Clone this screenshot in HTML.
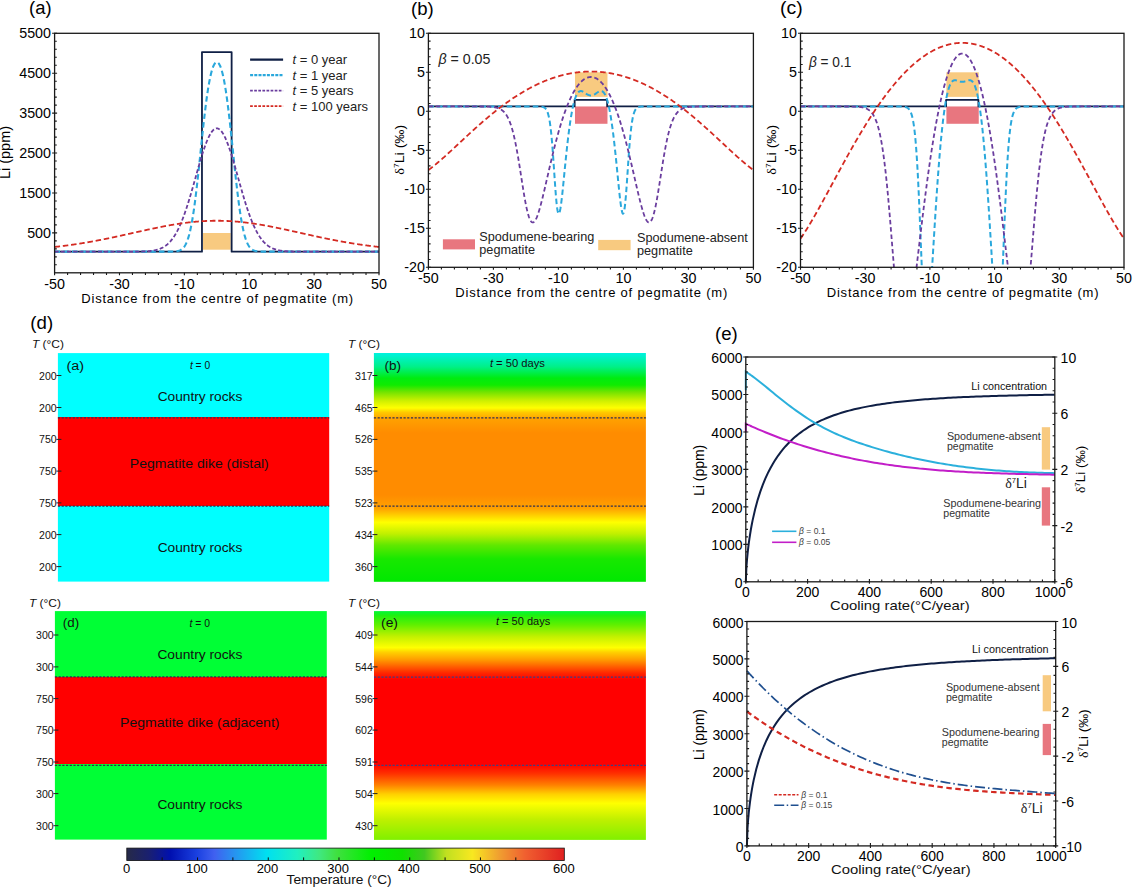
<!DOCTYPE html>
<html><head><meta charset="utf-8"><style>
html,body{margin:0;padding:0;background:#fff;}
svg{display:block;}
</style></head><body>
<svg width="1134" height="887" viewBox="0 0 1134 887" font-family="'Liberation Sans', Arial, sans-serif">
<rect width="1134" height="887" fill="#fff"/>
<defs><clipPath id="ca"><rect x="54.6" y="33.3" width="324.4" height="239.5"/></clipPath>
<clipPath id="cb"><rect x="428.4" y="33.3" width="325.0" height="234.0"/></clipPath>
<clipPath id="cc"><rect x="800.5" y="33.3" width="323.5" height="234.0"/></clipPath>
</defs>
<text x="29.1" y="14" font-size="18" textLength="22.5" lengthAdjust="spacingAndGlyphs">(a)</text>
<rect x="203" y="233" width="27.7" height="16.7" fill="#f8ca80"/>
<path d="M54.6,251.64 L201.97,251.64 L201.97,52.06 L231.63,52.06 L231.63,251.64 L379,251.64" stroke="#0f1f45" stroke-width="1.8" fill="none" stroke-linejoin="round" />
<path d="M54.6,251.64 L55.01,251.64 L55.41,251.64 L55.82,251.64 L56.22,251.64 L56.63,251.64 L57.03,251.64 L57.44,251.64 L57.84,251.64 L58.25,251.64 L58.66,251.64 L59.06,251.64 L59.47,251.64 L59.87,251.64 L60.28,251.64 L60.68,251.64 L61.09,251.64 L61.49,251.64 L61.9,251.64 L62.3,251.64 L62.71,251.64 L63.12,251.64 L63.52,251.64 L63.93,251.64 L64.33,251.64 L64.74,251.64 L65.14,251.64 L65.55,251.64 L65.95,251.64 L66.36,251.64 L66.77,251.64 L67.17,251.64 L67.58,251.64 L67.98,251.64 L68.39,251.64 L68.79,251.64 L69.2,251.64 L69.6,251.64 L70.01,251.64 L70.41,251.64 L70.82,251.64 L71.23,251.64 L71.63,251.64 L72.04,251.64 L72.44,251.64 L72.85,251.64 L73.25,251.64 L73.66,251.64 L74.06,251.64 L74.47,251.64 L74.88,251.64 L75.28,251.64 L75.69,251.64 L76.09,251.64 L76.5,251.64 L76.9,251.64 L77.31,251.64 L77.71,251.64 L78.12,251.64 L78.52,251.64 L78.93,251.64 L79.34,251.64 L79.74,251.64 L80.15,251.64 L80.55,251.64 L80.96,251.64 L81.36,251.64 L81.77,251.64 L82.17,251.64 L82.58,251.64 L82.98,251.64 L83.39,251.64 L83.8,251.64 L84.2,251.64 L84.61,251.64 L85.01,251.64 L85.42,251.64 L85.82,251.64 L86.23,251.64 L86.63,251.64 L87.04,251.64 L87.45,251.64 L87.85,251.64 L88.26,251.64 L88.66,251.64 L89.07,251.64 L89.47,251.64 L89.88,251.64 L90.28,251.64 L90.69,251.64 L91.09,251.64 L91.5,251.64 L91.91,251.64 L92.31,251.64 L92.72,251.64 L93.12,251.64 L93.53,251.64 L93.93,251.64 L94.34,251.64 L94.74,251.64 L95.15,251.64 L95.56,251.64 L95.96,251.64 L96.37,251.64 L96.77,251.64 L97.18,251.64 L97.58,251.64 L97.99,251.64 L98.39,251.64 L98.8,251.64 L99.21,251.64 L99.61,251.64 L100.02,251.64 L100.42,251.64 L100.83,251.64 L101.23,251.64 L101.64,251.64 L102.04,251.64 L102.45,251.64 L102.85,251.64 L103.26,251.64 L103.67,251.64 L104.07,251.64 L104.48,251.64 L104.88,251.64 L105.29,251.64 L105.69,251.64 L106.1,251.64 L106.5,251.64 L106.91,251.64 L107.31,251.64 L107.72,251.64 L108.13,251.64 L108.53,251.64 L108.94,251.64 L109.34,251.64 L109.75,251.64 L110.15,251.64 L110.56,251.64 L110.96,251.64 L111.37,251.64 L111.78,251.64 L112.18,251.64 L112.59,251.64 L112.99,251.64 L113.4,251.64 L113.8,251.64 L114.21,251.64 L114.61,251.64 L115.02,251.64 L115.42,251.64 L115.83,251.64 L116.24,251.64 L116.64,251.64 L117.05,251.64 L117.45,251.64 L117.86,251.64 L118.26,251.64 L118.67,251.64 L119.07,251.64 L119.48,251.64 L119.89,251.64 L120.29,251.64 L120.7,251.64 L121.1,251.64 L121.51,251.64 L121.91,251.64 L122.32,251.64 L122.72,251.64 L123.13,251.64 L123.53,251.64 L123.94,251.64 L124.35,251.64 L124.75,251.64 L125.16,251.64 L125.56,251.64 L125.97,251.64 L126.37,251.64 L126.78,251.64 L127.18,251.64 L127.59,251.64 L128,251.64 L128.4,251.64 L128.81,251.64 L129.21,251.64 L129.62,251.64 L130.02,251.64 L130.43,251.64 L130.83,251.64 L131.24,251.64 L131.64,251.64 L132.05,251.64 L132.46,251.64 L132.86,251.64 L133.27,251.64 L133.67,251.64 L134.08,251.64 L134.48,251.64 L134.89,251.64 L135.29,251.64 L135.7,251.64 L136.11,251.64 L136.51,251.64 L136.92,251.64 L137.32,251.64 L137.73,251.64 L138.13,251.64 L138.54,251.64 L138.94,251.64 L139.35,251.64 L139.75,251.64 L140.16,251.64 L140.57,251.64 L140.97,251.64 L141.38,251.64 L141.78,251.64 L142.19,251.64 L142.59,251.64 L143,251.64 L143.4,251.64 L143.81,251.64 L144.22,251.64 L144.62,251.64 L145.03,251.64 L145.43,251.64 L145.84,251.64 L146.24,251.64 L146.65,251.64 L147.05,251.64 L147.46,251.64 L147.86,251.64 L148.27,251.64 L148.68,251.64 L149.08,251.64 L149.49,251.64 L149.89,251.64 L150.3,251.64 L150.7,251.64 L151.11,251.64 L151.51,251.64 L151.92,251.64 L152.33,251.64 L152.73,251.64 L153.14,251.64 L153.54,251.64 L153.95,251.64 L154.35,251.64 L154.76,251.64 L155.16,251.64 L155.57,251.64 L155.97,251.64 L156.38,251.64 L156.79,251.64 L157.19,251.64 L157.6,251.64 L158,251.64 L158.41,251.64 L158.81,251.64 L159.22,251.64 L159.62,251.64 L160.03,251.64 L160.44,251.64 L160.84,251.64 L161.25,251.64 L161.65,251.64 L162.06,251.64 L162.46,251.64 L162.87,251.64 L163.27,251.64 L163.68,251.64 L164.09,251.64 L164.49,251.64 L164.9,251.64 L165.3,251.64 L165.71,251.64 L166.11,251.64 L166.52,251.64 L166.92,251.64 L167.33,251.64 L167.73,251.64 L168.14,251.63 L168.55,251.63 L168.95,251.63 L169.36,251.63 L169.76,251.62 L170.17,251.62 L170.57,251.61 L170.98,251.61 L171.38,251.6 L171.79,251.59 L172.19,251.58 L172.6,251.57 L173.01,251.55 L173.41,251.54 L173.82,251.52 L174.22,251.49 L174.63,251.47 L175.03,251.44 L175.44,251.4 L175.84,251.36 L176.25,251.31 L176.66,251.25 L177.06,251.18 L177.47,251.11 L177.87,251.02 L178.28,250.92 L178.68,250.81 L179.09,250.68 L179.49,250.54 L179.9,250.37 L180.31,250.19 L180.71,249.98 L181.12,249.74 L181.52,249.48 L181.93,249.18 L182.33,248.85 L182.74,248.48 L183.14,248.08 L183.55,247.63 L183.95,247.13 L184.36,246.58 L184.77,245.97 L185.17,245.31 L185.58,244.58 L185.98,243.79 L186.39,242.92 L186.79,241.98 L187.2,240.96 L187.6,239.86 L188.01,238.66 L188.41,237.38 L188.82,236 L189.23,234.53 L189.63,232.95 L190.04,231.27 L190.44,229.48 L190.85,227.57 L191.25,225.56 L191.66,223.44 L192.06,221.2 L192.47,218.84 L192.88,216.37 L193.28,213.78 L193.69,211.08 L194.09,208.27 L194.5,205.35 L194.9,202.33 L195.31,199.2 L195.71,195.97 L196.12,192.65 L196.52,189.24 L196.93,185.75 L197.34,182.19 L197.74,178.55 L198.15,174.85 L198.55,171.11 L198.96,167.31 L199.36,163.48 L199.77,159.62 L200.17,155.75 L200.58,151.86 L200.99,147.98 L201.39,144.1 L201.8,140.25 L202.2,136.42 L202.61,132.63 L203.01,128.88 L203.42,125.19 L203.82,121.56 L204.23,118.01 L204.63,114.52 L205.04,111.13 L205.45,107.82 L205.85,104.61 L206.26,101.5 L206.66,98.5 L207.07,95.61 L207.47,92.83 L207.88,90.17 L208.28,87.63 L208.69,85.2 L209.1,82.91 L209.5,80.73 L209.91,78.68 L210.31,76.75 L210.72,74.95 L211.12,73.27 L211.53,71.72 L211.93,70.29 L212.34,68.97 L212.74,67.78 L213.15,66.71 L213.56,65.75 L213.96,64.91 L214.37,64.19 L214.77,63.58 L215.18,63.08 L215.58,62.69 L215.99,62.42 L216.39,62.25 L216.8,62.2 L217.21,62.25 L217.61,62.42 L218.02,62.69 L218.42,63.08 L218.83,63.58 L219.23,64.19 L219.64,64.91 L220.04,65.75 L220.45,66.71 L220.85,67.78 L221.26,68.97 L221.67,70.29 L222.07,71.72 L222.48,73.27 L222.88,74.95 L223.29,76.75 L223.69,78.68 L224.1,80.73 L224.5,82.91 L224.91,85.2 L225.32,87.63 L225.72,90.17 L226.13,92.83 L226.53,95.61 L226.94,98.5 L227.34,101.5 L227.75,104.61 L228.15,107.82 L228.56,111.13 L228.96,114.52 L229.37,118.01 L229.78,121.56 L230.18,125.19 L230.59,128.88 L230.99,132.63 L231.4,136.42 L231.8,140.25 L232.21,144.1 L232.61,147.98 L233.02,151.86 L233.43,155.75 L233.83,159.62 L234.24,163.48 L234.64,167.31 L235.05,171.11 L235.45,174.85 L235.86,178.55 L236.26,182.19 L236.67,185.75 L237.07,189.24 L237.48,192.65 L237.89,195.97 L238.29,199.2 L238.7,202.33 L239.1,205.35 L239.51,208.27 L239.91,211.08 L240.32,213.78 L240.72,216.37 L241.13,218.84 L241.54,221.2 L241.94,223.44 L242.35,225.56 L242.75,227.57 L243.16,229.48 L243.56,231.27 L243.97,232.95 L244.37,234.53 L244.78,236 L245.19,237.38 L245.59,238.66 L246,239.86 L246.4,240.96 L246.81,241.98 L247.21,242.92 L247.62,243.79 L248.02,244.58 L248.43,245.31 L248.83,245.97 L249.24,246.58 L249.65,247.13 L250.05,247.63 L250.46,248.08 L250.86,248.48 L251.27,248.85 L251.67,249.18 L252.08,249.48 L252.48,249.74 L252.89,249.98 L253.29,250.19 L253.7,250.37 L254.11,250.54 L254.51,250.68 L254.92,250.81 L255.32,250.92 L255.73,251.02 L256.13,251.11 L256.54,251.18 L256.94,251.25 L257.35,251.31 L257.76,251.36 L258.16,251.4 L258.57,251.44 L258.97,251.47 L259.38,251.49 L259.78,251.52 L260.19,251.54 L260.59,251.55 L261,251.57 L261.4,251.58 L261.81,251.59 L262.22,251.6 L262.62,251.61 L263.03,251.61 L263.43,251.62 L263.84,251.62 L264.24,251.63 L264.65,251.63 L265.05,251.63 L265.46,251.63 L265.87,251.64 L266.27,251.64 L266.68,251.64 L267.08,251.64 L267.49,251.64 L267.89,251.64 L268.3,251.64 L268.7,251.64 L269.11,251.64 L269.51,251.64 L269.92,251.64 L270.33,251.64 L270.73,251.64 L271.14,251.64 L271.54,251.64 L271.95,251.64 L272.35,251.64 L272.76,251.64 L273.16,251.64 L273.57,251.64 L273.98,251.64 L274.38,251.64 L274.79,251.64 L275.19,251.64 L275.6,251.64 L276,251.64 L276.41,251.64 L276.81,251.64 L277.22,251.64 L277.62,251.64 L278.03,251.64 L278.44,251.64 L278.84,251.64 L279.25,251.64 L279.65,251.64 L280.06,251.64 L280.46,251.64 L280.87,251.64 L281.27,251.64 L281.68,251.64 L282.09,251.64 L282.49,251.64 L282.9,251.64 L283.3,251.64 L283.71,251.64 L284.11,251.64 L284.52,251.64 L284.92,251.64 L285.33,251.64 L285.74,251.64 L286.14,251.64 L286.55,251.64 L286.95,251.64 L287.36,251.64 L287.76,251.64 L288.17,251.64 L288.57,251.64 L288.98,251.64 L289.38,251.64 L289.79,251.64 L290.2,251.64 L290.6,251.64 L291.01,251.64 L291.41,251.64 L291.82,251.64 L292.22,251.64 L292.63,251.64 L293.03,251.64 L293.44,251.64 L293.85,251.64 L294.25,251.64 L294.66,251.64 L295.06,251.64 L295.47,251.64 L295.87,251.64 L296.28,251.64 L296.68,251.64 L297.09,251.64 L297.49,251.64 L297.9,251.64 L298.31,251.64 L298.71,251.64 L299.12,251.64 L299.52,251.64 L299.93,251.64 L300.33,251.64 L300.74,251.64 L301.14,251.64 L301.55,251.64 L301.95,251.64 L302.36,251.64 L302.77,251.64 L303.17,251.64 L303.58,251.64 L303.98,251.64 L304.39,251.64 L304.79,251.64 L305.2,251.64 L305.6,251.64 L306.01,251.64 L306.42,251.64 L306.82,251.64 L307.23,251.64 L307.63,251.64 L308.04,251.64 L308.44,251.64 L308.85,251.64 L309.25,251.64 L309.66,251.64 L310.06,251.64 L310.47,251.64 L310.88,251.64 L311.28,251.64 L311.69,251.64 L312.09,251.64 L312.5,251.64 L312.9,251.64 L313.31,251.64 L313.71,251.64 L314.12,251.64 L314.53,251.64 L314.93,251.64 L315.34,251.64 L315.74,251.64 L316.15,251.64 L316.55,251.64 L316.96,251.64 L317.36,251.64 L317.77,251.64 L318.18,251.64 L318.58,251.64 L318.99,251.64 L319.39,251.64 L319.8,251.64 L320.2,251.64 L320.61,251.64 L321.01,251.64 L321.42,251.64 L321.82,251.64 L322.23,251.64 L322.64,251.64 L323.04,251.64 L323.45,251.64 L323.85,251.64 L324.26,251.64 L324.66,251.64 L325.07,251.64 L325.47,251.64 L325.88,251.64 L326.29,251.64 L326.69,251.64 L327.1,251.64 L327.5,251.64 L327.91,251.64 L328.31,251.64 L328.72,251.64 L329.12,251.64 L329.53,251.64 L329.93,251.64 L330.34,251.64 L330.75,251.64 L331.15,251.64 L331.56,251.64 L331.96,251.64 L332.37,251.64 L332.77,251.64 L333.18,251.64 L333.58,251.64 L333.99,251.64 L334.4,251.64 L334.8,251.64 L335.21,251.64 L335.61,251.64 L336.02,251.64 L336.42,251.64 L336.83,251.64 L337.23,251.64 L337.64,251.64 L338.04,251.64 L338.45,251.64 L338.86,251.64 L339.26,251.64 L339.67,251.64 L340.07,251.64 L340.48,251.64 L340.88,251.64 L341.29,251.64 L341.69,251.64 L342.1,251.64 L342.5,251.64 L342.91,251.64 L343.32,251.64 L343.72,251.64 L344.13,251.64 L344.53,251.64 L344.94,251.64 L345.34,251.64 L345.75,251.64 L346.15,251.64 L346.56,251.64 L346.97,251.64 L347.37,251.64 L347.78,251.64 L348.18,251.64 L348.59,251.64 L348.99,251.64 L349.4,251.64 L349.8,251.64 L350.21,251.64 L350.62,251.64 L351.02,251.64 L351.43,251.64 L351.83,251.64 L352.24,251.64 L352.64,251.64 L353.05,251.64 L353.45,251.64 L353.86,251.64 L354.26,251.64 L354.67,251.64 L355.08,251.64 L355.48,251.64 L355.89,251.64 L356.29,251.64 L356.7,251.64 L357.1,251.64 L357.51,251.64 L357.91,251.64 L358.32,251.64 L358.73,251.64 L359.13,251.64 L359.54,251.64 L359.94,251.64 L360.35,251.64 L360.75,251.64 L361.16,251.64 L361.56,251.64 L361.97,251.64 L362.37,251.64 L362.78,251.64 L363.19,251.64 L363.59,251.64 L364,251.64 L364.4,251.64 L364.81,251.64 L365.21,251.64 L365.62,251.64 L366.02,251.64 L366.43,251.64 L366.84,251.64 L367.24,251.64 L367.65,251.64 L368.05,251.64 L368.46,251.64 L368.86,251.64 L369.27,251.64 L369.67,251.64 L370.08,251.64 L370.48,251.64 L370.89,251.64 L371.3,251.64 L371.7,251.64 L372.11,251.64 L372.51,251.64 L372.92,251.64 L373.32,251.64 L373.73,251.64 L374.13,251.64 L374.54,251.64 L374.94,251.64 L375.35,251.64 L375.76,251.64 L376.16,251.64 L376.57,251.64 L376.97,251.64 L377.38,251.64 L377.78,251.64 L378.19,251.64 L378.59,251.64 L379,251.64" stroke="#2aa8dc" stroke-width="2.1" fill="none" stroke-dasharray="5.5 3.2" clip-path="url(#ca)" stroke-linejoin="round" />
<path d="M54.6,251.64 L55.01,251.64 L55.41,251.64 L55.82,251.64 L56.22,251.64 L56.63,251.64 L57.03,251.64 L57.44,251.64 L57.84,251.64 L58.25,251.64 L58.66,251.64 L59.06,251.64 L59.47,251.64 L59.87,251.64 L60.28,251.64 L60.68,251.64 L61.09,251.64 L61.49,251.64 L61.9,251.64 L62.3,251.64 L62.71,251.64 L63.12,251.64 L63.52,251.64 L63.93,251.64 L64.33,251.64 L64.74,251.64 L65.14,251.64 L65.55,251.64 L65.95,251.64 L66.36,251.64 L66.77,251.64 L67.17,251.64 L67.58,251.64 L67.98,251.64 L68.39,251.64 L68.79,251.64 L69.2,251.64 L69.6,251.64 L70.01,251.64 L70.41,251.64 L70.82,251.64 L71.23,251.64 L71.63,251.64 L72.04,251.64 L72.44,251.64 L72.85,251.64 L73.25,251.64 L73.66,251.64 L74.06,251.64 L74.47,251.64 L74.88,251.64 L75.28,251.64 L75.69,251.64 L76.09,251.64 L76.5,251.64 L76.9,251.64 L77.31,251.64 L77.71,251.64 L78.12,251.64 L78.52,251.64 L78.93,251.64 L79.34,251.64 L79.74,251.64 L80.15,251.64 L80.55,251.64 L80.96,251.64 L81.36,251.64 L81.77,251.64 L82.17,251.64 L82.58,251.64 L82.98,251.64 L83.39,251.64 L83.8,251.64 L84.2,251.64 L84.61,251.64 L85.01,251.64 L85.42,251.64 L85.82,251.64 L86.23,251.64 L86.63,251.64 L87.04,251.64 L87.45,251.64 L87.85,251.64 L88.26,251.64 L88.66,251.64 L89.07,251.64 L89.47,251.64 L89.88,251.64 L90.28,251.64 L90.69,251.64 L91.09,251.64 L91.5,251.64 L91.91,251.64 L92.31,251.64 L92.72,251.64 L93.12,251.64 L93.53,251.64 L93.93,251.64 L94.34,251.64 L94.74,251.64 L95.15,251.64 L95.56,251.64 L95.96,251.64 L96.37,251.64 L96.77,251.64 L97.18,251.64 L97.58,251.64 L97.99,251.64 L98.39,251.64 L98.8,251.64 L99.21,251.64 L99.61,251.64 L100.02,251.64 L100.42,251.64 L100.83,251.64 L101.23,251.64 L101.64,251.64 L102.04,251.64 L102.45,251.64 L102.85,251.64 L103.26,251.64 L103.67,251.64 L104.07,251.64 L104.48,251.64 L104.88,251.64 L105.29,251.64 L105.69,251.64 L106.1,251.64 L106.5,251.64 L106.91,251.64 L107.31,251.64 L107.72,251.64 L108.13,251.64 L108.53,251.64 L108.94,251.64 L109.34,251.64 L109.75,251.64 L110.15,251.64 L110.56,251.64 L110.96,251.64 L111.37,251.64 L111.78,251.64 L112.18,251.64 L112.59,251.64 L112.99,251.64 L113.4,251.64 L113.8,251.64 L114.21,251.64 L114.61,251.64 L115.02,251.64 L115.42,251.64 L115.83,251.64 L116.24,251.64 L116.64,251.64 L117.05,251.64 L117.45,251.64 L117.86,251.64 L118.26,251.64 L118.67,251.64 L119.07,251.64 L119.48,251.64 L119.89,251.64 L120.29,251.64 L120.7,251.64 L121.1,251.64 L121.51,251.64 L121.91,251.64 L122.32,251.64 L122.72,251.64 L123.13,251.64 L123.53,251.64 L123.94,251.64 L124.35,251.64 L124.75,251.64 L125.16,251.64 L125.56,251.64 L125.97,251.64 L126.37,251.64 L126.78,251.64 L127.18,251.64 L127.59,251.64 L128,251.63 L128.4,251.63 L128.81,251.63 L129.21,251.63 L129.62,251.63 L130.02,251.63 L130.43,251.63 L130.83,251.63 L131.24,251.63 L131.64,251.62 L132.05,251.62 L132.46,251.62 L132.86,251.62 L133.27,251.62 L133.67,251.61 L134.08,251.61 L134.48,251.61 L134.89,251.6 L135.29,251.6 L135.7,251.6 L136.11,251.59 L136.51,251.59 L136.92,251.58 L137.32,251.58 L137.73,251.57 L138.13,251.57 L138.54,251.56 L138.94,251.55 L139.35,251.55 L139.75,251.54 L140.16,251.53 L140.57,251.52 L140.97,251.51 L141.38,251.5 L141.78,251.49 L142.19,251.48 L142.59,251.47 L143,251.45 L143.4,251.44 L143.81,251.42 L144.22,251.4 L144.62,251.39 L145.03,251.37 L145.43,251.35 L145.84,251.33 L146.24,251.3 L146.65,251.28 L147.05,251.25 L147.46,251.22 L147.86,251.19 L148.27,251.16 L148.68,251.13 L149.08,251.09 L149.49,251.05 L149.89,251.01 L150.3,250.97 L150.7,250.92 L151.11,250.88 L151.51,250.82 L151.92,250.77 L152.33,250.71 L152.73,250.65 L153.14,250.59 L153.54,250.52 L153.95,250.45 L154.35,250.37 L154.76,250.29 L155.16,250.21 L155.57,250.12 L155.97,250.02 L156.38,249.92 L156.79,249.82 L157.19,249.71 L157.6,249.59 L158,249.47 L158.41,249.34 L158.81,249.21 L159.22,249.07 L159.62,248.92 L160.03,248.76 L160.44,248.6 L160.84,248.43 L161.25,248.25 L161.65,248.06 L162.06,247.86 L162.46,247.66 L162.87,247.44 L163.27,247.22 L163.68,246.98 L164.09,246.74 L164.49,246.48 L164.9,246.22 L165.3,245.94 L165.71,245.65 L166.11,245.35 L166.52,245.03 L166.92,244.71 L167.33,244.37 L167.73,244.01 L168.14,243.65 L168.55,243.27 L168.95,242.87 L169.36,242.46 L169.76,242.03 L170.17,241.59 L170.57,241.14 L170.98,240.66 L171.38,240.17 L171.79,239.67 L172.19,239.14 L172.6,238.6 L173.01,238.04 L173.41,237.47 L173.82,236.87 L174.22,236.26 L174.63,235.62 L175.03,234.97 L175.44,234.3 L175.84,233.61 L176.25,232.9 L176.66,232.17 L177.06,231.42 L177.47,230.65 L177.87,229.85 L178.28,229.04 L178.68,228.21 L179.09,227.35 L179.49,226.48 L179.9,225.58 L180.31,224.67 L180.71,223.73 L181.12,222.77 L181.52,221.79 L181.93,220.79 L182.33,219.77 L182.74,218.73 L183.14,217.67 L183.55,216.59 L183.95,215.49 L184.36,214.36 L184.77,213.22 L185.17,212.06 L185.58,210.88 L185.98,209.69 L186.39,208.47 L186.79,207.24 L187.2,205.99 L187.6,204.72 L188.01,203.44 L188.41,202.14 L188.82,200.83 L189.23,199.5 L189.63,198.16 L190.04,196.8 L190.44,195.44 L190.85,194.06 L191.25,192.67 L191.66,191.27 L192.06,189.86 L192.47,188.45 L192.88,187.02 L193.28,185.59 L193.69,184.16 L194.09,182.71 L194.5,181.27 L194.9,179.82 L195.31,178.37 L195.71,176.92 L196.12,175.48 L196.52,174.03 L196.93,172.58 L197.34,171.14 L197.74,169.71 L198.15,168.28 L198.55,166.86 L198.96,165.44 L199.36,164.04 L199.77,162.65 L200.17,161.27 L200.58,159.9 L200.99,158.54 L201.39,157.21 L201.8,155.89 L202.2,154.58 L202.61,153.3 L203.01,152.03 L203.42,150.79 L203.82,149.57 L204.23,148.38 L204.63,147.21 L205.04,146.06 L205.45,144.95 L205.85,143.86 L206.26,142.8 L206.66,141.77 L207.07,140.77 L207.47,139.81 L207.88,138.88 L208.28,137.98 L208.69,137.12 L209.1,136.29 L209.5,135.5 L209.91,134.75 L210.31,134.04 L210.72,133.37 L211.12,132.74 L211.53,132.14 L211.93,131.59 L212.34,131.08 L212.74,130.62 L213.15,130.19 L213.56,129.81 L213.96,129.48 L214.37,129.19 L214.77,128.94 L215.18,128.74 L215.58,128.58 L215.99,128.46 L216.39,128.4 L216.8,128.37 L217.21,128.4 L217.61,128.46 L218.02,128.58 L218.42,128.74 L218.83,128.94 L219.23,129.19 L219.64,129.48 L220.04,129.81 L220.45,130.19 L220.85,130.62 L221.26,131.08 L221.67,131.59 L222.07,132.14 L222.48,132.74 L222.88,133.37 L223.29,134.04 L223.69,134.75 L224.1,135.5 L224.5,136.29 L224.91,137.12 L225.32,137.98 L225.72,138.88 L226.13,139.81 L226.53,140.77 L226.94,141.77 L227.34,142.8 L227.75,143.86 L228.15,144.95 L228.56,146.06 L228.96,147.21 L229.37,148.38 L229.78,149.57 L230.18,150.79 L230.59,152.03 L230.99,153.3 L231.4,154.58 L231.8,155.89 L232.21,157.21 L232.61,158.54 L233.02,159.9 L233.43,161.27 L233.83,162.65 L234.24,164.04 L234.64,165.44 L235.05,166.86 L235.45,168.28 L235.86,169.71 L236.26,171.14 L236.67,172.58 L237.07,174.03 L237.48,175.48 L237.89,176.92 L238.29,178.37 L238.7,179.82 L239.1,181.27 L239.51,182.71 L239.91,184.16 L240.32,185.59 L240.72,187.02 L241.13,188.45 L241.54,189.86 L241.94,191.27 L242.35,192.67 L242.75,194.06 L243.16,195.44 L243.56,196.8 L243.97,198.16 L244.37,199.5 L244.78,200.83 L245.19,202.14 L245.59,203.44 L246,204.72 L246.4,205.99 L246.81,207.24 L247.21,208.47 L247.62,209.69 L248.02,210.88 L248.43,212.06 L248.83,213.22 L249.24,214.36 L249.65,215.49 L250.05,216.59 L250.46,217.67 L250.86,218.73 L251.27,219.77 L251.67,220.79 L252.08,221.79 L252.48,222.77 L252.89,223.73 L253.29,224.67 L253.7,225.58 L254.11,226.48 L254.51,227.35 L254.92,228.21 L255.32,229.04 L255.73,229.85 L256.13,230.65 L256.54,231.42 L256.94,232.17 L257.35,232.9 L257.76,233.61 L258.16,234.3 L258.57,234.97 L258.97,235.62 L259.38,236.26 L259.78,236.87 L260.19,237.47 L260.59,238.04 L261,238.6 L261.4,239.14 L261.81,239.67 L262.22,240.17 L262.62,240.66 L263.03,241.14 L263.43,241.59 L263.84,242.03 L264.24,242.46 L264.65,242.87 L265.05,243.27 L265.46,243.65 L265.87,244.01 L266.27,244.37 L266.68,244.71 L267.08,245.03 L267.49,245.35 L267.89,245.65 L268.3,245.94 L268.7,246.22 L269.11,246.48 L269.51,246.74 L269.92,246.98 L270.33,247.22 L270.73,247.44 L271.14,247.66 L271.54,247.86 L271.95,248.06 L272.35,248.25 L272.76,248.43 L273.16,248.6 L273.57,248.76 L273.98,248.92 L274.38,249.07 L274.79,249.21 L275.19,249.34 L275.6,249.47 L276,249.59 L276.41,249.71 L276.81,249.82 L277.22,249.92 L277.62,250.02 L278.03,250.12 L278.44,250.21 L278.84,250.29 L279.25,250.37 L279.65,250.45 L280.06,250.52 L280.46,250.59 L280.87,250.65 L281.27,250.71 L281.68,250.77 L282.09,250.82 L282.49,250.88 L282.9,250.92 L283.3,250.97 L283.71,251.01 L284.11,251.05 L284.52,251.09 L284.92,251.13 L285.33,251.16 L285.74,251.19 L286.14,251.22 L286.55,251.25 L286.95,251.28 L287.36,251.3 L287.76,251.33 L288.17,251.35 L288.57,251.37 L288.98,251.39 L289.38,251.4 L289.79,251.42 L290.2,251.44 L290.6,251.45 L291.01,251.47 L291.41,251.48 L291.82,251.49 L292.22,251.5 L292.63,251.51 L293.03,251.52 L293.44,251.53 L293.85,251.54 L294.25,251.55 L294.66,251.55 L295.06,251.56 L295.47,251.57 L295.87,251.57 L296.28,251.58 L296.68,251.58 L297.09,251.59 L297.49,251.59 L297.9,251.6 L298.31,251.6 L298.71,251.6 L299.12,251.61 L299.52,251.61 L299.93,251.61 L300.33,251.62 L300.74,251.62 L301.14,251.62 L301.55,251.62 L301.95,251.62 L302.36,251.63 L302.77,251.63 L303.17,251.63 L303.58,251.63 L303.98,251.63 L304.39,251.63 L304.79,251.63 L305.2,251.63 L305.6,251.63 L306.01,251.64 L306.42,251.64 L306.82,251.64 L307.23,251.64 L307.63,251.64 L308.04,251.64 L308.44,251.64 L308.85,251.64 L309.25,251.64 L309.66,251.64 L310.06,251.64 L310.47,251.64 L310.88,251.64 L311.28,251.64 L311.69,251.64 L312.09,251.64 L312.5,251.64 L312.9,251.64 L313.31,251.64 L313.71,251.64 L314.12,251.64 L314.53,251.64 L314.93,251.64 L315.34,251.64 L315.74,251.64 L316.15,251.64 L316.55,251.64 L316.96,251.64 L317.36,251.64 L317.77,251.64 L318.18,251.64 L318.58,251.64 L318.99,251.64 L319.39,251.64 L319.8,251.64 L320.2,251.64 L320.61,251.64 L321.01,251.64 L321.42,251.64 L321.82,251.64 L322.23,251.64 L322.64,251.64 L323.04,251.64 L323.45,251.64 L323.85,251.64 L324.26,251.64 L324.66,251.64 L325.07,251.64 L325.47,251.64 L325.88,251.64 L326.29,251.64 L326.69,251.64 L327.1,251.64 L327.5,251.64 L327.91,251.64 L328.31,251.64 L328.72,251.64 L329.12,251.64 L329.53,251.64 L329.93,251.64 L330.34,251.64 L330.75,251.64 L331.15,251.64 L331.56,251.64 L331.96,251.64 L332.37,251.64 L332.77,251.64 L333.18,251.64 L333.58,251.64 L333.99,251.64 L334.4,251.64 L334.8,251.64 L335.21,251.64 L335.61,251.64 L336.02,251.64 L336.42,251.64 L336.83,251.64 L337.23,251.64 L337.64,251.64 L338.04,251.64 L338.45,251.64 L338.86,251.64 L339.26,251.64 L339.67,251.64 L340.07,251.64 L340.48,251.64 L340.88,251.64 L341.29,251.64 L341.69,251.64 L342.1,251.64 L342.5,251.64 L342.91,251.64 L343.32,251.64 L343.72,251.64 L344.13,251.64 L344.53,251.64 L344.94,251.64 L345.34,251.64 L345.75,251.64 L346.15,251.64 L346.56,251.64 L346.97,251.64 L347.37,251.64 L347.78,251.64 L348.18,251.64 L348.59,251.64 L348.99,251.64 L349.4,251.64 L349.8,251.64 L350.21,251.64 L350.62,251.64 L351.02,251.64 L351.43,251.64 L351.83,251.64 L352.24,251.64 L352.64,251.64 L353.05,251.64 L353.45,251.64 L353.86,251.64 L354.26,251.64 L354.67,251.64 L355.08,251.64 L355.48,251.64 L355.89,251.64 L356.29,251.64 L356.7,251.64 L357.1,251.64 L357.51,251.64 L357.91,251.64 L358.32,251.64 L358.73,251.64 L359.13,251.64 L359.54,251.64 L359.94,251.64 L360.35,251.64 L360.75,251.64 L361.16,251.64 L361.56,251.64 L361.97,251.64 L362.37,251.64 L362.78,251.64 L363.19,251.64 L363.59,251.64 L364,251.64 L364.4,251.64 L364.81,251.64 L365.21,251.64 L365.62,251.64 L366.02,251.64 L366.43,251.64 L366.84,251.64 L367.24,251.64 L367.65,251.64 L368.05,251.64 L368.46,251.64 L368.86,251.64 L369.27,251.64 L369.67,251.64 L370.08,251.64 L370.48,251.64 L370.89,251.64 L371.3,251.64 L371.7,251.64 L372.11,251.64 L372.51,251.64 L372.92,251.64 L373.32,251.64 L373.73,251.64 L374.13,251.64 L374.54,251.64 L374.94,251.64 L375.35,251.64 L375.76,251.64 L376.16,251.64 L376.57,251.64 L376.97,251.64 L377.38,251.64 L377.78,251.64 L378.19,251.64 L378.59,251.64 L379,251.64" stroke="#6a3d9e" stroke-width="1.8" fill="none" stroke-dasharray="4 2.2" clip-path="url(#ca)" stroke-linejoin="round" />
<path d="M54.6,246.95 L55.01,246.9 L55.41,246.86 L55.82,246.81 L56.22,246.77 L56.63,246.72 L57.03,246.67 L57.44,246.63 L57.84,246.58 L58.25,246.53 L58.66,246.49 L59.06,246.44 L59.47,246.39 L59.87,246.34 L60.28,246.3 L60.68,246.25 L61.09,246.2 L61.49,246.15 L61.9,246.1 L62.3,246.05 L62.71,246 L63.12,245.95 L63.52,245.9 L63.93,245.84 L64.33,245.79 L64.74,245.74 L65.14,245.69 L65.55,245.64 L65.95,245.58 L66.36,245.53 L66.77,245.48 L67.17,245.42 L67.58,245.37 L67.98,245.31 L68.39,245.26 L68.79,245.2 L69.2,245.15 L69.6,245.09 L70.01,245.04 L70.41,244.98 L70.82,244.92 L71.23,244.87 L71.63,244.81 L72.04,244.75 L72.44,244.69 L72.85,244.63 L73.25,244.58 L73.66,244.52 L74.06,244.46 L74.47,244.4 L74.88,244.34 L75.28,244.28 L75.69,244.22 L76.09,244.15 L76.5,244.09 L76.9,244.03 L77.31,243.97 L77.71,243.91 L78.12,243.84 L78.52,243.78 L78.93,243.72 L79.34,243.66 L79.74,243.59 L80.15,243.53 L80.55,243.46 L80.96,243.4 L81.36,243.33 L81.77,243.27 L82.17,243.2 L82.58,243.13 L82.98,243.07 L83.39,243 L83.8,242.93 L84.2,242.87 L84.61,242.8 L85.01,242.73 L85.42,242.66 L85.82,242.59 L86.23,242.53 L86.63,242.46 L87.04,242.39 L87.45,242.32 L87.85,242.25 L88.26,242.18 L88.66,242.1 L89.07,242.03 L89.47,241.96 L89.88,241.89 L90.28,241.82 L90.69,241.75 L91.09,241.67 L91.5,241.6 L91.91,241.53 L92.31,241.45 L92.72,241.38 L93.12,241.31 L93.53,241.23 L93.93,241.16 L94.34,241.08 L94.74,241.01 L95.15,240.93 L95.56,240.86 L95.96,240.78 L96.37,240.7 L96.77,240.63 L97.18,240.55 L97.58,240.47 L97.99,240.39 L98.39,240.32 L98.8,240.24 L99.21,240.16 L99.61,240.08 L100.02,240 L100.42,239.92 L100.83,239.84 L101.23,239.76 L101.64,239.69 L102.04,239.6 L102.45,239.52 L102.85,239.44 L103.26,239.36 L103.67,239.28 L104.07,239.2 L104.48,239.12 L104.88,239.04 L105.29,238.96 L105.69,238.87 L106.1,238.79 L106.5,238.71 L106.91,238.62 L107.31,238.54 L107.72,238.46 L108.13,238.37 L108.53,238.29 L108.94,238.21 L109.34,238.12 L109.75,238.04 L110.15,237.95 L110.56,237.87 L110.96,237.78 L111.37,237.7 L111.78,237.61 L112.18,237.53 L112.59,237.44 L112.99,237.36 L113.4,237.27 L113.8,237.18 L114.21,237.1 L114.61,237.01 L115.02,236.92 L115.42,236.84 L115.83,236.75 L116.24,236.66 L116.64,236.57 L117.05,236.49 L117.45,236.4 L117.86,236.31 L118.26,236.22 L118.67,236.13 L119.07,236.04 L119.48,235.96 L119.89,235.87 L120.29,235.78 L120.7,235.69 L121.1,235.6 L121.51,235.51 L121.91,235.42 L122.32,235.33 L122.72,235.24 L123.13,235.15 L123.53,235.06 L123.94,234.97 L124.35,234.88 L124.75,234.79 L125.16,234.7 L125.56,234.61 L125.97,234.52 L126.37,234.43 L126.78,234.34 L127.18,234.25 L127.59,234.16 L128,234.07 L128.4,233.98 L128.81,233.89 L129.21,233.8 L129.62,233.71 L130.02,233.62 L130.43,233.53 L130.83,233.43 L131.24,233.34 L131.64,233.25 L132.05,233.16 L132.46,233.07 L132.86,232.98 L133.27,232.89 L133.67,232.8 L134.08,232.71 L134.48,232.62 L134.89,232.53 L135.29,232.43 L135.7,232.34 L136.11,232.25 L136.51,232.16 L136.92,232.07 L137.32,231.98 L137.73,231.89 L138.13,231.8 L138.54,231.71 L138.94,231.62 L139.35,231.53 L139.75,231.44 L140.16,231.35 L140.57,231.26 L140.97,231.17 L141.38,231.08 L141.78,230.99 L142.19,230.9 L142.59,230.81 L143,230.72 L143.4,230.63 L143.81,230.54 L144.22,230.45 L144.62,230.36 L145.03,230.27 L145.43,230.18 L145.84,230.09 L146.24,230 L146.65,229.91 L147.05,229.83 L147.46,229.74 L147.86,229.65 L148.27,229.56 L148.68,229.47 L149.08,229.39 L149.49,229.3 L149.89,229.21 L150.3,229.12 L150.7,229.04 L151.11,228.95 L151.51,228.86 L151.92,228.78 L152.33,228.69 L152.73,228.61 L153.14,228.52 L153.54,228.43 L153.95,228.35 L154.35,228.26 L154.76,228.18 L155.16,228.1 L155.57,228.01 L155.97,227.93 L156.38,227.84 L156.79,227.76 L157.19,227.68 L157.6,227.59 L158,227.51 L158.41,227.43 L158.81,227.35 L159.22,227.27 L159.62,227.19 L160.03,227.1 L160.44,227.02 L160.84,226.94 L161.25,226.86 L161.65,226.78 L162.06,226.7 L162.46,226.62 L162.87,226.55 L163.27,226.47 L163.68,226.39 L164.09,226.31 L164.49,226.23 L164.9,226.16 L165.3,226.08 L165.71,226 L166.11,225.93 L166.52,225.85 L166.92,225.78 L167.33,225.7 L167.73,225.63 L168.14,225.55 L168.55,225.48 L168.95,225.41 L169.36,225.34 L169.76,225.26 L170.17,225.19 L170.57,225.12 L170.98,225.05 L171.38,224.98 L171.79,224.91 L172.19,224.84 L172.6,224.77 L173.01,224.7 L173.41,224.63 L173.82,224.56 L174.22,224.5 L174.63,224.43 L175.03,224.36 L175.44,224.3 L175.84,224.23 L176.25,224.17 L176.66,224.1 L177.06,224.04 L177.47,223.98 L177.87,223.91 L178.28,223.85 L178.68,223.79 L179.09,223.73 L179.49,223.67 L179.9,223.61 L180.31,223.55 L180.71,223.49 L181.12,223.43 L181.52,223.37 L181.93,223.31 L182.33,223.26 L182.74,223.2 L183.14,223.14 L183.55,223.09 L183.95,223.03 L184.36,222.98 L184.77,222.92 L185.17,222.87 L185.58,222.82 L185.98,222.77 L186.39,222.72 L186.79,222.66 L187.2,222.61 L187.6,222.57 L188.01,222.52 L188.41,222.47 L188.82,222.42 L189.23,222.37 L189.63,222.33 L190.04,222.28 L190.44,222.23 L190.85,222.19 L191.25,222.15 L191.66,222.1 L192.06,222.06 L192.47,222.02 L192.88,221.98 L193.28,221.94 L193.69,221.9 L194.09,221.86 L194.5,221.82 L194.9,221.78 L195.31,221.74 L195.71,221.7 L196.12,221.67 L196.52,221.63 L196.93,221.6 L197.34,221.56 L197.74,221.53 L198.15,221.5 L198.55,221.46 L198.96,221.43 L199.36,221.4 L199.77,221.37 L200.17,221.34 L200.58,221.31 L200.99,221.28 L201.39,221.26 L201.8,221.23 L202.2,221.2 L202.61,221.18 L203.01,221.15 L203.42,221.13 L203.82,221.11 L204.23,221.08 L204.63,221.06 L205.04,221.04 L205.45,221.02 L205.85,221 L206.26,220.98 L206.66,220.96 L207.07,220.94 L207.47,220.93 L207.88,220.91 L208.28,220.9 L208.69,220.88 L209.1,220.87 L209.5,220.85 L209.91,220.84 L210.31,220.83 L210.72,220.82 L211.12,220.81 L211.53,220.8 L211.93,220.79 L212.34,220.78 L212.74,220.77 L213.15,220.76 L213.56,220.76 L213.96,220.75 L214.37,220.75 L214.77,220.74 L215.18,220.74 L215.58,220.74 L215.99,220.74 L216.39,220.74 L216.8,220.74 L217.21,220.74 L217.61,220.74 L218.02,220.74 L218.42,220.74 L218.83,220.74 L219.23,220.75 L219.64,220.75 L220.04,220.76 L220.45,220.76 L220.85,220.77 L221.26,220.78 L221.67,220.79 L222.07,220.8 L222.48,220.81 L222.88,220.82 L223.29,220.83 L223.69,220.84 L224.1,220.85 L224.5,220.87 L224.91,220.88 L225.32,220.9 L225.72,220.91 L226.13,220.93 L226.53,220.94 L226.94,220.96 L227.34,220.98 L227.75,221 L228.15,221.02 L228.56,221.04 L228.96,221.06 L229.37,221.08 L229.78,221.11 L230.18,221.13 L230.59,221.15 L230.99,221.18 L231.4,221.2 L231.8,221.23 L232.21,221.26 L232.61,221.28 L233.02,221.31 L233.43,221.34 L233.83,221.37 L234.24,221.4 L234.64,221.43 L235.05,221.46 L235.45,221.5 L235.86,221.53 L236.26,221.56 L236.67,221.6 L237.07,221.63 L237.48,221.67 L237.89,221.7 L238.29,221.74 L238.7,221.78 L239.1,221.82 L239.51,221.86 L239.91,221.9 L240.32,221.94 L240.72,221.98 L241.13,222.02 L241.54,222.06 L241.94,222.1 L242.35,222.15 L242.75,222.19 L243.16,222.23 L243.56,222.28 L243.97,222.33 L244.37,222.37 L244.78,222.42 L245.19,222.47 L245.59,222.52 L246,222.57 L246.4,222.61 L246.81,222.66 L247.21,222.72 L247.62,222.77 L248.02,222.82 L248.43,222.87 L248.83,222.92 L249.24,222.98 L249.65,223.03 L250.05,223.09 L250.46,223.14 L250.86,223.2 L251.27,223.26 L251.67,223.31 L252.08,223.37 L252.48,223.43 L252.89,223.49 L253.29,223.55 L253.7,223.61 L254.11,223.67 L254.51,223.73 L254.92,223.79 L255.32,223.85 L255.73,223.91 L256.13,223.98 L256.54,224.04 L256.94,224.1 L257.35,224.17 L257.76,224.23 L258.16,224.3 L258.57,224.36 L258.97,224.43 L259.38,224.5 L259.78,224.56 L260.19,224.63 L260.59,224.7 L261,224.77 L261.4,224.84 L261.81,224.91 L262.22,224.98 L262.62,225.05 L263.03,225.12 L263.43,225.19 L263.84,225.26 L264.24,225.34 L264.65,225.41 L265.05,225.48 L265.46,225.55 L265.87,225.63 L266.27,225.7 L266.68,225.78 L267.08,225.85 L267.49,225.93 L267.89,226 L268.3,226.08 L268.7,226.16 L269.11,226.23 L269.51,226.31 L269.92,226.39 L270.33,226.47 L270.73,226.55 L271.14,226.62 L271.54,226.7 L271.95,226.78 L272.35,226.86 L272.76,226.94 L273.16,227.02 L273.57,227.1 L273.98,227.19 L274.38,227.27 L274.79,227.35 L275.19,227.43 L275.6,227.51 L276,227.59 L276.41,227.68 L276.81,227.76 L277.22,227.84 L277.62,227.93 L278.03,228.01 L278.44,228.1 L278.84,228.18 L279.25,228.26 L279.65,228.35 L280.06,228.43 L280.46,228.52 L280.87,228.61 L281.27,228.69 L281.68,228.78 L282.09,228.86 L282.49,228.95 L282.9,229.04 L283.3,229.12 L283.71,229.21 L284.11,229.3 L284.52,229.39 L284.92,229.47 L285.33,229.56 L285.74,229.65 L286.14,229.74 L286.55,229.83 L286.95,229.91 L287.36,230 L287.76,230.09 L288.17,230.18 L288.57,230.27 L288.98,230.36 L289.38,230.45 L289.79,230.54 L290.2,230.63 L290.6,230.72 L291.01,230.81 L291.41,230.9 L291.82,230.99 L292.22,231.08 L292.63,231.17 L293.03,231.26 L293.44,231.35 L293.85,231.44 L294.25,231.53 L294.66,231.62 L295.06,231.71 L295.47,231.8 L295.87,231.89 L296.28,231.98 L296.68,232.07 L297.09,232.16 L297.49,232.25 L297.9,232.34 L298.31,232.43 L298.71,232.53 L299.12,232.62 L299.52,232.71 L299.93,232.8 L300.33,232.89 L300.74,232.98 L301.14,233.07 L301.55,233.16 L301.95,233.25 L302.36,233.34 L302.77,233.43 L303.17,233.53 L303.58,233.62 L303.98,233.71 L304.39,233.8 L304.79,233.89 L305.2,233.98 L305.6,234.07 L306.01,234.16 L306.42,234.25 L306.82,234.34 L307.23,234.43 L307.63,234.52 L308.04,234.61 L308.44,234.7 L308.85,234.79 L309.25,234.88 L309.66,234.97 L310.06,235.06 L310.47,235.15 L310.88,235.24 L311.28,235.33 L311.69,235.42 L312.09,235.51 L312.5,235.6 L312.9,235.69 L313.31,235.78 L313.71,235.87 L314.12,235.96 L314.53,236.04 L314.93,236.13 L315.34,236.22 L315.74,236.31 L316.15,236.4 L316.55,236.49 L316.96,236.57 L317.36,236.66 L317.77,236.75 L318.18,236.84 L318.58,236.92 L318.99,237.01 L319.39,237.1 L319.8,237.18 L320.2,237.27 L320.61,237.36 L321.01,237.44 L321.42,237.53 L321.82,237.61 L322.23,237.7 L322.64,237.78 L323.04,237.87 L323.45,237.95 L323.85,238.04 L324.26,238.12 L324.66,238.21 L325.07,238.29 L325.47,238.37 L325.88,238.46 L326.29,238.54 L326.69,238.62 L327.1,238.71 L327.5,238.79 L327.91,238.87 L328.31,238.96 L328.72,239.04 L329.12,239.12 L329.53,239.2 L329.93,239.28 L330.34,239.36 L330.75,239.44 L331.15,239.52 L331.56,239.6 L331.96,239.69 L332.37,239.76 L332.77,239.84 L333.18,239.92 L333.58,240 L333.99,240.08 L334.4,240.16 L334.8,240.24 L335.21,240.32 L335.61,240.39 L336.02,240.47 L336.42,240.55 L336.83,240.63 L337.23,240.7 L337.64,240.78 L338.04,240.86 L338.45,240.93 L338.86,241.01 L339.26,241.08 L339.67,241.16 L340.07,241.23 L340.48,241.31 L340.88,241.38 L341.29,241.45 L341.69,241.53 L342.1,241.6 L342.5,241.67 L342.91,241.75 L343.32,241.82 L343.72,241.89 L344.13,241.96 L344.53,242.03 L344.94,242.1 L345.34,242.18 L345.75,242.25 L346.15,242.32 L346.56,242.39 L346.97,242.46 L347.37,242.53 L347.78,242.59 L348.18,242.66 L348.59,242.73 L348.99,242.8 L349.4,242.87 L349.8,242.93 L350.21,243 L350.62,243.07 L351.02,243.13 L351.43,243.2 L351.83,243.27 L352.24,243.33 L352.64,243.4 L353.05,243.46 L353.45,243.53 L353.86,243.59 L354.26,243.66 L354.67,243.72 L355.08,243.78 L355.48,243.84 L355.89,243.91 L356.29,243.97 L356.7,244.03 L357.1,244.09 L357.51,244.15 L357.91,244.22 L358.32,244.28 L358.73,244.34 L359.13,244.4 L359.54,244.46 L359.94,244.52 L360.35,244.58 L360.75,244.63 L361.16,244.69 L361.56,244.75 L361.97,244.81 L362.37,244.87 L362.78,244.92 L363.19,244.98 L363.59,245.04 L364,245.09 L364.4,245.15 L364.81,245.2 L365.21,245.26 L365.62,245.31 L366.02,245.37 L366.43,245.42 L366.84,245.48 L367.24,245.53 L367.65,245.58 L368.05,245.64 L368.46,245.69 L368.86,245.74 L369.27,245.79 L369.67,245.84 L370.08,245.9 L370.48,245.95 L370.89,246 L371.3,246.05 L371.7,246.1 L372.11,246.15 L372.51,246.2 L372.92,246.25 L373.32,246.3 L373.73,246.34 L374.13,246.39 L374.54,246.44 L374.94,246.49 L375.35,246.53 L375.76,246.58 L376.16,246.63 L376.57,246.67 L376.97,246.72 L377.38,246.77 L377.78,246.81 L378.19,246.86 L378.59,246.9 L379,246.95" stroke="#d42a22" stroke-width="1.8" fill="none" stroke-dasharray="5.5 2.8" clip-path="url(#ca)" stroke-linejoin="round" />
<rect x="54.6" y="33.3" width="324.4" height="239.5" fill="none" stroke="#1a1a1a" stroke-width="1.3"/>
<path d="M52.1,232.88H57.1M52.1,192.97H57.1M52.1,153.05H57.1M52.1,113.13H57.1M52.1,73.22H57.1M52.1,33.3H57.1M54.6,264.82H56.8M54.6,256.83H56.8M54.6,248.85H56.8M54.6,240.87H56.8M54.6,224.9H56.8M54.6,216.92H56.8M54.6,208.93H56.8M54.6,200.95H56.8M54.6,184.98H56.8M54.6,177H56.8M54.6,169.02H56.8M54.6,161.03H56.8M54.6,145.07H56.8M54.6,137.08H56.8M54.6,129.1H56.8M54.6,121.12H56.8M54.6,105.15H56.8M54.6,97.17H56.8M54.6,89.18H56.8M54.6,81.2H56.8M54.6,65.23H56.8M54.6,57.25H56.8M54.6,49.27H56.8M54.6,41.28H56.8" stroke="#1a1a1a" stroke-width="1.1" fill="none"/>
<path d="M54.6,275.3V272.8M119.48,275.3V272.8M184.36,275.3V272.8M249.24,275.3V272.8M314.12,275.3V272.8M379,275.3V272.8M67.58,275V272.8M80.55,275V272.8M93.53,275V272.8M106.5,275V272.8M132.46,275V272.8M145.43,275V272.8M158.41,275V272.8M171.38,275V272.8M197.34,275V272.8M210.31,275V272.8M223.29,275V272.8M236.26,275V272.8M262.22,275V272.8M275.19,275V272.8M288.17,275V272.8M301.14,275V272.8M327.1,275V272.8M340.07,275V272.8M353.05,275V272.8M366.02,275V272.8" stroke="#1a1a1a" stroke-width="1.1" fill="none"/>
<text x="51" y="237.88" font-size="14.3" text-anchor="end" fill="#000" >500</text>
<text x="51" y="197.97" font-size="14.3" text-anchor="end" fill="#000" >1500</text>
<text x="51" y="158.05" font-size="14.3" text-anchor="end" fill="#000" >2500</text>
<text x="51" y="118.13" font-size="14.3" text-anchor="end" fill="#000" >3500</text>
<text x="51" y="78.22" font-size="14.3" text-anchor="end" fill="#000" >4500</text>
<text x="51" y="38.3" font-size="14.3" text-anchor="end" fill="#000" >5500</text>
<text x="54.6" y="289" font-size="14.3" text-anchor="middle" fill="#000" >-50</text>
<text x="119.48" y="289" font-size="14.3" text-anchor="middle" fill="#000" >-30</text>
<text x="184.36" y="289" font-size="14.3" text-anchor="middle" fill="#000" >-10</text>
<text x="249.24" y="289" font-size="14.3" text-anchor="middle" fill="#000" >10</text>
<text x="314.12" y="289" font-size="14.3" text-anchor="middle" fill="#000" >30</text>
<text x="379" y="289" font-size="14.3" text-anchor="middle" fill="#000" >50</text>
<text x="217.6" y="302.5" font-size="13" text-anchor="middle" fill="#000" letter-spacing="0.8">Distance from the centre of pegmatite (m)</text>
<text x="0" y="0" font-size="14.3" text-anchor="middle" textLength="53" lengthAdjust="spacingAndGlyphs" transform="translate(10.1,152.5) rotate(-90)">Li (ppm)</text>
<path d="M250.1,59.7H283.1" stroke="#0f1f45" stroke-width="2.2"/>
<text x="292.5" y="64" font-size="13" fill="#222"><tspan font-style="italic">t</tspan> = 0 year</text>
<path d="M250.1,75.2H283.1" stroke="#2aa8dc" stroke-width="2.2" stroke-dasharray="3 1.2"/>
<text x="292.5" y="79.5" font-size="13" fill="#222"><tspan font-style="italic">t</tspan> = 1 year</text>
<path d="M250.1,90.7H283.1" stroke="#6a3d9e" stroke-width="1.7" stroke-dasharray="2.7 1.4"/>
<text x="292.5" y="95" font-size="13" fill="#222"><tspan font-style="italic">t</tspan> = 5 years</text>
<path d="M250.1,106.2H283.1" stroke="#d42a22" stroke-width="1.7" stroke-dasharray="2.7 1.4"/>
<text x="292.5" y="110.5" font-size="13" fill="#222"><tspan font-style="italic">t</tspan> = 100 years</text>
<rect x="574.98" y="72.3" width="32.5" height="24.57" fill="#f8ca80"/>
<rect x="574.98" y="106.46" width="32.5" height="17.32" fill="#e8767f"/>
<path d="M428.4,106.46 L574.65,106.46 L574.65,99.91 L607.15,99.91 L607.15,106.46 L753.4,106.46" stroke="#0f1f45" stroke-width="1.8" fill="none" stroke-linejoin="round" />
<path d="M428.4,106.46 L428.81,106.46 L429.21,106.46 L429.62,106.46 L430.02,106.46 L430.43,106.46 L430.84,106.46 L431.24,106.46 L431.65,106.46 L432.06,106.46 L432.46,106.46 L432.87,106.46 L433.27,106.46 L433.68,106.46 L434.09,106.46 L434.49,106.46 L434.9,106.46 L435.31,106.46 L435.71,106.46 L436.12,106.46 L436.52,106.46 L436.93,106.46 L437.34,106.46 L437.74,106.46 L438.15,106.46 L438.56,106.46 L438.96,106.46 L439.37,106.46 L439.77,106.46 L440.18,106.46 L440.59,106.46 L440.99,106.46 L441.4,106.46 L441.81,106.46 L442.21,106.46 L442.62,106.46 L443.02,106.46 L443.43,106.46 L443.84,106.46 L444.24,106.46 L444.65,106.46 L445.06,106.46 L445.46,106.46 L445.87,106.46 L446.27,106.46 L446.68,106.46 L447.09,106.46 L447.49,106.46 L447.9,106.46 L448.31,106.46 L448.71,106.46 L449.12,106.46 L449.52,106.46 L449.93,106.46 L450.34,106.46 L450.74,106.46 L451.15,106.46 L451.56,106.46 L451.96,106.46 L452.37,106.46 L452.77,106.46 L453.18,106.46 L453.59,106.46 L453.99,106.46 L454.4,106.46 L454.81,106.46 L455.21,106.46 L455.62,106.46 L456.02,106.46 L456.43,106.46 L456.84,106.46 L457.24,106.46 L457.65,106.46 L458.06,106.46 L458.46,106.46 L458.87,106.46 L459.27,106.46 L459.68,106.46 L460.09,106.46 L460.49,106.46 L460.9,106.46 L461.31,106.46 L461.71,106.46 L462.12,106.46 L462.52,106.46 L462.93,106.46 L463.34,106.46 L463.74,106.46 L464.15,106.46 L464.56,106.46 L464.96,106.46 L465.37,106.46 L465.77,106.46 L466.18,106.46 L466.59,106.46 L466.99,106.46 L467.4,106.46 L467.81,106.46 L468.21,106.46 L468.62,106.46 L469.02,106.46 L469.43,106.46 L469.84,106.46 L470.24,106.46 L470.65,106.46 L471.06,106.46 L471.46,106.46 L471.87,106.46 L472.27,106.46 L472.68,106.46 L473.09,106.46 L473.49,106.46 L473.9,106.46 L474.31,106.46 L474.71,106.46 L475.12,106.46 L475.52,106.46 L475.93,106.46 L476.34,106.46 L476.74,106.46 L477.15,106.46 L477.56,106.46 L477.96,106.46 L478.37,106.46 L478.77,106.46 L479.18,106.46 L479.59,106.46 L479.99,106.46 L480.4,106.46 L480.81,106.46 L481.21,106.46 L481.62,106.46 L482.02,106.46 L482.43,106.46 L482.84,106.46 L483.24,106.46 L483.65,106.46 L484.06,106.46 L484.46,106.46 L484.87,106.46 L485.27,106.46 L485.68,106.46 L486.09,106.46 L486.49,106.46 L486.9,106.46 L487.31,106.46 L487.71,106.46 L488.12,106.46 L488.52,106.46 L488.93,106.46 L489.34,106.46 L489.74,106.46 L490.15,106.46 L490.56,106.46 L490.96,106.46 L491.37,106.46 L491.77,106.46 L492.18,106.46 L492.59,106.46 L492.99,106.46 L493.4,106.46 L493.81,106.46 L494.21,106.46 L494.62,106.46 L495.02,106.46 L495.43,106.46 L495.84,106.46 L496.24,106.46 L496.65,106.46 L497.06,106.46 L497.46,106.46 L497.87,106.46 L498.27,106.46 L498.68,106.46 L499.09,106.46 L499.49,106.46 L499.9,106.46 L500.31,106.46 L500.71,106.46 L501.12,106.46 L501.52,106.46 L501.93,106.46 L502.34,106.46 L502.74,106.46 L503.15,106.46 L503.56,106.46 L503.96,106.46 L504.37,106.46 L504.77,106.46 L505.18,106.46 L505.59,106.46 L505.99,106.46 L506.4,106.46 L506.81,106.46 L507.21,106.46 L507.62,106.46 L508.02,106.46 L508.43,106.46 L508.84,106.46 L509.24,106.46 L509.65,106.46 L510.06,106.46 L510.46,106.46 L510.87,106.46 L511.27,106.46 L511.68,106.46 L512.09,106.46 L512.49,106.46 L512.9,106.46 L513.31,106.46 L513.71,106.46 L514.12,106.46 L514.52,106.46 L514.93,106.46 L515.34,106.46 L515.74,106.46 L516.15,106.46 L516.56,106.46 L516.96,106.46 L517.37,106.46 L517.77,106.46 L518.18,106.46 L518.59,106.46 L518.99,106.46 L519.4,106.46 L519.81,106.46 L520.21,106.46 L520.62,106.46 L521.02,106.46 L521.43,106.46 L521.84,106.46 L522.24,106.46 L522.65,106.46 L523.06,106.46 L523.46,106.46 L523.87,106.46 L524.27,106.46 L524.68,106.46 L525.09,106.46 L525.49,106.46 L525.9,106.46 L526.31,106.46 L526.71,106.46 L527.12,106.46 L527.52,106.46 L527.93,106.46 L528.34,106.46 L528.74,106.46 L529.15,106.46 L529.56,106.46 L529.96,106.46 L530.37,106.46 L530.77,106.46 L531.18,106.46 L531.59,106.46 L531.99,106.46 L532.4,106.46 L532.81,106.46 L533.21,106.46 L533.62,106.47 L534.02,106.47 L534.43,106.47 L534.84,106.47 L535.24,106.47 L535.65,106.47 L536.06,106.47 L536.46,106.47 L536.87,106.48 L537.27,106.48 L537.68,106.48 L538.09,106.49 L538.49,106.5 L538.9,106.51 L539.31,106.52 L539.71,106.54 L540.12,106.56 L540.52,106.59 L540.93,106.62 L541.34,106.67 L541.74,106.72 L542.15,106.79 L542.56,106.88 L542.96,106.99 L543.37,107.13 L543.77,107.29 L544.18,107.5 L544.59,107.76 L544.99,108.07 L545.4,108.45 L545.81,108.91 L546.21,109.47 L546.62,110.14 L547.02,110.95 L547.43,111.91 L547.84,113.05 L548.24,114.4 L548.65,115.98 L549.06,117.83 L549.46,119.98 L549.87,122.45 L550.27,125.28 L550.68,128.5 L551.09,132.12 L551.49,136.15 L551.9,140.6 L552.31,145.45 L552.71,150.68 L553.12,156.23 L553.52,162.04 L553.93,168.02 L554.34,174.07 L554.74,180.07 L555.15,185.89 L555.56,191.41 L555.96,196.51 L556.37,201.07 L556.77,205.01 L557.18,208.25 L557.59,210.76 L557.99,212.5 L558.4,213.49 L558.81,213.75 L559.21,213.32 L559.62,212.25 L560.02,210.61 L560.43,208.46 L560.84,205.87 L561.24,202.89 L561.65,199.61 L562.06,196.06 L562.46,192.32 L562.87,188.42 L563.27,184.41 L563.68,180.33 L564.09,176.2 L564.49,172.07 L564.9,167.96 L565.31,163.88 L565.71,159.85 L566.12,155.9 L566.52,152.02 L566.93,148.25 L567.34,144.57 L567.74,141.01 L568.15,137.56 L568.56,134.23 L568.96,131.03 L569.37,127.96 L569.77,125.02 L570.18,122.21 L570.59,119.53 L570.99,116.98 L571.4,114.57 L571.81,112.3 L572.21,110.15 L572.62,108.14 L573.02,106.25 L573.43,104.49 L573.84,102.86 L574.24,101.34 L574.65,99.95 L575.06,98.68 L575.46,97.52 L575.87,96.47 L576.27,95.52 L576.68,94.69 L577.09,93.95 L577.49,93.3 L577.9,92.75 L578.31,92.28 L578.71,91.9 L579.12,91.59 L579.52,91.36 L579.93,91.2 L580.34,91.1 L580.74,91.06 L581.15,91.07 L581.56,91.13 L581.96,91.23 L582.37,91.37 L582.77,91.55 L583.18,91.75 L583.59,91.98 L583.99,92.23 L584.4,92.48 L584.81,92.75 L585.21,93.03 L585.62,93.3 L586.02,93.57 L586.43,93.84 L586.84,94.09 L587.24,94.33 L587.65,94.56 L588.06,94.76 L588.46,94.94 L588.87,95.1 L589.27,95.23 L589.68,95.33 L590.09,95.41 L590.49,95.45 L590.9,95.47 L591.31,95.45 L591.71,95.41 L592.12,95.33 L592.52,95.23 L592.93,95.1 L593.34,94.94 L593.74,94.76 L594.15,94.56 L594.56,94.33 L594.96,94.09 L595.37,93.84 L595.77,93.57 L596.18,93.3 L596.59,93.03 L596.99,92.75 L597.4,92.48 L597.81,92.23 L598.21,91.98 L598.62,91.75 L599.02,91.55 L599.43,91.37 L599.84,91.23 L600.24,91.13 L600.65,91.07 L601.06,91.06 L601.46,91.1 L601.87,91.2 L602.27,91.36 L602.68,91.59 L603.09,91.9 L603.49,92.28 L603.9,92.75 L604.31,93.3 L604.71,93.95 L605.12,94.69 L605.52,95.52 L605.93,96.47 L606.34,97.52 L606.74,98.68 L607.15,99.95 L607.56,101.34 L607.96,102.86 L608.37,104.49 L608.77,106.25 L609.18,108.14 L609.59,110.15 L609.99,112.3 L610.4,114.57 L610.81,116.98 L611.21,119.53 L611.62,122.21 L612.02,125.02 L612.43,127.96 L612.84,131.03 L613.24,134.23 L613.65,137.56 L614.06,141.01 L614.46,144.57 L614.87,148.25 L615.27,152.02 L615.68,155.9 L616.09,159.85 L616.49,163.88 L616.9,167.96 L617.31,172.07 L617.71,176.2 L618.12,180.33 L618.52,184.41 L618.93,188.42 L619.34,192.32 L619.74,196.06 L620.15,199.61 L620.56,202.89 L620.96,205.87 L621.37,208.46 L621.77,210.61 L622.18,212.25 L622.59,213.32 L622.99,213.75 L623.4,213.49 L623.81,212.5 L624.21,210.76 L624.62,208.25 L625.02,205.01 L625.43,201.07 L625.84,196.51 L626.24,191.41 L626.65,185.89 L627.06,180.07 L627.46,174.07 L627.87,168.02 L628.27,162.04 L628.68,156.23 L629.09,150.68 L629.49,145.45 L629.9,140.6 L630.31,136.15 L630.71,132.12 L631.12,128.5 L631.52,125.28 L631.93,122.45 L632.34,119.98 L632.74,117.83 L633.15,115.98 L633.56,114.4 L633.96,113.05 L634.37,111.91 L634.77,110.95 L635.18,110.14 L635.59,109.47 L635.99,108.91 L636.4,108.45 L636.81,108.07 L637.21,107.76 L637.62,107.5 L638.02,107.29 L638.43,107.13 L638.84,106.99 L639.24,106.88 L639.65,106.79 L640.06,106.72 L640.46,106.67 L640.87,106.62 L641.27,106.59 L641.68,106.56 L642.09,106.54 L642.49,106.52 L642.9,106.51 L643.31,106.5 L643.71,106.49 L644.12,106.48 L644.52,106.48 L644.93,106.48 L645.34,106.47 L645.74,106.47 L646.15,106.47 L646.56,106.47 L646.96,106.47 L647.37,106.47 L647.77,106.47 L648.18,106.47 L648.59,106.46 L648.99,106.46 L649.4,106.46 L649.81,106.46 L650.21,106.46 L650.62,106.46 L651.02,106.46 L651.43,106.46 L651.84,106.46 L652.24,106.46 L652.65,106.46 L653.06,106.46 L653.46,106.46 L653.87,106.46 L654.27,106.46 L654.68,106.46 L655.09,106.46 L655.49,106.46 L655.9,106.46 L656.31,106.46 L656.71,106.46 L657.12,106.46 L657.52,106.46 L657.93,106.46 L658.34,106.46 L658.74,106.46 L659.15,106.46 L659.56,106.46 L659.96,106.46 L660.37,106.46 L660.77,106.46 L661.18,106.46 L661.59,106.46 L661.99,106.46 L662.4,106.46 L662.81,106.46 L663.21,106.46 L663.62,106.46 L664.02,106.46 L664.43,106.46 L664.84,106.46 L665.24,106.46 L665.65,106.46 L666.06,106.46 L666.46,106.46 L666.87,106.46 L667.27,106.46 L667.68,106.46 L668.09,106.46 L668.49,106.46 L668.9,106.46 L669.31,106.46 L669.71,106.46 L670.12,106.46 L670.52,106.46 L670.93,106.46 L671.34,106.46 L671.74,106.46 L672.15,106.46 L672.56,106.46 L672.96,106.46 L673.37,106.46 L673.77,106.46 L674.18,106.46 L674.59,106.46 L674.99,106.46 L675.4,106.46 L675.81,106.46 L676.21,106.46 L676.62,106.46 L677.02,106.46 L677.43,106.46 L677.84,106.46 L678.24,106.46 L678.65,106.46 L679.06,106.46 L679.46,106.46 L679.87,106.46 L680.27,106.46 L680.68,106.46 L681.09,106.46 L681.49,106.46 L681.9,106.46 L682.31,106.46 L682.71,106.46 L683.12,106.46 L683.52,106.46 L683.93,106.46 L684.34,106.46 L684.74,106.46 L685.15,106.46 L685.56,106.46 L685.96,106.46 L686.37,106.46 L686.77,106.46 L687.18,106.46 L687.59,106.46 L687.99,106.46 L688.4,106.46 L688.81,106.46 L689.21,106.46 L689.62,106.46 L690.02,106.46 L690.43,106.46 L690.84,106.46 L691.24,106.46 L691.65,106.46 L692.06,106.46 L692.46,106.46 L692.87,106.46 L693.27,106.46 L693.68,106.46 L694.09,106.46 L694.49,106.46 L694.9,106.46 L695.31,106.46 L695.71,106.46 L696.12,106.46 L696.52,106.46 L696.93,106.46 L697.34,106.46 L697.74,106.46 L698.15,106.46 L698.56,106.46 L698.96,106.46 L699.37,106.46 L699.77,106.46 L700.18,106.46 L700.59,106.46 L700.99,106.46 L701.4,106.46 L701.81,106.46 L702.21,106.46 L702.62,106.46 L703.02,106.46 L703.43,106.46 L703.84,106.46 L704.24,106.46 L704.65,106.46 L705.06,106.46 L705.46,106.46 L705.87,106.46 L706.27,106.46 L706.68,106.46 L707.09,106.46 L707.49,106.46 L707.9,106.46 L708.31,106.46 L708.71,106.46 L709.12,106.46 L709.52,106.46 L709.93,106.46 L710.34,106.46 L710.74,106.46 L711.15,106.46 L711.56,106.46 L711.96,106.46 L712.37,106.46 L712.77,106.46 L713.18,106.46 L713.59,106.46 L713.99,106.46 L714.4,106.46 L714.81,106.46 L715.21,106.46 L715.62,106.46 L716.02,106.46 L716.43,106.46 L716.84,106.46 L717.24,106.46 L717.65,106.46 L718.06,106.46 L718.46,106.46 L718.87,106.46 L719.27,106.46 L719.68,106.46 L720.09,106.46 L720.49,106.46 L720.9,106.46 L721.31,106.46 L721.71,106.46 L722.12,106.46 L722.52,106.46 L722.93,106.46 L723.34,106.46 L723.74,106.46 L724.15,106.46 L724.56,106.46 L724.96,106.46 L725.37,106.46 L725.77,106.46 L726.18,106.46 L726.59,106.46 L726.99,106.46 L727.4,106.46 L727.81,106.46 L728.21,106.46 L728.62,106.46 L729.02,106.46 L729.43,106.46 L729.84,106.46 L730.24,106.46 L730.65,106.46 L731.06,106.46 L731.46,106.46 L731.87,106.46 L732.27,106.46 L732.68,106.46 L733.09,106.46 L733.49,106.46 L733.9,106.46 L734.31,106.46 L734.71,106.46 L735.12,106.46 L735.52,106.46 L735.93,106.46 L736.34,106.46 L736.74,106.46 L737.15,106.46 L737.56,106.46 L737.96,106.46 L738.37,106.46 L738.77,106.46 L739.18,106.46 L739.59,106.46 L739.99,106.46 L740.4,106.46 L740.81,106.46 L741.21,106.46 L741.62,106.46 L742.02,106.46 L742.43,106.46 L742.84,106.46 L743.24,106.46 L743.65,106.46 L744.06,106.46 L744.46,106.46 L744.87,106.46 L745.27,106.46 L745.68,106.46 L746.09,106.46 L746.49,106.46 L746.9,106.46 L747.31,106.46 L747.71,106.46 L748.12,106.46 L748.52,106.46 L748.93,106.46 L749.34,106.46 L749.74,106.46 L750.15,106.46 L750.56,106.46 L750.96,106.46 L751.37,106.46 L751.77,106.46 L752.18,106.46 L752.59,106.46 L752.99,106.46 L753.4,106.46" stroke="#2aa8dc" stroke-width="2.0" fill="none" stroke-dasharray="5.5 3.2" clip-path="url(#cb)" stroke-linejoin="round" />
<path d="M428.4,106.46 L428.81,106.46 L429.21,106.46 L429.62,106.46 L430.02,106.46 L430.43,106.46 L430.84,106.46 L431.24,106.46 L431.65,106.46 L432.06,106.46 L432.46,106.46 L432.87,106.46 L433.27,106.46 L433.68,106.46 L434.09,106.46 L434.49,106.46 L434.9,106.46 L435.31,106.46 L435.71,106.46 L436.12,106.46 L436.52,106.46 L436.93,106.46 L437.34,106.46 L437.74,106.46 L438.15,106.46 L438.56,106.46 L438.96,106.46 L439.37,106.46 L439.77,106.46 L440.18,106.46 L440.59,106.46 L440.99,106.46 L441.4,106.46 L441.81,106.46 L442.21,106.46 L442.62,106.46 L443.02,106.46 L443.43,106.46 L443.84,106.46 L444.24,106.46 L444.65,106.46 L445.06,106.46 L445.46,106.46 L445.87,106.46 L446.27,106.46 L446.68,106.46 L447.09,106.46 L447.49,106.46 L447.9,106.46 L448.31,106.46 L448.71,106.46 L449.12,106.46 L449.52,106.46 L449.93,106.46 L450.34,106.46 L450.74,106.46 L451.15,106.46 L451.56,106.46 L451.96,106.46 L452.37,106.46 L452.77,106.46 L453.18,106.46 L453.59,106.46 L453.99,106.46 L454.4,106.46 L454.81,106.46 L455.21,106.46 L455.62,106.46 L456.02,106.46 L456.43,106.46 L456.84,106.46 L457.24,106.46 L457.65,106.46 L458.06,106.46 L458.46,106.46 L458.87,106.46 L459.27,106.46 L459.68,106.46 L460.09,106.46 L460.49,106.46 L460.9,106.46 L461.31,106.46 L461.71,106.46 L462.12,106.46 L462.52,106.46 L462.93,106.46 L463.34,106.46 L463.74,106.46 L464.15,106.46 L464.56,106.46 L464.96,106.46 L465.37,106.46 L465.77,106.46 L466.18,106.46 L466.59,106.46 L466.99,106.46 L467.4,106.46 L467.81,106.46 L468.21,106.46 L468.62,106.46 L469.02,106.46 L469.43,106.47 L469.84,106.47 L470.24,106.47 L470.65,106.47 L471.06,106.47 L471.46,106.47 L471.87,106.47 L472.27,106.47 L472.68,106.47 L473.09,106.47 L473.49,106.47 L473.9,106.47 L474.31,106.47 L474.71,106.47 L475.12,106.47 L475.52,106.47 L475.93,106.47 L476.34,106.47 L476.74,106.47 L477.15,106.47 L477.56,106.48 L477.96,106.48 L478.37,106.48 L478.77,106.48 L479.18,106.48 L479.59,106.48 L479.99,106.49 L480.4,106.49 L480.81,106.49 L481.21,106.49 L481.62,106.5 L482.02,106.5 L482.43,106.51 L482.84,106.51 L483.24,106.52 L483.65,106.52 L484.06,106.53 L484.46,106.54 L484.87,106.54 L485.27,106.55 L485.68,106.56 L486.09,106.57 L486.49,106.58 L486.9,106.59 L487.31,106.61 L487.71,106.62 L488.12,106.64 L488.52,106.66 L488.93,106.68 L489.34,106.7 L489.74,106.72 L490.15,106.75 L490.56,106.78 L490.96,106.81 L491.37,106.84 L491.77,106.88 L492.18,106.92 L492.59,106.97 L492.99,107.02 L493.4,107.07 L493.81,107.13 L494.21,107.19 L494.62,107.26 L495.02,107.33 L495.43,107.42 L495.84,107.5 L496.24,107.6 L496.65,107.7 L497.06,107.82 L497.46,107.94 L497.87,108.07 L498.27,108.21 L498.68,108.37 L499.09,108.54 L499.49,108.72 L499.9,108.92 L500.31,109.13 L500.71,109.35 L501.12,109.6 L501.52,109.87 L501.93,110.15 L502.34,110.46 L502.74,110.79 L503.15,111.14 L503.56,111.52 L503.96,111.93 L504.37,112.37 L504.77,112.83 L505.18,113.33 L505.59,113.87 L505.99,114.44 L506.4,115.05 L506.81,115.7 L507.21,116.4 L507.62,117.14 L508.02,117.92 L508.43,118.76 L508.84,119.64 L509.24,120.58 L509.65,121.58 L510.06,122.63 L510.46,123.74 L510.87,124.92 L511.27,126.15 L511.68,127.46 L512.09,128.83 L512.49,130.27 L512.9,131.77 L513.31,133.35 L513.71,135 L514.12,136.73 L514.52,138.52 L514.93,140.39 L515.34,142.33 L515.74,144.34 L516.15,146.42 L516.56,148.56 L516.96,150.77 L517.37,153.04 L517.77,155.38 L518.18,157.76 L518.59,160.2 L518.99,162.68 L519.4,165.19 L519.81,167.75 L520.21,170.32 L520.62,172.92 L521.02,175.53 L521.43,178.14 L521.84,180.75 L522.24,183.35 L522.65,185.92 L523.06,188.46 L523.46,190.97 L523.87,193.43 L524.27,195.82 L524.68,198.16 L525.09,200.42 L525.49,202.6 L525.9,204.69 L526.31,206.69 L526.71,208.58 L527.12,210.37 L527.52,212.05 L527.93,213.6 L528.34,215.04 L528.74,216.35 L529.15,217.54 L529.56,218.6 L529.96,219.53 L530.37,220.33 L530.77,221 L531.18,221.54 L531.59,221.95 L531.99,222.24 L532.4,222.41 L532.81,222.45 L533.21,222.38 L533.62,222.2 L534.02,221.9 L534.43,221.5 L534.84,220.99 L535.24,220.39 L535.65,219.69 L536.06,218.91 L536.46,218.04 L536.87,217.09 L537.27,216.06 L537.68,214.96 L538.09,213.8 L538.49,212.57 L538.9,211.29 L539.31,209.95 L539.71,208.56 L540.12,207.12 L540.52,205.64 L540.93,204.12 L541.34,202.56 L541.74,200.98 L542.15,199.36 L542.56,197.72 L542.96,196.05 L543.37,194.36 L543.77,192.66 L544.18,190.93 L544.59,189.2 L544.99,187.45 L545.4,185.7 L545.81,183.94 L546.21,182.17 L546.62,180.4 L547.02,178.63 L547.43,176.85 L547.84,175.08 L548.24,173.31 L548.65,171.55 L549.06,169.79 L549.46,168.03 L549.87,166.28 L550.27,164.55 L550.68,162.82 L551.09,161.1 L551.49,159.39 L551.9,157.69 L552.31,156.01 L552.71,154.33 L553.12,152.67 L553.52,151.03 L553.93,149.4 L554.34,147.78 L554.74,146.18 L555.15,144.6 L555.56,143.03 L555.96,141.48 L556.37,139.95 L556.77,138.43 L557.18,136.93 L557.59,135.45 L557.99,133.99 L558.4,132.54 L558.81,131.11 L559.21,129.7 L559.62,128.31 L560.02,126.94 L560.43,125.59 L560.84,124.25 L561.24,122.94 L561.65,121.64 L562.06,120.37 L562.46,119.11 L562.87,117.87 L563.27,116.65 L563.68,115.45 L564.09,114.27 L564.49,113.11 L564.9,111.97 L565.31,110.85 L565.71,109.75 L566.12,108.67 L566.52,107.6 L566.93,106.56 L567.34,105.53 L567.74,104.53 L568.15,103.54 L568.56,102.57 L568.96,101.62 L569.37,100.69 L569.77,99.78 L570.18,98.89 L570.59,98.02 L570.99,97.16 L571.4,96.33 L571.81,95.51 L572.21,94.71 L572.62,93.94 L573.02,93.17 L573.43,92.43 L573.84,91.71 L574.24,91 L574.65,90.31 L575.06,89.64 L575.46,88.99 L575.87,88.36 L576.27,87.74 L576.68,87.15 L577.09,86.57 L577.49,86 L577.9,85.46 L578.31,84.93 L578.71,84.42 L579.12,83.93 L579.52,83.46 L579.93,83 L580.34,82.56 L580.74,82.14 L581.15,81.73 L581.56,81.34 L581.96,80.97 L582.37,80.61 L582.77,80.27 L583.18,79.95 L583.59,79.65 L583.99,79.36 L584.4,79.09 L584.81,78.84 L585.21,78.6 L585.62,78.38 L586.02,78.17 L586.43,77.98 L586.84,77.81 L587.24,77.66 L587.65,77.52 L588.06,77.4 L588.46,77.29 L588.87,77.2 L589.27,77.13 L589.68,77.07 L590.09,77.03 L590.49,77 L590.9,77 L591.31,77 L591.71,77.03 L592.12,77.07 L592.52,77.13 L592.93,77.2 L593.34,77.29 L593.74,77.4 L594.15,77.52 L594.56,77.66 L594.96,77.81 L595.37,77.98 L595.77,78.17 L596.18,78.38 L596.59,78.6 L596.99,78.84 L597.4,79.09 L597.81,79.36 L598.21,79.65 L598.62,79.95 L599.02,80.27 L599.43,80.61 L599.84,80.97 L600.24,81.34 L600.65,81.73 L601.06,82.14 L601.46,82.56 L601.87,83 L602.27,83.46 L602.68,83.93 L603.09,84.42 L603.49,84.93 L603.9,85.46 L604.31,86 L604.71,86.57 L605.12,87.15 L605.52,87.74 L605.93,88.36 L606.34,88.99 L606.74,89.64 L607.15,90.31 L607.56,91 L607.96,91.71 L608.37,92.43 L608.77,93.17 L609.18,93.94 L609.59,94.71 L609.99,95.51 L610.4,96.33 L610.81,97.16 L611.21,98.02 L611.62,98.89 L612.02,99.78 L612.43,100.69 L612.84,101.62 L613.24,102.57 L613.65,103.54 L614.06,104.53 L614.46,105.53 L614.87,106.56 L615.27,107.6 L615.68,108.67 L616.09,109.75 L616.49,110.85 L616.9,111.97 L617.31,113.11 L617.71,114.27 L618.12,115.45 L618.52,116.65 L618.93,117.87 L619.34,119.11 L619.74,120.37 L620.15,121.64 L620.56,122.94 L620.96,124.25 L621.37,125.59 L621.77,126.94 L622.18,128.31 L622.59,129.7 L622.99,131.11 L623.4,132.54 L623.81,133.99 L624.21,135.45 L624.62,136.93 L625.02,138.43 L625.43,139.95 L625.84,141.48 L626.24,143.03 L626.65,144.6 L627.06,146.18 L627.46,147.78 L627.87,149.4 L628.27,151.03 L628.68,152.67 L629.09,154.33 L629.49,156.01 L629.9,157.69 L630.31,159.39 L630.71,161.1 L631.12,162.82 L631.52,164.55 L631.93,166.28 L632.34,168.03 L632.74,169.79 L633.15,171.55 L633.56,173.31 L633.96,175.08 L634.37,176.85 L634.77,178.63 L635.18,180.4 L635.59,182.17 L635.99,183.94 L636.4,185.7 L636.81,187.45 L637.21,189.2 L637.62,190.93 L638.02,192.66 L638.43,194.36 L638.84,196.05 L639.24,197.72 L639.65,199.36 L640.06,200.98 L640.46,202.56 L640.87,204.12 L641.27,205.64 L641.68,207.12 L642.09,208.56 L642.49,209.95 L642.9,211.29 L643.31,212.57 L643.71,213.8 L644.12,214.96 L644.52,216.06 L644.93,217.09 L645.34,218.04 L645.74,218.91 L646.15,219.69 L646.56,220.39 L646.96,220.99 L647.37,221.5 L647.77,221.9 L648.18,222.2 L648.59,222.38 L648.99,222.45 L649.4,222.41 L649.81,222.24 L650.21,221.95 L650.62,221.54 L651.02,221 L651.43,220.33 L651.84,219.53 L652.24,218.6 L652.65,217.54 L653.06,216.35 L653.46,215.04 L653.87,213.6 L654.27,212.05 L654.68,210.37 L655.09,208.58 L655.49,206.69 L655.9,204.69 L656.31,202.6 L656.71,200.42 L657.12,198.16 L657.52,195.82 L657.93,193.43 L658.34,190.97 L658.74,188.46 L659.15,185.92 L659.56,183.35 L659.96,180.75 L660.37,178.14 L660.77,175.53 L661.18,172.92 L661.59,170.32 L661.99,167.75 L662.4,165.19 L662.81,162.68 L663.21,160.2 L663.62,157.76 L664.02,155.38 L664.43,153.04 L664.84,150.77 L665.24,148.56 L665.65,146.42 L666.06,144.34 L666.46,142.33 L666.87,140.39 L667.27,138.52 L667.68,136.73 L668.09,135 L668.49,133.35 L668.9,131.77 L669.31,130.27 L669.71,128.83 L670.12,127.46 L670.52,126.15 L670.93,124.92 L671.34,123.74 L671.74,122.63 L672.15,121.58 L672.56,120.58 L672.96,119.64 L673.37,118.76 L673.77,117.92 L674.18,117.14 L674.59,116.4 L674.99,115.7 L675.4,115.05 L675.81,114.44 L676.21,113.87 L676.62,113.33 L677.02,112.83 L677.43,112.37 L677.84,111.93 L678.24,111.52 L678.65,111.14 L679.06,110.79 L679.46,110.46 L679.87,110.15 L680.27,109.87 L680.68,109.6 L681.09,109.35 L681.49,109.13 L681.9,108.92 L682.31,108.72 L682.71,108.54 L683.12,108.37 L683.52,108.21 L683.93,108.07 L684.34,107.94 L684.74,107.82 L685.15,107.7 L685.56,107.6 L685.96,107.5 L686.37,107.42 L686.77,107.33 L687.18,107.26 L687.59,107.19 L687.99,107.13 L688.4,107.07 L688.81,107.02 L689.21,106.97 L689.62,106.92 L690.02,106.88 L690.43,106.84 L690.84,106.81 L691.24,106.78 L691.65,106.75 L692.06,106.72 L692.46,106.7 L692.87,106.68 L693.27,106.66 L693.68,106.64 L694.09,106.62 L694.49,106.61 L694.9,106.59 L695.31,106.58 L695.71,106.57 L696.12,106.56 L696.52,106.55 L696.93,106.54 L697.34,106.54 L697.74,106.53 L698.15,106.52 L698.56,106.52 L698.96,106.51 L699.37,106.51 L699.77,106.5 L700.18,106.5 L700.59,106.49 L700.99,106.49 L701.4,106.49 L701.81,106.49 L702.21,106.48 L702.62,106.48 L703.02,106.48 L703.43,106.48 L703.84,106.48 L704.24,106.48 L704.65,106.47 L705.06,106.47 L705.46,106.47 L705.87,106.47 L706.27,106.47 L706.68,106.47 L707.09,106.47 L707.49,106.47 L707.9,106.47 L708.31,106.47 L708.71,106.47 L709.12,106.47 L709.52,106.47 L709.93,106.47 L710.34,106.47 L710.74,106.47 L711.15,106.47 L711.56,106.47 L711.96,106.47 L712.37,106.47 L712.77,106.46 L713.18,106.46 L713.59,106.46 L713.99,106.46 L714.4,106.46 L714.81,106.46 L715.21,106.46 L715.62,106.46 L716.02,106.46 L716.43,106.46 L716.84,106.46 L717.24,106.46 L717.65,106.46 L718.06,106.46 L718.46,106.46 L718.87,106.46 L719.27,106.46 L719.68,106.46 L720.09,106.46 L720.49,106.46 L720.9,106.46 L721.31,106.46 L721.71,106.46 L722.12,106.46 L722.52,106.46 L722.93,106.46 L723.34,106.46 L723.74,106.46 L724.15,106.46 L724.56,106.46 L724.96,106.46 L725.37,106.46 L725.77,106.46 L726.18,106.46 L726.59,106.46 L726.99,106.46 L727.4,106.46 L727.81,106.46 L728.21,106.46 L728.62,106.46 L729.02,106.46 L729.43,106.46 L729.84,106.46 L730.24,106.46 L730.65,106.46 L731.06,106.46 L731.46,106.46 L731.87,106.46 L732.27,106.46 L732.68,106.46 L733.09,106.46 L733.49,106.46 L733.9,106.46 L734.31,106.46 L734.71,106.46 L735.12,106.46 L735.52,106.46 L735.93,106.46 L736.34,106.46 L736.74,106.46 L737.15,106.46 L737.56,106.46 L737.96,106.46 L738.37,106.46 L738.77,106.46 L739.18,106.46 L739.59,106.46 L739.99,106.46 L740.4,106.46 L740.81,106.46 L741.21,106.46 L741.62,106.46 L742.02,106.46 L742.43,106.46 L742.84,106.46 L743.24,106.46 L743.65,106.46 L744.06,106.46 L744.46,106.46 L744.87,106.46 L745.27,106.46 L745.68,106.46 L746.09,106.46 L746.49,106.46 L746.9,106.46 L747.31,106.46 L747.71,106.46 L748.12,106.46 L748.52,106.46 L748.93,106.46 L749.34,106.46 L749.74,106.46 L750.15,106.46 L750.56,106.46 L750.96,106.46 L751.37,106.46 L751.77,106.46 L752.18,106.46 L752.59,106.46 L752.99,106.46 L753.4,106.46" stroke="#6a3d9e" stroke-width="1.8" fill="none" stroke-dasharray="4.5 2.8" clip-path="url(#cb)" stroke-linejoin="round" />
<path d="M428.4,170.11 L428.81,169.81 L429.21,169.5 L429.62,169.19 L430.02,168.88 L430.43,168.57 L430.84,168.25 L431.24,167.94 L431.65,167.62 L432.06,167.3 L432.46,166.98 L432.87,166.65 L433.27,166.33 L433.68,166 L434.09,165.67 L434.49,165.34 L434.9,165 L435.31,164.67 L435.71,164.33 L436.12,163.99 L436.52,163.65 L436.93,163.31 L437.34,162.97 L437.74,162.63 L438.15,162.28 L438.56,161.93 L438.96,161.59 L439.37,161.24 L439.77,160.89 L440.18,160.53 L440.59,160.18 L440.99,159.83 L441.4,159.47 L441.81,159.12 L442.21,158.76 L442.62,158.4 L443.02,158.04 L443.43,157.68 L443.84,157.32 L444.24,156.95 L444.65,156.59 L445.06,156.23 L445.46,155.86 L445.87,155.5 L446.27,155.13 L446.68,154.76 L447.09,154.39 L447.49,154.02 L447.9,153.65 L448.31,153.28 L448.71,152.91 L449.12,152.54 L449.52,152.17 L449.93,151.8 L450.34,151.42 L450.74,151.05 L451.15,150.67 L451.56,150.3 L451.96,149.92 L452.37,149.55 L452.77,149.17 L453.18,148.8 L453.59,148.42 L453.99,148.04 L454.4,147.67 L454.81,147.29 L455.21,146.91 L455.62,146.53 L456.02,146.16 L456.43,145.78 L456.84,145.4 L457.24,145.02 L457.65,144.64 L458.06,144.26 L458.46,143.88 L458.87,143.51 L459.27,143.13 L459.68,142.75 L460.09,142.37 L460.49,141.99 L460.9,141.61 L461.31,141.23 L461.71,140.85 L462.12,140.48 L462.52,140.1 L462.93,139.72 L463.34,139.34 L463.74,138.96 L464.15,138.59 L464.56,138.21 L464.96,137.83 L465.37,137.45 L465.77,137.08 L466.18,136.7 L466.59,136.33 L466.99,135.95 L467.4,135.57 L467.81,135.2 L468.21,134.82 L468.62,134.45 L469.02,134.08 L469.43,133.7 L469.84,133.33 L470.24,132.96 L470.65,132.58 L471.06,132.21 L471.46,131.84 L471.87,131.47 L472.27,131.1 L472.68,130.73 L473.09,130.36 L473.49,129.99 L473.9,129.62 L474.31,129.26 L474.71,128.89 L475.12,128.52 L475.52,128.16 L475.93,127.79 L476.34,127.43 L476.74,127.06 L477.15,126.7 L477.56,126.34 L477.96,125.98 L478.37,125.62 L478.77,125.26 L479.18,124.9 L479.59,124.54 L479.99,124.18 L480.4,123.82 L480.81,123.46 L481.21,123.11 L481.62,122.75 L482.02,122.4 L482.43,122.04 L482.84,121.69 L483.24,121.34 L483.65,120.99 L484.06,120.64 L484.46,120.29 L484.87,119.94 L485.27,119.59 L485.68,119.24 L486.09,118.9 L486.49,118.55 L486.9,118.21 L487.31,117.87 L487.71,117.52 L488.12,117.18 L488.52,116.84 L488.93,116.5 L489.34,116.16 L489.74,115.83 L490.15,115.49 L490.56,115.15 L490.96,114.82 L491.37,114.48 L491.77,114.15 L492.18,113.82 L492.59,113.49 L492.99,113.16 L493.4,112.83 L493.81,112.5 L494.21,112.17 L494.62,111.85 L495.02,111.52 L495.43,111.2 L495.84,110.88 L496.24,110.56 L496.65,110.24 L497.06,109.92 L497.46,109.6 L497.87,109.28 L498.27,108.96 L498.68,108.65 L499.09,108.34 L499.49,108.02 L499.9,107.71 L500.31,107.4 L500.71,107.09 L501.12,106.78 L501.52,106.48 L501.93,106.17 L502.34,105.86 L502.74,105.56 L503.15,105.26 L503.56,104.96 L503.96,104.66 L504.37,104.36 L504.77,104.06 L505.18,103.76 L505.59,103.47 L505.99,103.17 L506.4,102.88 L506.81,102.59 L507.21,102.3 L507.62,102.01 L508.02,101.72 L508.43,101.43 L508.84,101.15 L509.24,100.86 L509.65,100.58 L510.06,100.3 L510.46,100.01 L510.87,99.73 L511.27,99.46 L511.68,99.18 L512.09,98.9 L512.49,98.63 L512.9,98.35 L513.31,98.08 L513.71,97.81 L514.12,97.54 L514.52,97.27 L514.93,97.01 L515.34,96.74 L515.74,96.48 L516.15,96.21 L516.56,95.95 L516.96,95.69 L517.37,95.43 L517.77,95.17 L518.18,94.92 L518.59,94.66 L518.99,94.41 L519.4,94.15 L519.81,93.9 L520.21,93.65 L520.62,93.4 L521.02,93.15 L521.43,92.91 L521.84,92.66 L522.24,92.42 L522.65,92.18 L523.06,91.94 L523.46,91.7 L523.87,91.46 L524.27,91.22 L524.68,90.99 L525.09,90.75 L525.49,90.52 L525.9,90.29 L526.31,90.06 L526.71,89.83 L527.12,89.6 L527.52,89.37 L527.93,89.15 L528.34,88.92 L528.74,88.7 L529.15,88.48 L529.56,88.26 L529.96,88.04 L530.37,87.83 L530.77,87.61 L531.18,87.4 L531.59,87.19 L531.99,86.98 L532.4,86.77 L532.81,86.56 L533.21,86.35 L533.62,86.14 L534.02,85.94 L534.43,85.74 L534.84,85.54 L535.24,85.34 L535.65,85.14 L536.06,84.94 L536.46,84.74 L536.87,84.55 L537.27,84.36 L537.68,84.16 L538.09,83.97 L538.49,83.79 L538.9,83.6 L539.31,83.41 L539.71,83.23 L540.12,83.04 L540.52,82.86 L540.93,82.68 L541.34,82.5 L541.74,82.33 L542.15,82.15 L542.56,81.97 L542.96,81.8 L543.37,81.63 L543.77,81.46 L544.18,81.29 L544.59,81.12 L544.99,80.96 L545.4,80.79 L545.81,80.63 L546.21,80.47 L546.62,80.31 L547.02,80.15 L547.43,79.99 L547.84,79.83 L548.24,79.68 L548.65,79.53 L549.06,79.37 L549.46,79.22 L549.87,79.07 L550.27,78.93 L550.68,78.78 L551.09,78.64 L551.49,78.49 L551.9,78.35 L552.31,78.21 L552.71,78.07 L553.12,77.93 L553.52,77.8 L553.93,77.66 L554.34,77.53 L554.74,77.4 L555.15,77.27 L555.56,77.14 L555.96,77.01 L556.37,76.89 L556.77,76.76 L557.18,76.64 L557.59,76.52 L557.99,76.4 L558.4,76.28 L558.81,76.16 L559.21,76.05 L559.62,75.93 L560.02,75.82 L560.43,75.71 L560.84,75.6 L561.24,75.49 L561.65,75.38 L562.06,75.28 L562.46,75.17 L562.87,75.07 L563.27,74.97 L563.68,74.87 L564.09,74.77 L564.49,74.68 L564.9,74.58 L565.31,74.49 L565.71,74.39 L566.12,74.3 L566.52,74.21 L566.93,74.13 L567.34,74.04 L567.74,73.95 L568.15,73.87 L568.56,73.79 L568.96,73.71 L569.37,73.63 L569.77,73.55 L570.18,73.48 L570.59,73.4 L570.99,73.33 L571.4,73.26 L571.81,73.19 L572.21,73.12 L572.62,73.05 L573.02,72.98 L573.43,72.92 L573.84,72.86 L574.24,72.8 L574.65,72.74 L575.06,72.68 L575.46,72.62 L575.87,72.57 L576.27,72.51 L576.68,72.46 L577.09,72.41 L577.49,72.36 L577.9,72.31 L578.31,72.26 L578.71,72.22 L579.12,72.17 L579.52,72.13 L579.93,72.09 L580.34,72.05 L580.74,72.01 L581.15,71.98 L581.56,71.94 L581.96,71.91 L582.37,71.88 L582.77,71.85 L583.18,71.82 L583.59,71.79 L583.99,71.77 L584.4,71.74 L584.81,71.72 L585.21,71.7 L585.62,71.68 L586.02,71.66 L586.43,71.64 L586.84,71.63 L587.24,71.61 L587.65,71.6 L588.06,71.59 L588.46,71.58 L588.87,71.57 L589.27,71.56 L589.68,71.56 L590.09,71.56 L590.49,71.55 L590.9,71.55 L591.31,71.55 L591.71,71.56 L592.12,71.56 L592.52,71.56 L592.93,71.57 L593.34,71.58 L593.74,71.59 L594.15,71.6 L594.56,71.61 L594.96,71.63 L595.37,71.64 L595.77,71.66 L596.18,71.68 L596.59,71.7 L596.99,71.72 L597.4,71.74 L597.81,71.77 L598.21,71.79 L598.62,71.82 L599.02,71.85 L599.43,71.88 L599.84,71.91 L600.24,71.94 L600.65,71.98 L601.06,72.01 L601.46,72.05 L601.87,72.09 L602.27,72.13 L602.68,72.17 L603.09,72.22 L603.49,72.26 L603.9,72.31 L604.31,72.36 L604.71,72.41 L605.12,72.46 L605.52,72.51 L605.93,72.57 L606.34,72.62 L606.74,72.68 L607.15,72.74 L607.56,72.8 L607.96,72.86 L608.37,72.92 L608.77,72.98 L609.18,73.05 L609.59,73.12 L609.99,73.19 L610.4,73.26 L610.81,73.33 L611.21,73.4 L611.62,73.48 L612.02,73.55 L612.43,73.63 L612.84,73.71 L613.24,73.79 L613.65,73.87 L614.06,73.95 L614.46,74.04 L614.87,74.13 L615.27,74.21 L615.68,74.3 L616.09,74.39 L616.49,74.49 L616.9,74.58 L617.31,74.68 L617.71,74.77 L618.12,74.87 L618.52,74.97 L618.93,75.07 L619.34,75.17 L619.74,75.28 L620.15,75.38 L620.56,75.49 L620.96,75.6 L621.37,75.71 L621.77,75.82 L622.18,75.93 L622.59,76.05 L622.99,76.16 L623.4,76.28 L623.81,76.4 L624.21,76.52 L624.62,76.64 L625.02,76.76 L625.43,76.89 L625.84,77.01 L626.24,77.14 L626.65,77.27 L627.06,77.4 L627.46,77.53 L627.87,77.66 L628.27,77.8 L628.68,77.93 L629.09,78.07 L629.49,78.21 L629.9,78.35 L630.31,78.49 L630.71,78.64 L631.12,78.78 L631.52,78.93 L631.93,79.07 L632.34,79.22 L632.74,79.37 L633.15,79.53 L633.56,79.68 L633.96,79.83 L634.37,79.99 L634.77,80.15 L635.18,80.31 L635.59,80.47 L635.99,80.63 L636.4,80.79 L636.81,80.96 L637.21,81.12 L637.62,81.29 L638.02,81.46 L638.43,81.63 L638.84,81.8 L639.24,81.97 L639.65,82.15 L640.06,82.33 L640.46,82.5 L640.87,82.68 L641.27,82.86 L641.68,83.04 L642.09,83.23 L642.49,83.41 L642.9,83.6 L643.31,83.79 L643.71,83.97 L644.12,84.16 L644.52,84.36 L644.93,84.55 L645.34,84.74 L645.74,84.94 L646.15,85.14 L646.56,85.34 L646.96,85.54 L647.37,85.74 L647.77,85.94 L648.18,86.14 L648.59,86.35 L648.99,86.56 L649.4,86.77 L649.81,86.98 L650.21,87.19 L650.62,87.4 L651.02,87.61 L651.43,87.83 L651.84,88.04 L652.24,88.26 L652.65,88.48 L653.06,88.7 L653.46,88.92 L653.87,89.15 L654.27,89.37 L654.68,89.6 L655.09,89.83 L655.49,90.06 L655.9,90.29 L656.31,90.52 L656.71,90.75 L657.12,90.99 L657.52,91.22 L657.93,91.46 L658.34,91.7 L658.74,91.94 L659.15,92.18 L659.56,92.42 L659.96,92.66 L660.37,92.91 L660.77,93.15 L661.18,93.4 L661.59,93.65 L661.99,93.9 L662.4,94.15 L662.81,94.41 L663.21,94.66 L663.62,94.92 L664.02,95.17 L664.43,95.43 L664.84,95.69 L665.24,95.95 L665.65,96.21 L666.06,96.48 L666.46,96.74 L666.87,97.01 L667.27,97.27 L667.68,97.54 L668.09,97.81 L668.49,98.08 L668.9,98.35 L669.31,98.63 L669.71,98.9 L670.12,99.18 L670.52,99.46 L670.93,99.73 L671.34,100.01 L671.74,100.3 L672.15,100.58 L672.56,100.86 L672.96,101.15 L673.37,101.43 L673.77,101.72 L674.18,102.01 L674.59,102.3 L674.99,102.59 L675.4,102.88 L675.81,103.17 L676.21,103.47 L676.62,103.76 L677.02,104.06 L677.43,104.36 L677.84,104.66 L678.24,104.96 L678.65,105.26 L679.06,105.56 L679.46,105.86 L679.87,106.17 L680.27,106.48 L680.68,106.78 L681.09,107.09 L681.49,107.4 L681.9,107.71 L682.31,108.02 L682.71,108.34 L683.12,108.65 L683.52,108.96 L683.93,109.28 L684.34,109.6 L684.74,109.92 L685.15,110.24 L685.56,110.56 L685.96,110.88 L686.37,111.2 L686.77,111.52 L687.18,111.85 L687.59,112.17 L687.99,112.5 L688.4,112.83 L688.81,113.16 L689.21,113.49 L689.62,113.82 L690.02,114.15 L690.43,114.48 L690.84,114.82 L691.24,115.15 L691.65,115.49 L692.06,115.83 L692.46,116.16 L692.87,116.5 L693.27,116.84 L693.68,117.18 L694.09,117.52 L694.49,117.87 L694.9,118.21 L695.31,118.55 L695.71,118.9 L696.12,119.24 L696.52,119.59 L696.93,119.94 L697.34,120.29 L697.74,120.64 L698.15,120.99 L698.56,121.34 L698.96,121.69 L699.37,122.04 L699.77,122.4 L700.18,122.75 L700.59,123.11 L700.99,123.46 L701.4,123.82 L701.81,124.18 L702.21,124.54 L702.62,124.9 L703.02,125.26 L703.43,125.62 L703.84,125.98 L704.24,126.34 L704.65,126.7 L705.06,127.06 L705.46,127.43 L705.87,127.79 L706.27,128.16 L706.68,128.52 L707.09,128.89 L707.49,129.26 L707.9,129.62 L708.31,129.99 L708.71,130.36 L709.12,130.73 L709.52,131.1 L709.93,131.47 L710.34,131.84 L710.74,132.21 L711.15,132.58 L711.56,132.96 L711.96,133.33 L712.37,133.7 L712.77,134.08 L713.18,134.45 L713.59,134.82 L713.99,135.2 L714.4,135.57 L714.81,135.95 L715.21,136.33 L715.62,136.7 L716.02,137.08 L716.43,137.45 L716.84,137.83 L717.24,138.21 L717.65,138.59 L718.06,138.96 L718.46,139.34 L718.87,139.72 L719.27,140.1 L719.68,140.48 L720.09,140.85 L720.49,141.23 L720.9,141.61 L721.31,141.99 L721.71,142.37 L722.12,142.75 L722.52,143.13 L722.93,143.51 L723.34,143.88 L723.74,144.26 L724.15,144.64 L724.56,145.02 L724.96,145.4 L725.37,145.78 L725.77,146.16 L726.18,146.53 L726.59,146.91 L726.99,147.29 L727.4,147.67 L727.81,148.04 L728.21,148.42 L728.62,148.8 L729.02,149.17 L729.43,149.55 L729.84,149.92 L730.24,150.3 L730.65,150.67 L731.06,151.05 L731.46,151.42 L731.87,151.8 L732.27,152.17 L732.68,152.54 L733.09,152.91 L733.49,153.28 L733.9,153.65 L734.31,154.02 L734.71,154.39 L735.12,154.76 L735.52,155.13 L735.93,155.5 L736.34,155.86 L736.74,156.23 L737.15,156.59 L737.56,156.95 L737.96,157.32 L738.37,157.68 L738.77,158.04 L739.18,158.4 L739.59,158.76 L739.99,159.12 L740.4,159.47 L740.81,159.83 L741.21,160.18 L741.62,160.53 L742.02,160.89 L742.43,161.24 L742.84,161.59 L743.24,161.93 L743.65,162.28 L744.06,162.63 L744.46,162.97 L744.87,163.31 L745.27,163.65 L745.68,163.99 L746.09,164.33 L746.49,164.67 L746.9,165 L747.31,165.34 L747.71,165.67 L748.12,166 L748.52,166.33 L748.93,166.65 L749.34,166.98 L749.74,167.3 L750.15,167.62 L750.56,167.94 L750.96,168.25 L751.37,168.57 L751.77,168.88 L752.18,169.19 L752.59,169.5 L752.99,169.81 L753.4,170.11" stroke="#d42a22" stroke-width="1.8" fill="none" stroke-dasharray="5.5 3" clip-path="url(#cb)" stroke-linejoin="round" />
<rect x="428.4" y="33.3" width="325" height="234" fill="none" stroke="#1a1a1a" stroke-width="1.3"/>
<path d="M425.9,33.3H430.9M425.9,72.3H430.9M425.9,111.3H430.9M425.9,150.3H430.9M425.9,189.3H430.9M425.9,228.3H430.9M425.9,267.3H430.9M428.4,259.5H430.6M428.4,251.7H430.6M428.4,243.9H430.6M428.4,236.1H430.6M428.4,220.5H430.6M428.4,212.7H430.6M428.4,204.9H430.6M428.4,197.1H430.6M428.4,181.5H430.6M428.4,173.7H430.6M428.4,165.9H430.6M428.4,158.1H430.6M428.4,142.5H430.6M428.4,134.7H430.6M428.4,126.9H430.6M428.4,119.1H430.6M428.4,103.5H430.6M428.4,95.7H430.6M428.4,87.9H430.6M428.4,80.1H430.6M428.4,64.5H430.6M428.4,56.7H430.6M428.4,48.9H430.6M428.4,41.1H430.6" stroke="#1a1a1a" stroke-width="1.1" fill="none"/>
<path d="M428.4,269.8V267.3M493.4,269.8V267.3M558.4,269.8V267.3M623.4,269.8V267.3M688.4,269.8V267.3M753.4,269.8V267.3M441.4,269.5V267.3M454.4,269.5V267.3M467.4,269.5V267.3M480.4,269.5V267.3M506.4,269.5V267.3M519.4,269.5V267.3M532.4,269.5V267.3M545.4,269.5V267.3M571.4,269.5V267.3M584.4,269.5V267.3M597.4,269.5V267.3M610.4,269.5V267.3M636.4,269.5V267.3M649.4,269.5V267.3M662.4,269.5V267.3M675.4,269.5V267.3M701.4,269.5V267.3M714.4,269.5V267.3M727.4,269.5V267.3M740.4,269.5V267.3" stroke="#1a1a1a" stroke-width="1.1" fill="none"/>
<text x="424.9" y="38.3" font-size="14.3" text-anchor="end" fill="#000" >10</text>
<text x="424.9" y="77.3" font-size="14.3" text-anchor="end" fill="#000" >5</text>
<text x="424.9" y="116.3" font-size="14.3" text-anchor="end" fill="#000" >0</text>
<text x="424.9" y="155.3" font-size="14.3" text-anchor="end" fill="#000" >-5</text>
<text x="424.9" y="194.3" font-size="14.3" text-anchor="end" fill="#000" >-10</text>
<text x="424.9" y="233.3" font-size="14.3" text-anchor="end" fill="#000" >-15</text>
<text x="424.9" y="272.3" font-size="14.3" text-anchor="end" fill="#000" >-20</text>
<text x="428.4" y="283.4" font-size="14.3" text-anchor="middle" fill="#000" >-50</text>
<text x="493.4" y="283.4" font-size="14.3" text-anchor="middle" fill="#000" >-30</text>
<text x="558.4" y="283.4" font-size="14.3" text-anchor="middle" fill="#000" >-10</text>
<text x="623.4" y="283.4" font-size="14.3" text-anchor="middle" fill="#000" >10</text>
<text x="688.4" y="283.4" font-size="14.3" text-anchor="middle" fill="#000" >30</text>
<text x="753.4" y="283.4" font-size="14.3" text-anchor="middle" fill="#000" >50</text>
<text x="591.7" y="296.6" font-size="13" text-anchor="middle" fill="#000" letter-spacing="0.8">Distance from the centre of pegmatite (m)</text>
<text x="0" y="0" font-size="13.5" text-anchor="middle" textLength="50" lengthAdjust="spacingAndGlyphs" transform="translate(404,149.75) rotate(-90)"><tspan font-family="&apos;Liberation Serif&apos;, serif">δ</tspan><tspan font-size="8" dy="-5">7</tspan><tspan dy="5">Li (‰)</tspan></text>
<text x="411.1" y="14.6" font-size="18" textLength="22.7" lengthAdjust="spacingAndGlyphs">(b)</text>
<text x="438.4" y="63.8" font-size="14" fill="#222" textLength="52" lengthAdjust="spacingAndGlyphs"><tspan font-style="italic">β</tspan> = 0.05</text>
<rect x="946.4" y="72.3" width="32.35" height="24.57" fill="#f8ca80"/>
<rect x="946.4" y="106.46" width="32.35" height="17.32" fill="#e8767f"/>
<path d="M800.5,106.46 L946.08,106.46 L946.08,99.91 L978.42,99.91 L978.42,106.46 L1124,106.46" stroke="#0f1f45" stroke-width="1.8" fill="none" stroke-linejoin="round" />
<path d="M800.5,106.46 L800.9,106.46 L801.31,106.46 L801.71,106.46 L802.12,106.46 L802.52,106.46 L802.93,106.46 L803.33,106.46 L803.74,106.46 L804.14,106.46 L804.54,106.46 L804.95,106.46 L805.35,106.46 L805.76,106.46 L806.16,106.46 L806.57,106.46 L806.97,106.46 L807.37,106.46 L807.78,106.46 L808.18,106.46 L808.59,106.46 L808.99,106.46 L809.4,106.46 L809.8,106.46 L810.21,106.46 L810.61,106.46 L811.01,106.46 L811.42,106.46 L811.82,106.46 L812.23,106.46 L812.63,106.46 L813.04,106.46 L813.44,106.46 L813.84,106.46 L814.25,106.46 L814.65,106.46 L815.06,106.46 L815.46,106.46 L815.87,106.46 L816.27,106.46 L816.67,106.46 L817.08,106.46 L817.48,106.46 L817.89,106.46 L818.29,106.46 L818.7,106.46 L819.1,106.46 L819.51,106.46 L819.91,106.46 L820.31,106.46 L820.72,106.46 L821.12,106.46 L821.53,106.46 L821.93,106.46 L822.34,106.46 L822.74,106.46 L823.14,106.46 L823.55,106.46 L823.95,106.46 L824.36,106.46 L824.76,106.46 L825.17,106.46 L825.57,106.46 L825.98,106.46 L826.38,106.46 L826.78,106.46 L827.19,106.46 L827.59,106.46 L828,106.46 L828.4,106.46 L828.81,106.46 L829.21,106.46 L829.62,106.46 L830.02,106.46 L830.42,106.46 L830.83,106.46 L831.23,106.46 L831.64,106.46 L832.04,106.46 L832.45,106.46 L832.85,106.46 L833.25,106.46 L833.66,106.46 L834.06,106.46 L834.47,106.46 L834.87,106.46 L835.28,106.46 L835.68,106.46 L836.09,106.46 L836.49,106.46 L836.89,106.46 L837.3,106.46 L837.7,106.46 L838.11,106.46 L838.51,106.46 L838.92,106.46 L839.32,106.46 L839.72,106.46 L840.13,106.46 L840.53,106.46 L840.94,106.46 L841.34,106.46 L841.75,106.46 L842.15,106.46 L842.55,106.46 L842.96,106.46 L843.36,106.46 L843.77,106.46 L844.17,106.46 L844.58,106.46 L844.98,106.46 L845.39,106.46 L845.79,106.46 L846.19,106.46 L846.6,106.46 L847,106.46 L847.41,106.46 L847.81,106.46 L848.22,106.46 L848.62,106.46 L849.02,106.46 L849.43,106.46 L849.83,106.46 L850.24,106.46 L850.64,106.46 L851.05,106.46 L851.45,106.46 L851.86,106.46 L852.26,106.46 L852.66,106.46 L853.07,106.46 L853.47,106.46 L853.88,106.46 L854.28,106.46 L854.69,106.46 L855.09,106.46 L855.5,106.46 L855.9,106.46 L856.3,106.46 L856.71,106.46 L857.11,106.46 L857.52,106.46 L857.92,106.46 L858.33,106.46 L858.73,106.46 L859.13,106.46 L859.54,106.46 L859.94,106.46 L860.35,106.46 L860.75,106.46 L861.16,106.46 L861.56,106.46 L861.97,106.46 L862.37,106.46 L862.77,106.46 L863.18,106.46 L863.58,106.46 L863.99,106.46 L864.39,106.46 L864.8,106.46 L865.2,106.46 L865.6,106.46 L866.01,106.46 L866.41,106.46 L866.82,106.46 L867.22,106.46 L867.63,106.46 L868.03,106.46 L868.43,106.46 L868.84,106.46 L869.24,106.46 L869.65,106.46 L870.05,106.46 L870.46,106.46 L870.86,106.46 L871.27,106.46 L871.67,106.46 L872.07,106.46 L872.48,106.46 L872.88,106.46 L873.29,106.46 L873.69,106.46 L874.1,106.46 L874.5,106.46 L874.9,106.46 L875.31,106.46 L875.71,106.46 L876.12,106.46 L876.52,106.46 L876.93,106.46 L877.33,106.46 L877.74,106.46 L878.14,106.46 L878.54,106.46 L878.95,106.46 L879.35,106.46 L879.76,106.46 L880.16,106.46 L880.57,106.46 L880.97,106.46 L881.38,106.46 L881.78,106.46 L882.18,106.46 L882.59,106.46 L882.99,106.46 L883.4,106.46 L883.8,106.46 L884.21,106.46 L884.61,106.46 L885.01,106.46 L885.42,106.46 L885.82,106.46 L886.23,106.46 L886.63,106.46 L887.04,106.46 L887.44,106.46 L887.85,106.46 L888.25,106.46 L888.65,106.46 L889.06,106.46 L889.46,106.46 L889.87,106.46 L890.27,106.46 L890.68,106.46 L891.08,106.46 L891.48,106.46 L891.89,106.46 L892.29,106.46 L892.7,106.46 L893.1,106.46 L893.51,106.46 L893.91,106.46 L894.32,106.47 L894.72,106.47 L895.12,106.47 L895.53,106.47 L895.93,106.47 L896.34,106.47 L896.74,106.47 L897.15,106.47 L897.55,106.47 L897.95,106.47 L898.36,106.48 L898.76,106.48 L899.17,106.48 L899.57,106.49 L899.98,106.49 L900.38,106.5 L900.78,106.51 L901.19,106.52 L901.59,106.54 L902,106.56 L902.4,106.58 L902.81,106.61 L903.21,106.64 L903.62,106.68 L904.02,106.73 L904.42,106.79 L904.83,106.86 L905.23,106.94 L905.64,107.05 L906.04,107.17 L906.45,107.32 L906.85,107.5 L907.25,107.71 L907.66,107.97 L908.06,108.27 L908.47,108.62 L908.87,109.04 L909.28,109.54 L909.68,110.12 L910.09,110.81 L910.49,111.61 L910.89,112.54 L911.3,113.62 L911.7,114.88 L912.11,116.34 L912.51,118.01 L912.92,119.93 L913.32,122.14 L913.73,124.65 L914.13,127.5 L914.53,130.73 L914.94,134.38 L915.34,138.46 L915.75,143.03 L916.15,148.1 L916.56,153.7 L916.96,159.85 L917.36,166.57 L917.77,173.85 L918.17,181.68 L918.58,190.04 L918.98,198.88 L919.39,208.16 L919.79,217.79 L920.19,227.68 L920.6,237.73 L921,247.82 L921.41,257.81 L921.81,267.56 L922.22,276.94 L922.62,285.82 L923.03,294.07 L923.43,301.57 L923.83,306.3 L924.24,306.3 L924.64,306.3 L925.05,306.3 L925.45,306.3 L925.86,306.3 L926.26,306.3 L926.66,306.3 L927.07,306.3 L927.47,306.3 L927.88,306.3 L928.28,306.3 L928.69,306.3 L929.09,306.3 L929.5,306.16 L929.9,300.89 L930.3,295.28 L930.71,289.39 L931.11,283.26 L931.52,276.95 L931.92,270.5 L932.33,263.95 L932.73,257.33 L933.13,250.68 L933.54,244.03 L933.94,237.4 L934.35,230.81 L934.75,224.29 L935.16,217.84 L935.56,211.49 L935.97,205.24 L936.37,199.12 L936.77,193.13 L937.18,187.27 L937.58,181.56 L937.99,176 L938.39,170.59 L938.8,165.35 L939.2,160.26 L939.61,155.35 L940.01,150.6 L940.41,146.03 L940.82,141.62 L941.22,137.39 L941.63,133.33 L942.03,129.44 L942.44,125.72 L942.84,122.17 L943.24,118.79 L943.65,115.58 L944.05,112.54 L944.46,109.65 L944.86,106.93 L945.27,104.37 L945.67,101.96 L946.08,99.71 L946.48,97.61 L946.88,95.65 L947.29,93.83 L947.69,92.15 L948.1,90.61 L948.5,89.2 L948.91,87.91 L949.31,86.74 L949.71,85.69 L950.12,84.76 L950.52,83.92 L950.93,83.19 L951.33,82.56 L951.74,82.01 L952.14,81.55 L952.54,81.17 L952.95,80.86 L953.35,80.62 L953.76,80.44 L954.16,80.32 L954.57,80.25 L954.97,80.22 L955.38,80.24 L955.78,80.28 L956.18,80.36 L956.59,80.46 L956.99,80.57 L957.4,80.7 L957.8,80.84 L958.21,80.98 L958.61,81.12 L959.01,81.26 L959.42,81.39 L959.82,81.5 L960.23,81.61 L960.63,81.7 L961.04,81.77 L961.44,81.82 L961.85,81.86 L962.25,81.87 L962.65,81.86 L963.06,81.82 L963.46,81.77 L963.87,81.7 L964.27,81.61 L964.68,81.5 L965.08,81.39 L965.49,81.26 L965.89,81.12 L966.29,80.98 L966.7,80.84 L967.1,80.7 L967.51,80.57 L967.91,80.46 L968.32,80.36 L968.72,80.28 L969.12,80.24 L969.53,80.22 L969.93,80.25 L970.34,80.32 L970.74,80.44 L971.15,80.62 L971.55,80.86 L971.96,81.17 L972.36,81.55 L972.76,82.01 L973.17,82.56 L973.57,83.19 L973.98,83.92 L974.38,84.76 L974.79,85.69 L975.19,86.74 L975.59,87.91 L976,89.2 L976.4,90.61 L976.81,92.15 L977.21,93.83 L977.62,95.65 L978.02,97.61 L978.42,99.71 L978.83,101.96 L979.23,104.37 L979.64,106.93 L980.04,109.65 L980.45,112.54 L980.85,115.58 L981.26,118.79 L981.66,122.17 L982.06,125.72 L982.47,129.44 L982.87,133.33 L983.28,137.39 L983.68,141.62 L984.09,146.03 L984.49,150.6 L984.89,155.35 L985.3,160.26 L985.7,165.35 L986.11,170.59 L986.51,176 L986.92,181.56 L987.32,187.27 L987.73,193.13 L988.13,199.12 L988.53,205.24 L988.94,211.49 L989.34,217.84 L989.75,224.29 L990.15,230.81 L990.56,237.4 L990.96,244.03 L991.37,250.68 L991.77,257.33 L992.17,263.95 L992.58,270.5 L992.98,276.95 L993.39,283.26 L993.79,289.39 L994.2,295.28 L994.6,300.89 L995,306.16 L995.41,306.3 L995.81,306.3 L996.22,306.3 L996.62,306.3 L997.03,306.3 L997.43,306.3 L997.84,306.3 L998.24,306.3 L998.64,306.3 L999.05,306.3 L999.45,306.3 L999.86,306.3 L1000.26,306.3 L1000.67,306.3 L1001.07,301.57 L1001.47,294.07 L1001.88,285.82 L1002.28,276.94 L1002.69,267.56 L1003.09,257.81 L1003.5,247.82 L1003.9,237.73 L1004.31,227.68 L1004.71,217.79 L1005.11,208.16 L1005.52,198.88 L1005.92,190.04 L1006.33,181.68 L1006.73,173.85 L1007.14,166.57 L1007.54,159.85 L1007.94,153.7 L1008.35,148.1 L1008.75,143.03 L1009.16,138.46 L1009.56,134.38 L1009.97,130.73 L1010.37,127.5 L1010.77,124.65 L1011.18,122.14 L1011.58,119.93 L1011.99,118.01 L1012.39,116.34 L1012.8,114.88 L1013.2,113.62 L1013.61,112.54 L1014.01,111.61 L1014.41,110.81 L1014.82,110.12 L1015.22,109.54 L1015.63,109.04 L1016.03,108.62 L1016.44,108.27 L1016.84,107.97 L1017.25,107.71 L1017.65,107.5 L1018.05,107.32 L1018.46,107.17 L1018.86,107.05 L1019.27,106.94 L1019.67,106.86 L1020.08,106.79 L1020.48,106.73 L1020.88,106.68 L1021.29,106.64 L1021.69,106.61 L1022.1,106.58 L1022.5,106.56 L1022.91,106.54 L1023.31,106.52 L1023.71,106.51 L1024.12,106.5 L1024.52,106.49 L1024.93,106.49 L1025.33,106.48 L1025.74,106.48 L1026.14,106.48 L1026.55,106.47 L1026.95,106.47 L1027.35,106.47 L1027.76,106.47 L1028.16,106.47 L1028.57,106.47 L1028.97,106.47 L1029.38,106.47 L1029.78,106.47 L1030.18,106.47 L1030.59,106.46 L1030.99,106.46 L1031.4,106.46 L1031.8,106.46 L1032.21,106.46 L1032.61,106.46 L1033.02,106.46 L1033.42,106.46 L1033.82,106.46 L1034.23,106.46 L1034.63,106.46 L1035.04,106.46 L1035.44,106.46 L1035.85,106.46 L1036.25,106.46 L1036.65,106.46 L1037.06,106.46 L1037.46,106.46 L1037.87,106.46 L1038.27,106.46 L1038.68,106.46 L1039.08,106.46 L1039.49,106.46 L1039.89,106.46 L1040.29,106.46 L1040.7,106.46 L1041.1,106.46 L1041.51,106.46 L1041.91,106.46 L1042.32,106.46 L1042.72,106.46 L1043.12,106.46 L1043.53,106.46 L1043.93,106.46 L1044.34,106.46 L1044.74,106.46 L1045.15,106.46 L1045.55,106.46 L1045.96,106.46 L1046.36,106.46 L1046.76,106.46 L1047.17,106.46 L1047.57,106.46 L1047.98,106.46 L1048.38,106.46 L1048.79,106.46 L1049.19,106.46 L1049.6,106.46 L1050,106.46 L1050.4,106.46 L1050.81,106.46 L1051.21,106.46 L1051.62,106.46 L1052.02,106.46 L1052.43,106.46 L1052.83,106.46 L1053.23,106.46 L1053.64,106.46 L1054.04,106.46 L1054.45,106.46 L1054.85,106.46 L1055.26,106.46 L1055.66,106.46 L1056.07,106.46 L1056.47,106.46 L1056.87,106.46 L1057.28,106.46 L1057.68,106.46 L1058.09,106.46 L1058.49,106.46 L1058.9,106.46 L1059.3,106.46 L1059.7,106.46 L1060.11,106.46 L1060.51,106.46 L1060.92,106.46 L1061.32,106.46 L1061.73,106.46 L1062.13,106.46 L1062.54,106.46 L1062.94,106.46 L1063.34,106.46 L1063.75,106.46 L1064.15,106.46 L1064.56,106.46 L1064.96,106.46 L1065.37,106.46 L1065.77,106.46 L1066.17,106.46 L1066.58,106.46 L1066.98,106.46 L1067.39,106.46 L1067.79,106.46 L1068.2,106.46 L1068.6,106.46 L1069.01,106.46 L1069.41,106.46 L1069.81,106.46 L1070.22,106.46 L1070.62,106.46 L1071.03,106.46 L1071.43,106.46 L1071.84,106.46 L1072.24,106.46 L1072.64,106.46 L1073.05,106.46 L1073.45,106.46 L1073.86,106.46 L1074.26,106.46 L1074.67,106.46 L1075.07,106.46 L1075.47,106.46 L1075.88,106.46 L1076.28,106.46 L1076.69,106.46 L1077.09,106.46 L1077.5,106.46 L1077.9,106.46 L1078.31,106.46 L1078.71,106.46 L1079.11,106.46 L1079.52,106.46 L1079.92,106.46 L1080.33,106.46 L1080.73,106.46 L1081.14,106.46 L1081.54,106.46 L1081.94,106.46 L1082.35,106.46 L1082.75,106.46 L1083.16,106.46 L1083.56,106.46 L1083.97,106.46 L1084.37,106.46 L1084.78,106.46 L1085.18,106.46 L1085.58,106.46 L1085.99,106.46 L1086.39,106.46 L1086.8,106.46 L1087.2,106.46 L1087.61,106.46 L1088.01,106.46 L1088.41,106.46 L1088.82,106.46 L1089.22,106.46 L1089.63,106.46 L1090.03,106.46 L1090.44,106.46 L1090.84,106.46 L1091.25,106.46 L1091.65,106.46 L1092.05,106.46 L1092.46,106.46 L1092.86,106.46 L1093.27,106.46 L1093.67,106.46 L1094.08,106.46 L1094.48,106.46 L1094.88,106.46 L1095.29,106.46 L1095.69,106.46 L1096.1,106.46 L1096.5,106.46 L1096.91,106.46 L1097.31,106.46 L1097.72,106.46 L1098.12,106.46 L1098.52,106.46 L1098.93,106.46 L1099.33,106.46 L1099.74,106.46 L1100.14,106.46 L1100.55,106.46 L1100.95,106.46 L1101.36,106.46 L1101.76,106.46 L1102.16,106.46 L1102.57,106.46 L1102.97,106.46 L1103.38,106.46 L1103.78,106.46 L1104.19,106.46 L1104.59,106.46 L1104.99,106.46 L1105.4,106.46 L1105.8,106.46 L1106.21,106.46 L1106.61,106.46 L1107.02,106.46 L1107.42,106.46 L1107.83,106.46 L1108.23,106.46 L1108.63,106.46 L1109.04,106.46 L1109.44,106.46 L1109.85,106.46 L1110.25,106.46 L1110.66,106.46 L1111.06,106.46 L1111.46,106.46 L1111.87,106.46 L1112.27,106.46 L1112.68,106.46 L1113.08,106.46 L1113.49,106.46 L1113.89,106.46 L1114.3,106.46 L1114.7,106.46 L1115.1,106.46 L1115.51,106.46 L1115.91,106.46 L1116.32,106.46 L1116.72,106.46 L1117.13,106.46 L1117.53,106.46 L1117.93,106.46 L1118.34,106.46 L1118.74,106.46 L1119.15,106.46 L1119.55,106.46 L1119.96,106.46 L1120.36,106.46 L1120.76,106.46 L1121.17,106.46 L1121.57,106.46 L1121.98,106.46 L1122.38,106.46 L1122.79,106.46 L1123.19,106.46 L1123.6,106.46 L1124,106.46" stroke="#2aa8dc" stroke-width="2.0" fill="none" stroke-dasharray="5.5 3.2" clip-path="url(#cc)" stroke-linejoin="round" />
<path d="M800.5,106.46 L800.9,106.46 L801.31,106.46 L801.71,106.46 L802.12,106.46 L802.52,106.46 L802.93,106.46 L803.33,106.46 L803.74,106.46 L804.14,106.46 L804.54,106.46 L804.95,106.46 L805.35,106.46 L805.76,106.46 L806.16,106.46 L806.57,106.46 L806.97,106.46 L807.37,106.46 L807.78,106.46 L808.18,106.46 L808.59,106.46 L808.99,106.46 L809.4,106.46 L809.8,106.46 L810.21,106.46 L810.61,106.46 L811.01,106.46 L811.42,106.46 L811.82,106.46 L812.23,106.46 L812.63,106.46 L813.04,106.46 L813.44,106.46 L813.84,106.46 L814.25,106.46 L814.65,106.46 L815.06,106.46 L815.46,106.46 L815.87,106.46 L816.27,106.46 L816.67,106.46 L817.08,106.46 L817.48,106.46 L817.89,106.46 L818.29,106.46 L818.7,106.46 L819.1,106.46 L819.51,106.46 L819.91,106.46 L820.31,106.46 L820.72,106.46 L821.12,106.46 L821.53,106.46 L821.93,106.46 L822.34,106.46 L822.74,106.46 L823.14,106.46 L823.55,106.46 L823.95,106.46 L824.36,106.46 L824.76,106.46 L825.17,106.46 L825.57,106.46 L825.98,106.46 L826.38,106.46 L826.78,106.46 L827.19,106.46 L827.59,106.46 L828,106.46 L828.4,106.46 L828.81,106.46 L829.21,106.46 L829.62,106.46 L830.02,106.46 L830.42,106.46 L830.83,106.46 L831.23,106.46 L831.64,106.46 L832.04,106.46 L832.45,106.46 L832.85,106.46 L833.25,106.46 L833.66,106.46 L834.06,106.46 L834.47,106.46 L834.87,106.46 L835.28,106.46 L835.68,106.46 L836.09,106.46 L836.49,106.46 L836.89,106.47 L837.3,106.47 L837.7,106.47 L838.11,106.47 L838.51,106.47 L838.92,106.47 L839.32,106.47 L839.72,106.47 L840.13,106.47 L840.53,106.47 L840.94,106.47 L841.34,106.47 L841.75,106.47 L842.15,106.47 L842.55,106.47 L842.96,106.47 L843.36,106.47 L843.77,106.47 L844.17,106.47 L844.58,106.47 L844.98,106.47 L845.39,106.48 L845.79,106.48 L846.19,106.48 L846.6,106.48 L847,106.48 L847.41,106.49 L847.81,106.49 L848.22,106.49 L848.62,106.49 L849.02,106.5 L849.43,106.5 L849.83,106.5 L850.24,106.51 L850.64,106.51 L851.05,106.52 L851.45,106.53 L851.86,106.53 L852.26,106.54 L852.66,106.55 L853.07,106.56 L853.47,106.57 L853.88,106.58 L854.28,106.59 L854.69,106.6 L855.09,106.62 L855.5,106.64 L855.9,106.65 L856.3,106.67 L856.71,106.69 L857.11,106.72 L857.52,106.74 L857.92,106.77 L858.33,106.8 L858.73,106.84 L859.13,106.88 L859.54,106.92 L859.94,106.96 L860.35,107.01 L860.75,107.06 L861.16,107.12 L861.56,107.19 L861.97,107.26 L862.37,107.33 L862.77,107.42 L863.18,107.51 L863.58,107.6 L863.99,107.71 L864.39,107.83 L864.8,107.95 L865.2,108.09 L865.6,108.24 L866.01,108.4 L866.41,108.57 L866.82,108.76 L867.22,108.97 L867.63,109.19 L868.03,109.43 L868.43,109.69 L868.84,109.97 L869.24,110.28 L869.65,110.6 L870.05,110.96 L870.46,111.34 L870.86,111.75 L871.27,112.19 L871.67,112.66 L872.07,113.18 L872.48,113.72 L872.88,114.31 L873.29,114.95 L873.69,115.63 L874.1,116.35 L874.5,117.13 L874.9,117.96 L875.31,118.85 L875.71,119.81 L876.12,120.82 L876.52,121.91 L876.93,123.06 L877.33,124.29 L877.74,125.6 L878.14,127 L878.54,128.48 L878.95,130.05 L879.35,131.71 L879.76,133.48 L880.16,135.34 L880.57,137.31 L880.97,139.4 L881.38,141.59 L881.78,143.91 L882.18,146.34 L882.59,148.9 L882.99,151.59 L883.4,154.4 L883.8,157.35 L884.21,160.43 L884.61,163.64 L885.01,166.99 L885.42,170.47 L885.82,174.09 L886.23,177.85 L886.63,181.73 L887.04,185.74 L887.44,189.88 L887.85,194.14 L888.25,198.52 L888.65,203 L889.06,207.59 L889.46,212.26 L889.87,217.03 L890.27,221.86 L890.68,226.76 L891.08,231.71 L891.48,236.7 L891.89,241.71 L892.29,246.74 L892.7,251.75 L893.1,256.75 L893.51,261.72 L893.91,266.63 L894.32,271.47 L894.72,276.23 L895.12,280.89 L895.53,285.44 L895.93,289.85 L896.34,294.12 L896.74,298.24 L897.15,302.18 L897.55,305.94 L897.95,306.3 L898.36,306.3 L898.76,306.3 L899.17,306.3 L899.57,306.3 L899.98,306.3 L900.38,306.3 L900.78,306.3 L901.19,306.3 L901.59,306.3 L902,306.3 L902.4,306.3 L902.81,306.3 L903.21,306.3 L903.62,306.3 L904.02,306.3 L904.42,306.3 L904.83,306.3 L905.23,306.3 L905.64,306.3 L906.04,306.3 L906.45,306.3 L906.85,306.3 L907.25,306.3 L907.66,306.3 L908.06,306.3 L908.47,306.3 L908.87,306.3 L909.28,306.3 L909.68,306.3 L910.09,306.3 L910.49,306.3 L910.89,306.3 L911.3,306.3 L911.7,304.7 L912.11,301.85 L912.51,298.93 L912.92,295.95 L913.32,292.9 L913.73,289.81 L914.13,286.66 L914.53,283.47 L914.94,280.25 L915.34,276.99 L915.75,273.7 L916.15,270.39 L916.56,267.06 L916.96,263.71 L917.36,260.34 L917.77,256.97 L918.17,253.59 L918.58,250.21 L918.98,246.82 L919.39,243.44 L919.79,240.06 L920.19,236.68 L920.6,233.32 L921,229.97 L921.41,226.63 L921.81,223.3 L922.22,219.99 L922.62,216.7 L923.03,213.43 L923.43,210.18 L923.83,206.95 L924.24,203.74 L924.64,200.56 L925.05,197.4 L925.45,194.27 L925.86,191.17 L926.26,188.1 L926.66,185.06 L927.07,182.04 L927.47,179.06 L927.88,176.1 L928.28,173.18 L928.69,170.3 L929.09,167.44 L929.5,164.62 L929.9,161.83 L930.3,159.07 L930.71,156.35 L931.11,153.67 L931.52,151.02 L931.92,148.4 L932.33,145.82 L932.73,143.28 L933.13,140.77 L933.54,138.3 L933.94,135.86 L934.35,133.46 L934.75,131.1 L935.16,128.77 L935.56,126.48 L935.97,124.23 L936.37,122.01 L936.77,119.83 L937.18,117.69 L937.58,115.58 L937.99,113.51 L938.39,111.48 L938.8,109.48 L939.2,107.52 L939.61,105.6 L940.01,103.71 L940.41,101.86 L940.82,100.05 L941.22,98.27 L941.63,96.53 L942.03,94.83 L942.44,93.16 L942.84,91.53 L943.24,89.93 L943.65,88.37 L944.05,86.84 L944.46,85.35 L944.86,83.9 L945.27,82.48 L945.67,81.1 L946.08,79.75 L946.48,78.43 L946.88,77.16 L947.29,75.91 L947.69,74.7 L948.1,73.53 L948.5,72.39 L948.91,71.29 L949.31,70.22 L949.71,69.18 L950.12,68.18 L950.52,67.21 L950.93,66.27 L951.33,65.37 L951.74,64.51 L952.14,63.67 L952.54,62.87 L952.95,62.11 L953.35,61.37 L953.76,60.67 L954.16,60.01 L954.57,59.37 L954.97,58.77 L955.38,58.21 L955.78,57.67 L956.18,57.17 L956.59,56.7 L956.99,56.26 L957.4,55.86 L957.8,55.49 L958.21,55.15 L958.61,54.84 L959.01,54.57 L959.42,54.33 L959.82,54.12 L960.23,53.94 L960.63,53.79 L961.04,53.68 L961.44,53.6 L961.85,53.55 L962.25,53.54 L962.65,53.55 L963.06,53.6 L963.46,53.68 L963.87,53.79 L964.27,53.94 L964.68,54.12 L965.08,54.33 L965.49,54.57 L965.89,54.84 L966.29,55.15 L966.7,55.49 L967.1,55.86 L967.51,56.26 L967.91,56.7 L968.32,57.17 L968.72,57.67 L969.12,58.21 L969.53,58.77 L969.93,59.37 L970.34,60.01 L970.74,60.67 L971.15,61.37 L971.55,62.11 L971.96,62.87 L972.36,63.67 L972.76,64.51 L973.17,65.37 L973.57,66.27 L973.98,67.21 L974.38,68.18 L974.79,69.18 L975.19,70.22 L975.59,71.29 L976,72.39 L976.4,73.53 L976.81,74.7 L977.21,75.91 L977.62,77.16 L978.02,78.43 L978.42,79.75 L978.83,81.1 L979.23,82.48 L979.64,83.9 L980.04,85.35 L980.45,86.84 L980.85,88.37 L981.26,89.93 L981.66,91.53 L982.06,93.16 L982.47,94.83 L982.87,96.53 L983.28,98.27 L983.68,100.05 L984.09,101.86 L984.49,103.71 L984.89,105.6 L985.3,107.52 L985.7,109.48 L986.11,111.48 L986.51,113.51 L986.92,115.58 L987.32,117.69 L987.73,119.83 L988.13,122.01 L988.53,124.23 L988.94,126.48 L989.34,128.77 L989.75,131.1 L990.15,133.46 L990.56,135.86 L990.96,138.3 L991.37,140.77 L991.77,143.28 L992.17,145.82 L992.58,148.4 L992.98,151.02 L993.39,153.67 L993.79,156.35 L994.2,159.07 L994.6,161.83 L995,164.62 L995.41,167.44 L995.81,170.3 L996.22,173.18 L996.62,176.1 L997.03,179.06 L997.43,182.04 L997.84,185.06 L998.24,188.1 L998.64,191.17 L999.05,194.27 L999.45,197.4 L999.86,200.56 L1000.26,203.74 L1000.67,206.95 L1001.07,210.18 L1001.47,213.43 L1001.88,216.7 L1002.28,219.99 L1002.69,223.3 L1003.09,226.63 L1003.5,229.97 L1003.9,233.32 L1004.31,236.68 L1004.71,240.06 L1005.11,243.44 L1005.52,246.82 L1005.92,250.21 L1006.33,253.59 L1006.73,256.97 L1007.14,260.34 L1007.54,263.71 L1007.94,267.06 L1008.35,270.39 L1008.75,273.7 L1009.16,276.99 L1009.56,280.25 L1009.97,283.47 L1010.37,286.66 L1010.77,289.81 L1011.18,292.9 L1011.58,295.95 L1011.99,298.93 L1012.39,301.85 L1012.8,304.7 L1013.2,306.3 L1013.61,306.3 L1014.01,306.3 L1014.41,306.3 L1014.82,306.3 L1015.22,306.3 L1015.63,306.3 L1016.03,306.3 L1016.44,306.3 L1016.84,306.3 L1017.25,306.3 L1017.65,306.3 L1018.05,306.3 L1018.46,306.3 L1018.86,306.3 L1019.27,306.3 L1019.67,306.3 L1020.08,306.3 L1020.48,306.3 L1020.88,306.3 L1021.29,306.3 L1021.69,306.3 L1022.1,306.3 L1022.5,306.3 L1022.91,306.3 L1023.31,306.3 L1023.71,306.3 L1024.12,306.3 L1024.52,306.3 L1024.93,306.3 L1025.33,306.3 L1025.74,306.3 L1026.14,306.3 L1026.55,306.3 L1026.95,305.94 L1027.35,302.18 L1027.76,298.24 L1028.16,294.12 L1028.57,289.85 L1028.97,285.44 L1029.38,280.89 L1029.78,276.23 L1030.18,271.47 L1030.59,266.63 L1030.99,261.72 L1031.4,256.75 L1031.8,251.75 L1032.21,246.74 L1032.61,241.71 L1033.02,236.7 L1033.42,231.71 L1033.82,226.76 L1034.23,221.86 L1034.63,217.03 L1035.04,212.26 L1035.44,207.59 L1035.85,203 L1036.25,198.52 L1036.65,194.14 L1037.06,189.88 L1037.46,185.74 L1037.87,181.73 L1038.27,177.85 L1038.68,174.09 L1039.08,170.47 L1039.49,166.99 L1039.89,163.64 L1040.29,160.43 L1040.7,157.35 L1041.1,154.4 L1041.51,151.59 L1041.91,148.9 L1042.32,146.34 L1042.72,143.91 L1043.12,141.59 L1043.53,139.4 L1043.93,137.31 L1044.34,135.34 L1044.74,133.48 L1045.15,131.71 L1045.55,130.05 L1045.96,128.48 L1046.36,127 L1046.76,125.6 L1047.17,124.29 L1047.57,123.06 L1047.98,121.91 L1048.38,120.82 L1048.79,119.81 L1049.19,118.85 L1049.6,117.96 L1050,117.13 L1050.4,116.35 L1050.81,115.63 L1051.21,114.95 L1051.62,114.31 L1052.02,113.72 L1052.43,113.18 L1052.83,112.66 L1053.23,112.19 L1053.64,111.75 L1054.04,111.34 L1054.45,110.96 L1054.85,110.6 L1055.26,110.28 L1055.66,109.97 L1056.07,109.69 L1056.47,109.43 L1056.87,109.19 L1057.28,108.97 L1057.68,108.76 L1058.09,108.57 L1058.49,108.4 L1058.9,108.24 L1059.3,108.09 L1059.7,107.95 L1060.11,107.83 L1060.51,107.71 L1060.92,107.6 L1061.32,107.51 L1061.73,107.42 L1062.13,107.33 L1062.54,107.26 L1062.94,107.19 L1063.34,107.12 L1063.75,107.06 L1064.15,107.01 L1064.56,106.96 L1064.96,106.92 L1065.37,106.88 L1065.77,106.84 L1066.17,106.8 L1066.58,106.77 L1066.98,106.74 L1067.39,106.72 L1067.79,106.69 L1068.2,106.67 L1068.6,106.65 L1069.01,106.64 L1069.41,106.62 L1069.81,106.6 L1070.22,106.59 L1070.62,106.58 L1071.03,106.57 L1071.43,106.56 L1071.84,106.55 L1072.24,106.54 L1072.64,106.53 L1073.05,106.53 L1073.45,106.52 L1073.86,106.51 L1074.26,106.51 L1074.67,106.5 L1075.07,106.5 L1075.47,106.5 L1075.88,106.49 L1076.28,106.49 L1076.69,106.49 L1077.09,106.49 L1077.5,106.48 L1077.9,106.48 L1078.31,106.48 L1078.71,106.48 L1079.11,106.48 L1079.52,106.47 L1079.92,106.47 L1080.33,106.47 L1080.73,106.47 L1081.14,106.47 L1081.54,106.47 L1081.94,106.47 L1082.35,106.47 L1082.75,106.47 L1083.16,106.47 L1083.56,106.47 L1083.97,106.47 L1084.37,106.47 L1084.78,106.47 L1085.18,106.47 L1085.58,106.47 L1085.99,106.47 L1086.39,106.47 L1086.8,106.47 L1087.2,106.47 L1087.61,106.47 L1088.01,106.46 L1088.41,106.46 L1088.82,106.46 L1089.22,106.46 L1089.63,106.46 L1090.03,106.46 L1090.44,106.46 L1090.84,106.46 L1091.25,106.46 L1091.65,106.46 L1092.05,106.46 L1092.46,106.46 L1092.86,106.46 L1093.27,106.46 L1093.67,106.46 L1094.08,106.46 L1094.48,106.46 L1094.88,106.46 L1095.29,106.46 L1095.69,106.46 L1096.1,106.46 L1096.5,106.46 L1096.91,106.46 L1097.31,106.46 L1097.72,106.46 L1098.12,106.46 L1098.52,106.46 L1098.93,106.46 L1099.33,106.46 L1099.74,106.46 L1100.14,106.46 L1100.55,106.46 L1100.95,106.46 L1101.36,106.46 L1101.76,106.46 L1102.16,106.46 L1102.57,106.46 L1102.97,106.46 L1103.38,106.46 L1103.78,106.46 L1104.19,106.46 L1104.59,106.46 L1104.99,106.46 L1105.4,106.46 L1105.8,106.46 L1106.21,106.46 L1106.61,106.46 L1107.02,106.46 L1107.42,106.46 L1107.83,106.46 L1108.23,106.46 L1108.63,106.46 L1109.04,106.46 L1109.44,106.46 L1109.85,106.46 L1110.25,106.46 L1110.66,106.46 L1111.06,106.46 L1111.46,106.46 L1111.87,106.46 L1112.27,106.46 L1112.68,106.46 L1113.08,106.46 L1113.49,106.46 L1113.89,106.46 L1114.3,106.46 L1114.7,106.46 L1115.1,106.46 L1115.51,106.46 L1115.91,106.46 L1116.32,106.46 L1116.72,106.46 L1117.13,106.46 L1117.53,106.46 L1117.93,106.46 L1118.34,106.46 L1118.74,106.46 L1119.15,106.46 L1119.55,106.46 L1119.96,106.46 L1120.36,106.46 L1120.76,106.46 L1121.17,106.46 L1121.57,106.46 L1121.98,106.46 L1122.38,106.46 L1122.79,106.46 L1123.19,106.46 L1123.6,106.46 L1124,106.46" stroke="#6a3d9e" stroke-width="1.8" fill="none" stroke-dasharray="4.5 2.8" clip-path="url(#cc)" stroke-linejoin="round" />
<path d="M800.5,238.69 L800.9,238.1 L801.31,237.51 L801.71,236.91 L802.12,236.31 L802.52,235.7 L802.93,235.09 L803.33,234.47 L803.74,233.85 L804.14,233.23 L804.54,232.6 L804.95,231.97 L805.35,231.33 L805.76,230.69 L806.16,230.05 L806.57,229.41 L806.97,228.76 L807.37,228.1 L807.78,227.45 L808.18,226.79 L808.59,226.12 L808.99,225.46 L809.4,224.79 L809.8,224.12 L810.21,223.44 L810.61,222.76 L811.01,222.08 L811.42,221.4 L811.82,220.71 L812.23,220.02 L812.63,219.33 L813.04,218.64 L813.44,217.94 L813.84,217.24 L814.25,216.54 L814.65,215.84 L815.06,215.13 L815.46,214.42 L815.87,213.71 L816.27,213 L816.67,212.29 L817.08,211.57 L817.48,210.85 L817.89,210.14 L818.29,209.41 L818.7,208.69 L819.1,207.97 L819.51,207.24 L819.91,206.51 L820.31,205.79 L820.72,205.06 L821.12,204.32 L821.53,203.59 L821.93,202.86 L822.34,202.12 L822.74,201.39 L823.14,200.65 L823.55,199.91 L823.95,199.17 L824.36,198.43 L824.76,197.69 L825.17,196.95 L825.57,196.2 L825.98,195.46 L826.38,194.72 L826.78,193.97 L827.19,193.23 L827.59,192.48 L828,191.73 L828.4,190.99 L828.81,190.24 L829.21,189.49 L829.62,188.74 L830.02,188 L830.42,187.25 L830.83,186.5 L831.23,185.75 L831.64,185 L832.04,184.25 L832.45,183.5 L832.85,182.75 L833.25,182 L833.66,181.26 L834.06,180.51 L834.47,179.76 L834.87,179.01 L835.28,178.26 L835.68,177.51 L836.09,176.76 L836.49,176.02 L836.89,175.27 L837.3,174.52 L837.7,173.78 L838.11,173.03 L838.51,172.29 L838.92,171.54 L839.32,170.8 L839.72,170.05 L840.13,169.31 L840.53,168.57 L840.94,167.83 L841.34,167.08 L841.75,166.34 L842.15,165.6 L842.55,164.87 L842.96,164.13 L843.36,163.39 L843.77,162.66 L844.17,161.92 L844.58,161.19 L844.98,160.45 L845.39,159.72 L845.79,158.99 L846.19,158.26 L846.6,157.53 L847,156.8 L847.41,156.08 L847.81,155.35 L848.22,154.63 L848.62,153.9 L849.02,153.18 L849.43,152.46 L849.83,151.74 L850.24,151.02 L850.64,150.3 L851.05,149.59 L851.45,148.88 L851.86,148.16 L852.26,147.45 L852.66,146.74 L853.07,146.03 L853.47,145.33 L853.88,144.62 L854.28,143.92 L854.69,143.21 L855.09,142.51 L855.5,141.81 L855.9,141.12 L856.3,140.42 L856.71,139.73 L857.11,139.03 L857.52,138.34 L857.92,137.65 L858.33,136.97 L858.73,136.28 L859.13,135.6 L859.54,134.91 L859.94,134.23 L860.35,133.55 L860.75,132.88 L861.16,132.2 L861.56,131.53 L861.97,130.86 L862.37,130.19 L862.77,129.52 L863.18,128.85 L863.58,128.19 L863.99,127.53 L864.39,126.87 L864.8,126.21 L865.2,125.55 L865.6,124.9 L866.01,124.25 L866.41,123.6 L866.82,122.95 L867.22,122.3 L867.63,121.66 L868.03,121.02 L868.43,120.38 L868.84,119.74 L869.24,119.11 L869.65,118.47 L870.05,117.84 L870.46,117.21 L870.86,116.59 L871.27,115.96 L871.67,115.34 L872.07,114.72 L872.48,114.1 L872.88,113.48 L873.29,112.87 L873.69,112.26 L874.1,111.65 L874.5,111.04 L874.9,110.44 L875.31,109.84 L875.71,109.24 L876.12,108.64 L876.52,108.04 L876.93,107.45 L877.33,106.86 L877.74,106.27 L878.14,105.68 L878.54,105.1 L878.95,104.52 L879.35,103.94 L879.76,103.36 L880.16,102.79 L880.57,102.22 L880.97,101.65 L881.38,101.08 L881.78,100.52 L882.18,99.95 L882.59,99.4 L882.99,98.84 L883.4,98.28 L883.8,97.73 L884.21,97.18 L884.61,96.63 L885.01,96.09 L885.42,95.55 L885.82,95.01 L886.23,94.47 L886.63,93.94 L887.04,93.4 L887.44,92.87 L887.85,92.35 L888.25,91.82 L888.65,91.3 L889.06,90.78 L889.46,90.26 L889.87,89.75 L890.27,89.24 L890.68,88.73 L891.08,88.22 L891.48,87.72 L891.89,87.22 L892.29,86.72 L892.7,86.22 L893.1,85.73 L893.51,85.24 L893.91,84.75 L894.32,84.26 L894.72,83.78 L895.12,83.3 L895.53,82.82 L895.93,82.35 L896.34,81.88 L896.74,81.41 L897.15,80.94 L897.55,80.48 L897.95,80.01 L898.36,79.56 L898.76,79.1 L899.17,78.65 L899.57,78.2 L899.98,77.75 L900.38,77.3 L900.78,76.86 L901.19,76.42 L901.59,75.98 L902,75.55 L902.4,75.12 L902.81,74.69 L903.21,74.26 L903.62,73.84 L904.02,73.42 L904.42,73 L904.83,72.58 L905.23,72.17 L905.64,71.76 L906.04,71.36 L906.45,70.95 L906.85,70.55 L907.25,70.15 L907.66,69.76 L908.06,69.36 L908.47,68.97 L908.87,68.59 L909.28,68.2 L909.68,67.82 L910.09,67.44 L910.49,67.07 L910.89,66.69 L911.3,66.32 L911.7,65.95 L912.11,65.59 L912.51,65.23 L912.92,64.87 L913.32,64.51 L913.73,64.16 L914.13,63.81 L914.53,63.46 L914.94,63.11 L915.34,62.77 L915.75,62.43 L916.15,62.1 L916.56,61.76 L916.96,61.43 L917.36,61.1 L917.77,60.78 L918.17,60.46 L918.58,60.14 L918.98,59.82 L919.39,59.51 L919.79,59.2 L920.19,58.89 L920.6,58.58 L921,58.28 L921.41,57.98 L921.81,57.69 L922.22,57.39 L922.62,57.1 L923.03,56.82 L923.43,56.53 L923.83,56.25 L924.24,55.97 L924.64,55.69 L925.05,55.42 L925.45,55.15 L925.86,54.88 L926.26,54.62 L926.66,54.36 L927.07,54.1 L927.47,53.84 L927.88,53.59 L928.28,53.34 L928.69,53.09 L929.09,52.85 L929.5,52.61 L929.9,52.37 L930.3,52.13 L930.71,51.9 L931.11,51.67 L931.52,51.45 L931.92,51.22 L932.33,51 L932.73,50.78 L933.13,50.57 L933.54,50.36 L933.94,50.15 L934.35,49.94 L934.75,49.74 L935.16,49.54 L935.56,49.34 L935.97,49.15 L936.37,48.96 L936.77,48.77 L937.18,48.58 L937.58,48.4 L937.99,48.22 L938.39,48.04 L938.8,47.87 L939.2,47.7 L939.61,47.53 L940.01,47.37 L940.41,47.21 L940.82,47.05 L941.22,46.89 L941.63,46.74 L942.03,46.59 L942.44,46.44 L942.84,46.3 L943.24,46.16 L943.65,46.02 L944.05,45.88 L944.46,45.75 L944.86,45.62 L945.27,45.49 L945.67,45.37 L946.08,45.25 L946.48,45.13 L946.88,45.02 L947.29,44.91 L947.69,44.8 L948.1,44.69 L948.5,44.59 L948.91,44.49 L949.31,44.39 L949.71,44.3 L950.12,44.21 L950.52,44.12 L950.93,44.04 L951.33,43.95 L951.74,43.88 L952.14,43.8 L952.54,43.73 L952.95,43.66 L953.35,43.59 L953.76,43.53 L954.16,43.46 L954.57,43.41 L954.97,43.35 L955.38,43.3 L955.78,43.25 L956.18,43.2 L956.59,43.16 L956.99,43.12 L957.4,43.08 L957.8,43.05 L958.21,43.02 L958.61,42.99 L959.01,42.96 L959.42,42.94 L959.82,42.92 L960.23,42.91 L960.63,42.89 L961.04,42.88 L961.44,42.88 L961.85,42.87 L962.25,42.87 L962.65,42.87 L963.06,42.88 L963.46,42.88 L963.87,42.89 L964.27,42.91 L964.68,42.92 L965.08,42.94 L965.49,42.96 L965.89,42.99 L966.29,43.02 L966.7,43.05 L967.1,43.08 L967.51,43.12 L967.91,43.16 L968.32,43.2 L968.72,43.25 L969.12,43.3 L969.53,43.35 L969.93,43.41 L970.34,43.46 L970.74,43.53 L971.15,43.59 L971.55,43.66 L971.96,43.73 L972.36,43.8 L972.76,43.88 L973.17,43.95 L973.57,44.04 L973.98,44.12 L974.38,44.21 L974.79,44.3 L975.19,44.39 L975.59,44.49 L976,44.59 L976.4,44.69 L976.81,44.8 L977.21,44.91 L977.62,45.02 L978.02,45.13 L978.42,45.25 L978.83,45.37 L979.23,45.49 L979.64,45.62 L980.04,45.75 L980.45,45.88 L980.85,46.02 L981.26,46.16 L981.66,46.3 L982.06,46.44 L982.47,46.59 L982.87,46.74 L983.28,46.89 L983.68,47.05 L984.09,47.21 L984.49,47.37 L984.89,47.53 L985.3,47.7 L985.7,47.87 L986.11,48.04 L986.51,48.22 L986.92,48.4 L987.32,48.58 L987.73,48.77 L988.13,48.96 L988.53,49.15 L988.94,49.34 L989.34,49.54 L989.75,49.74 L990.15,49.94 L990.56,50.15 L990.96,50.36 L991.37,50.57 L991.77,50.78 L992.17,51 L992.58,51.22 L992.98,51.45 L993.39,51.67 L993.79,51.9 L994.2,52.13 L994.6,52.37 L995,52.61 L995.41,52.85 L995.81,53.09 L996.22,53.34 L996.62,53.59 L997.03,53.84 L997.43,54.1 L997.84,54.36 L998.24,54.62 L998.64,54.88 L999.05,55.15 L999.45,55.42 L999.86,55.69 L1000.26,55.97 L1000.67,56.25 L1001.07,56.53 L1001.47,56.82 L1001.88,57.1 L1002.28,57.39 L1002.69,57.69 L1003.09,57.98 L1003.5,58.28 L1003.9,58.58 L1004.31,58.89 L1004.71,59.2 L1005.11,59.51 L1005.52,59.82 L1005.92,60.14 L1006.33,60.46 L1006.73,60.78 L1007.14,61.1 L1007.54,61.43 L1007.94,61.76 L1008.35,62.1 L1008.75,62.43 L1009.16,62.77 L1009.56,63.11 L1009.97,63.46 L1010.37,63.81 L1010.77,64.16 L1011.18,64.51 L1011.58,64.87 L1011.99,65.23 L1012.39,65.59 L1012.8,65.95 L1013.2,66.32 L1013.61,66.69 L1014.01,67.07 L1014.41,67.44 L1014.82,67.82 L1015.22,68.2 L1015.63,68.59 L1016.03,68.97 L1016.44,69.36 L1016.84,69.76 L1017.25,70.15 L1017.65,70.55 L1018.05,70.95 L1018.46,71.36 L1018.86,71.76 L1019.27,72.17 L1019.67,72.58 L1020.08,73 L1020.48,73.42 L1020.88,73.84 L1021.29,74.26 L1021.69,74.69 L1022.1,75.12 L1022.5,75.55 L1022.91,75.98 L1023.31,76.42 L1023.71,76.86 L1024.12,77.3 L1024.52,77.75 L1024.93,78.2 L1025.33,78.65 L1025.74,79.1 L1026.14,79.56 L1026.55,80.01 L1026.95,80.48 L1027.35,80.94 L1027.76,81.41 L1028.16,81.88 L1028.57,82.35 L1028.97,82.82 L1029.38,83.3 L1029.78,83.78 L1030.18,84.26 L1030.59,84.75 L1030.99,85.24 L1031.4,85.73 L1031.8,86.22 L1032.21,86.72 L1032.61,87.22 L1033.02,87.72 L1033.42,88.22 L1033.82,88.73 L1034.23,89.24 L1034.63,89.75 L1035.04,90.26 L1035.44,90.78 L1035.85,91.3 L1036.25,91.82 L1036.65,92.35 L1037.06,92.87 L1037.46,93.4 L1037.87,93.94 L1038.27,94.47 L1038.68,95.01 L1039.08,95.55 L1039.49,96.09 L1039.89,96.63 L1040.29,97.18 L1040.7,97.73 L1041.1,98.28 L1041.51,98.84 L1041.91,99.4 L1042.32,99.95 L1042.72,100.52 L1043.12,101.08 L1043.53,101.65 L1043.93,102.22 L1044.34,102.79 L1044.74,103.36 L1045.15,103.94 L1045.55,104.52 L1045.96,105.1 L1046.36,105.68 L1046.76,106.27 L1047.17,106.86 L1047.57,107.45 L1047.98,108.04 L1048.38,108.64 L1048.79,109.24 L1049.19,109.84 L1049.6,110.44 L1050,111.04 L1050.4,111.65 L1050.81,112.26 L1051.21,112.87 L1051.62,113.48 L1052.02,114.1 L1052.43,114.72 L1052.83,115.34 L1053.23,115.96 L1053.64,116.59 L1054.04,117.21 L1054.45,117.84 L1054.85,118.47 L1055.26,119.11 L1055.66,119.74 L1056.07,120.38 L1056.47,121.02 L1056.87,121.66 L1057.28,122.3 L1057.68,122.95 L1058.09,123.6 L1058.49,124.25 L1058.9,124.9 L1059.3,125.55 L1059.7,126.21 L1060.11,126.87 L1060.51,127.53 L1060.92,128.19 L1061.32,128.85 L1061.73,129.52 L1062.13,130.19 L1062.54,130.86 L1062.94,131.53 L1063.34,132.2 L1063.75,132.88 L1064.15,133.55 L1064.56,134.23 L1064.96,134.91 L1065.37,135.6 L1065.77,136.28 L1066.17,136.97 L1066.58,137.65 L1066.98,138.34 L1067.39,139.03 L1067.79,139.73 L1068.2,140.42 L1068.6,141.12 L1069.01,141.81 L1069.41,142.51 L1069.81,143.21 L1070.22,143.92 L1070.62,144.62 L1071.03,145.33 L1071.43,146.03 L1071.84,146.74 L1072.24,147.45 L1072.64,148.16 L1073.05,148.88 L1073.45,149.59 L1073.86,150.3 L1074.26,151.02 L1074.67,151.74 L1075.07,152.46 L1075.47,153.18 L1075.88,153.9 L1076.28,154.63 L1076.69,155.35 L1077.09,156.08 L1077.5,156.8 L1077.9,157.53 L1078.31,158.26 L1078.71,158.99 L1079.11,159.72 L1079.52,160.45 L1079.92,161.19 L1080.33,161.92 L1080.73,162.66 L1081.14,163.39 L1081.54,164.13 L1081.94,164.87 L1082.35,165.6 L1082.75,166.34 L1083.16,167.08 L1083.56,167.83 L1083.97,168.57 L1084.37,169.31 L1084.78,170.05 L1085.18,170.8 L1085.58,171.54 L1085.99,172.29 L1086.39,173.03 L1086.8,173.78 L1087.2,174.52 L1087.61,175.27 L1088.01,176.02 L1088.41,176.76 L1088.82,177.51 L1089.22,178.26 L1089.63,179.01 L1090.03,179.76 L1090.44,180.51 L1090.84,181.26 L1091.25,182 L1091.65,182.75 L1092.05,183.5 L1092.46,184.25 L1092.86,185 L1093.27,185.75 L1093.67,186.5 L1094.08,187.25 L1094.48,188 L1094.88,188.74 L1095.29,189.49 L1095.69,190.24 L1096.1,190.99 L1096.5,191.73 L1096.91,192.48 L1097.31,193.23 L1097.72,193.97 L1098.12,194.72 L1098.52,195.46 L1098.93,196.2 L1099.33,196.95 L1099.74,197.69 L1100.14,198.43 L1100.55,199.17 L1100.95,199.91 L1101.36,200.65 L1101.76,201.39 L1102.16,202.12 L1102.57,202.86 L1102.97,203.59 L1103.38,204.32 L1103.78,205.06 L1104.19,205.79 L1104.59,206.51 L1104.99,207.24 L1105.4,207.97 L1105.8,208.69 L1106.21,209.41 L1106.61,210.14 L1107.02,210.85 L1107.42,211.57 L1107.83,212.29 L1108.23,213 L1108.63,213.71 L1109.04,214.42 L1109.44,215.13 L1109.85,215.84 L1110.25,216.54 L1110.66,217.24 L1111.06,217.94 L1111.46,218.64 L1111.87,219.33 L1112.27,220.02 L1112.68,220.71 L1113.08,221.4 L1113.49,222.08 L1113.89,222.76 L1114.3,223.44 L1114.7,224.12 L1115.1,224.79 L1115.51,225.46 L1115.91,226.12 L1116.32,226.79 L1116.72,227.45 L1117.13,228.1 L1117.53,228.76 L1117.93,229.41 L1118.34,230.05 L1118.74,230.69 L1119.15,231.33 L1119.55,231.97 L1119.96,232.6 L1120.36,233.23 L1120.76,233.85 L1121.17,234.47 L1121.57,235.09 L1121.98,235.7 L1122.38,236.31 L1122.79,236.91 L1123.19,237.51 L1123.6,238.1 L1124,238.69" stroke="#d42a22" stroke-width="1.8" fill="none" stroke-dasharray="5.5 3" clip-path="url(#cc)" stroke-linejoin="round" />
<rect x="800.5" y="33.3" width="323.5" height="234" fill="none" stroke="#1a1a1a" stroke-width="1.3"/>
<path d="M798,33.3H803M798,72.3H803M798,111.3H803M798,150.3H803M798,189.3H803M798,228.3H803M798,267.3H803M800.5,259.5H802.7M800.5,251.7H802.7M800.5,243.9H802.7M800.5,236.1H802.7M800.5,220.5H802.7M800.5,212.7H802.7M800.5,204.9H802.7M800.5,197.1H802.7M800.5,181.5H802.7M800.5,173.7H802.7M800.5,165.9H802.7M800.5,158.1H802.7M800.5,142.5H802.7M800.5,134.7H802.7M800.5,126.9H802.7M800.5,119.1H802.7M800.5,103.5H802.7M800.5,95.7H802.7M800.5,87.9H802.7M800.5,80.1H802.7M800.5,64.5H802.7M800.5,56.7H802.7M800.5,48.9H802.7M800.5,41.1H802.7" stroke="#1a1a1a" stroke-width="1.1" fill="none"/>
<path d="M800.5,269.8V267.3M865.2,269.8V267.3M929.9,269.8V267.3M994.6,269.8V267.3M1059.3,269.8V267.3M1124,269.8V267.3M813.44,269.5V267.3M826.38,269.5V267.3M839.32,269.5V267.3M852.26,269.5V267.3M878.14,269.5V267.3M891.08,269.5V267.3M904.02,269.5V267.3M916.96,269.5V267.3M942.84,269.5V267.3M955.78,269.5V267.3M968.72,269.5V267.3M981.66,269.5V267.3M1007.54,269.5V267.3M1020.48,269.5V267.3M1033.42,269.5V267.3M1046.36,269.5V267.3M1072.24,269.5V267.3M1085.18,269.5V267.3M1098.12,269.5V267.3M1111.06,269.5V267.3" stroke="#1a1a1a" stroke-width="1.1" fill="none"/>
<text x="797" y="38.3" font-size="14.3" text-anchor="end" fill="#000" >10</text>
<text x="797" y="77.3" font-size="14.3" text-anchor="end" fill="#000" >5</text>
<text x="797" y="116.3" font-size="14.3" text-anchor="end" fill="#000" >0</text>
<text x="797" y="155.3" font-size="14.3" text-anchor="end" fill="#000" >-5</text>
<text x="797" y="194.3" font-size="14.3" text-anchor="end" fill="#000" >-10</text>
<text x="797" y="233.3" font-size="14.3" text-anchor="end" fill="#000" >-15</text>
<text x="797" y="272.3" font-size="14.3" text-anchor="end" fill="#000" >-20</text>
<text x="800.5" y="283.4" font-size="14.3" text-anchor="middle" fill="#000" >-50</text>
<text x="865.2" y="283.4" font-size="14.3" text-anchor="middle" fill="#000" >-30</text>
<text x="929.9" y="283.4" font-size="14.3" text-anchor="middle" fill="#000" >-10</text>
<text x="994.6" y="283.4" font-size="14.3" text-anchor="middle" fill="#000" >10</text>
<text x="1059.3" y="283.4" font-size="14.3" text-anchor="middle" fill="#000" >30</text>
<text x="1124" y="283.4" font-size="14.3" text-anchor="middle" fill="#000" >50</text>
<text x="963.05" y="296.6" font-size="13" text-anchor="middle" fill="#000" letter-spacing="0.8">Distance from the centre of pegmatite (m)</text>
<text x="0" y="0" font-size="13.5" text-anchor="middle" textLength="50" lengthAdjust="spacingAndGlyphs" transform="translate(776.1,149.75) rotate(-90)"><tspan font-family="&apos;Liberation Serif&apos;, serif">δ</tspan><tspan font-size="8" dy="-5">7</tspan><tspan dy="5">Li (‰)</tspan></text>
<text x="780" y="14.2" font-size="18" textLength="22.7" lengthAdjust="spacingAndGlyphs">(c)</text>
<text x="809" y="67" font-size="14" fill="#222" textLength="42.3" lengthAdjust="spacingAndGlyphs"><tspan font-style="italic">β</tspan> = 0.1</text>
<rect x="442.9" y="239.3" width="32.1" height="10.1" fill="#e8767f"/>
<rect x="598.2" y="239.9" width="32.4" height="10.3" fill="#f8ca80"/>
<text x="479.3" y="241.3" font-size="12.7" text-anchor="start" fill="#222" >Spodumene-bearing</text>
<text x="479.3" y="253.7" font-size="12.7" text-anchor="start" fill="#222" >pegmatite</text>
<text x="637" y="242.2" font-size="12.7" text-anchor="start" fill="#222" >Spodumene-absent</text>
<text x="637" y="255.1" font-size="12.7" text-anchor="start" fill="#222" >pegmatite</text>
<text x="30.3" y="328.8" font-size="18" textLength="22.8" lengthAdjust="spacingAndGlyphs">(d)</text>
<rect x="57.9" y="353.1" width="271.3" height="228.5" fill="url(#gda)"/>
<path d="M57.9,417.8H329.2" stroke="#303050" stroke-width="1.3" stroke-dasharray="2.2 1.5"/>
<path d="M57.9,506.1H329.2" stroke="#303050" stroke-width="1.3" stroke-dasharray="2.2 1.5"/>
<path d="M56.4,375.5H61.4M56.4,407.5H61.4M56.4,439.4H61.4M56.4,471.1H61.4M56.4,502.9H61.4M56.4,534.6H61.4M56.4,566.6H61.4" stroke="#222" stroke-width="1"/>
<text x="56.7" y="379.5" font-size="11.2" text-anchor="end" fill="#111" textLength="17.6" lengthAdjust="spacingAndGlyphs" >200</text>
<text x="56.7" y="411.5" font-size="11.2" text-anchor="end" fill="#111" textLength="17.6" lengthAdjust="spacingAndGlyphs" >200</text>
<text x="56.7" y="443.4" font-size="11.2" text-anchor="end" fill="#111" textLength="17.6" lengthAdjust="spacingAndGlyphs" >750</text>
<text x="56.7" y="475.1" font-size="11.2" text-anchor="end" fill="#111" textLength="17.6" lengthAdjust="spacingAndGlyphs" >750</text>
<text x="56.7" y="506.9" font-size="11.2" text-anchor="end" fill="#111" textLength="17.6" lengthAdjust="spacingAndGlyphs" >750</text>
<text x="56.7" y="538.6" font-size="11.2" text-anchor="end" fill="#111" textLength="17.6" lengthAdjust="spacingAndGlyphs" >200</text>
<text x="56.7" y="570.6" font-size="11.2" text-anchor="end" fill="#111" textLength="17.6" lengthAdjust="spacingAndGlyphs" >200</text>
<text x="31.9" y="347.6" font-size="11.5" fill="#111" textLength="32" lengthAdjust="spacingAndGlyphs"><tspan font-style="italic">T</tspan> (°C)</text>
<text x="66.5" y="369.8" font-size="12.5" text-anchor="start" fill="#111" textLength="17.6" lengthAdjust="spacingAndGlyphs" >(a)</text>
<text x="189.9" y="369.1" font-size="10.8" fill="#111" textLength="20.3" lengthAdjust="spacingAndGlyphs"><tspan font-style="italic">t</tspan> = 0</text>
<text x="200" y="401.1" font-size="13" text-anchor="middle" fill="#111" textLength="84.7" lengthAdjust="spacingAndGlyphs" >Country rocks</text>
<text x="199.3" y="468.2" font-size="13" text-anchor="middle" fill="#111" textLength="138.9" lengthAdjust="spacingAndGlyphs" >Pegmatite dike (distal)</text>
<text x="200" y="552.2" font-size="13" text-anchor="middle" fill="#111" textLength="84.7" lengthAdjust="spacingAndGlyphs" >Country rocks</text>
<defs><linearGradient id="gda" x1="0" y1="0" x2="0" y2="1"><stop offset="0" stop-color="#00ffff"/><stop offset="0.28" stop-color="#00ffff"/><stop offset="0.28" stop-color="#ff0000"/><stop offset="0.67" stop-color="#ff0000"/><stop offset="0.67" stop-color="#00ffff"/><stop offset="1" stop-color="#00ffff"/></linearGradient></defs>
<defs><linearGradient id="gdb" x1="0" y1="0" x2="0" y2="1"><stop offset="0" stop-color="#00f2e0"/><stop offset="0.06" stop-color="#00f088"/><stop offset="0.11" stop-color="#00ec10"/><stop offset="0.14" stop-color="#10ec00"/><stop offset="0.17" stop-color="#70e400"/><stop offset="0.21" stop-color="#d0f000"/><stop offset="0.24" stop-color="#ffff00"/><stop offset="0.26" stop-color="#ffc800"/><stop offset="0.29" stop-color="#ffa000"/><stop offset="0.35" stop-color="#ff8c00"/><stop offset="0.62" stop-color="#ff8c00"/><stop offset="0.68" stop-color="#ffa200"/><stop offset="0.72" stop-color="#ffe000"/><stop offset="0.74" stop-color="#ffff00"/><stop offset="0.79" stop-color="#c0f000"/><stop offset="0.84" stop-color="#60e800"/><stop offset="0.9" stop-color="#18e800"/><stop offset="1" stop-color="#00e800"/></linearGradient></defs>
<rect x="373.9" y="353" width="272" height="228.8" fill="url(#gdb)"/>
<path d="M373.9,417.9H645.9" stroke="#303050" stroke-width="1.3" stroke-dasharray="2.2 1.5"/>
<path d="M373.9,506.2H645.9" stroke="#303050" stroke-width="1.3" stroke-dasharray="2.2 1.5"/>
<path d="M372.4,375.5H377.4M372.4,407.5H377.4M372.4,439.4H377.4M372.4,471.1H377.4M372.4,502.9H377.4M372.4,534.6H377.4M372.4,566.6H377.4" stroke="#222" stroke-width="1"/>
<text x="372.7" y="379.5" font-size="11.2" text-anchor="end" fill="#111" textLength="17.6" lengthAdjust="spacingAndGlyphs" >317</text>
<text x="372.7" y="411.5" font-size="11.2" text-anchor="end" fill="#111" textLength="17.6" lengthAdjust="spacingAndGlyphs" >465</text>
<text x="372.7" y="443.4" font-size="11.2" text-anchor="end" fill="#111" textLength="17.6" lengthAdjust="spacingAndGlyphs" >526</text>
<text x="372.7" y="475.1" font-size="11.2" text-anchor="end" fill="#111" textLength="17.6" lengthAdjust="spacingAndGlyphs" >535</text>
<text x="372.7" y="506.9" font-size="11.2" text-anchor="end" fill="#111" textLength="17.6" lengthAdjust="spacingAndGlyphs" >523</text>
<text x="372.7" y="538.6" font-size="11.2" text-anchor="end" fill="#111" textLength="17.6" lengthAdjust="spacingAndGlyphs" >434</text>
<text x="372.7" y="570.6" font-size="11.2" text-anchor="end" fill="#111" textLength="17.6" lengthAdjust="spacingAndGlyphs" >360</text>
<text x="347.9" y="347.5" font-size="11.5" fill="#111" textLength="32" lengthAdjust="spacingAndGlyphs"><tspan font-style="italic">T</tspan> (°C)</text>
<text x="384.6" y="369.6" font-size="12.5" text-anchor="start" fill="#111" textLength="16.5" lengthAdjust="spacingAndGlyphs" >(b)</text>
<text x="489.9" y="366.6" font-size="10" fill="#111" textLength="55" lengthAdjust="spacingAndGlyphs"><tspan font-style="italic">t</tspan> = 50 days</text>
<rect x="54.9" y="611.1" width="271.9" height="228.5" fill="url(#gdd)"/>
<path d="M54.9,676.9H326.8" stroke="#303050" stroke-width="1.3" stroke-dasharray="2.2 1.5"/>
<path d="M54.9,765.4H326.8" stroke="#303050" stroke-width="1.3" stroke-dasharray="2.2 1.5"/>
<path d="M53.4,635H58.4M53.4,666.9H58.4M53.4,698.6H58.4M53.4,730.1H58.4M53.4,762H58.4M53.4,793.6H58.4M53.4,825.7H58.4" stroke="#222" stroke-width="1"/>
<text x="53.7" y="639" font-size="11.2" text-anchor="end" fill="#111" textLength="17.6" lengthAdjust="spacingAndGlyphs" >300</text>
<text x="53.7" y="670.9" font-size="11.2" text-anchor="end" fill="#111" textLength="17.6" lengthAdjust="spacingAndGlyphs" >300</text>
<text x="53.7" y="702.6" font-size="11.2" text-anchor="end" fill="#111" textLength="17.6" lengthAdjust="spacingAndGlyphs" >750</text>
<text x="53.7" y="734.1" font-size="11.2" text-anchor="end" fill="#111" textLength="17.6" lengthAdjust="spacingAndGlyphs" >750</text>
<text x="53.7" y="766" font-size="11.2" text-anchor="end" fill="#111" textLength="17.6" lengthAdjust="spacingAndGlyphs" >750</text>
<text x="53.7" y="797.6" font-size="11.2" text-anchor="end" fill="#111" textLength="17.6" lengthAdjust="spacingAndGlyphs" >300</text>
<text x="53.7" y="829.7" font-size="11.2" text-anchor="end" fill="#111" textLength="17.6" lengthAdjust="spacingAndGlyphs" >300</text>
<text x="28.9" y="607.1" font-size="11.5" fill="#111" textLength="32" lengthAdjust="spacingAndGlyphs"><tspan font-style="italic">T</tspan> (°C)</text>
<text x="62.8" y="626.7" font-size="12.5" text-anchor="start" fill="#111" textLength="16.3" lengthAdjust="spacingAndGlyphs" >(d)</text>
<text x="189.5" y="627.1" font-size="10.8" fill="#111" textLength="20.4" lengthAdjust="spacingAndGlyphs"><tspan font-style="italic">t</tspan> = 0</text>
<text x="199.9" y="658.6" font-size="13" text-anchor="middle" fill="#111" textLength="84.9" lengthAdjust="spacingAndGlyphs" >Country rocks</text>
<text x="199.8" y="726.5" font-size="13" text-anchor="middle" fill="#111" textLength="159.5" lengthAdjust="spacingAndGlyphs" >Pegmatite dike (adjacent)</text>
<text x="199.9" y="809" font-size="13" text-anchor="middle" fill="#111" textLength="84.9" lengthAdjust="spacingAndGlyphs" >Country rocks</text>
<defs><linearGradient id="gdd" x1="0" y1="0" x2="0" y2="1"><stop offset="0" stop-color="#00ff35"/><stop offset="0.29" stop-color="#00ff35"/><stop offset="0.29" stop-color="#ff0000"/><stop offset="0.67" stop-color="#ff0000"/><stop offset="0.67" stop-color="#00ff35"/><stop offset="1" stop-color="#00ff35"/></linearGradient></defs>
<defs><linearGradient id="gde" x1="0" y1="0" x2="0" y2="1"><stop offset="0" stop-color="#00f838"/><stop offset="0.02" stop-color="#20f010"/><stop offset="0.06" stop-color="#60f000"/><stop offset="0.11" stop-color="#c0f000"/><stop offset="0.16" stop-color="#ffff00"/><stop offset="0.18" stop-color="#ffd000"/><stop offset="0.21" stop-color="#ffa000"/><stop offset="0.24" stop-color="#ff6400"/><stop offset="0.27" stop-color="#ff2800"/><stop offset="0.3" stop-color="#ff0000"/><stop offset="0.67" stop-color="#ff0000"/><stop offset="0.71" stop-color="#ff3000"/><stop offset="0.76" stop-color="#ff8000"/><stop offset="0.8" stop-color="#ffd000"/><stop offset="0.84" stop-color="#ffff00"/><stop offset="0.91" stop-color="#c0f000"/><stop offset="1" stop-color="#80f000"/></linearGradient></defs>
<rect x="374" y="611.1" width="271.9" height="228.8" fill="url(#gde)"/>
<path d="M374,677.1H645.9" stroke="#404080" stroke-width="1.3" stroke-dasharray="2.2 1.5"/>
<path d="M374,765.4H645.9" stroke="#404080" stroke-width="1.3" stroke-dasharray="2.2 1.5"/>
<path d="M372.5,635H377.5M372.5,666.9H377.5M372.5,698.6H377.5M372.5,730.1H377.5M372.5,762H377.5M372.5,793.6H377.5M372.5,825.7H377.5" stroke="#222" stroke-width="1"/>
<text x="372.8" y="639" font-size="11.2" text-anchor="end" fill="#111" textLength="17.6" lengthAdjust="spacingAndGlyphs" >409</text>
<text x="372.8" y="670.9" font-size="11.2" text-anchor="end" fill="#111" textLength="17.6" lengthAdjust="spacingAndGlyphs" >544</text>
<text x="372.8" y="702.6" font-size="11.2" text-anchor="end" fill="#111" textLength="17.6" lengthAdjust="spacingAndGlyphs" >596</text>
<text x="372.8" y="734.1" font-size="11.2" text-anchor="end" fill="#111" textLength="17.6" lengthAdjust="spacingAndGlyphs" >602</text>
<text x="372.8" y="766" font-size="11.2" text-anchor="end" fill="#111" textLength="17.6" lengthAdjust="spacingAndGlyphs" >591</text>
<text x="372.8" y="797.6" font-size="11.2" text-anchor="end" fill="#111" textLength="17.6" lengthAdjust="spacingAndGlyphs" >504</text>
<text x="372.8" y="829.7" font-size="11.2" text-anchor="end" fill="#111" textLength="17.6" lengthAdjust="spacingAndGlyphs" >430</text>
<text x="348" y="607.1" font-size="11.5" fill="#111" textLength="32" lengthAdjust="spacingAndGlyphs"><tspan font-style="italic">T</tspan> (°C)</text>
<text x="381" y="626.5" font-size="12.5" text-anchor="start" fill="#111" textLength="17" lengthAdjust="spacingAndGlyphs" >(e)</text>
<text x="495.9" y="624.7" font-size="10" fill="#111" textLength="54.3" lengthAdjust="spacingAndGlyphs"><tspan font-style="italic">t</tspan> = 50 days</text>
<defs><linearGradient id="gcb" x1="0" y1="0" x2="1" y2="0"><stop offset="0" stop-color="#262a48"/><stop offset="0.05" stop-color="#1a2070"/><stop offset="0.1" stop-color="#0010b0"/><stop offset="0.16" stop-color="#1a40e0"/><stop offset="0.2" stop-color="#4060f0"/><stop offset="0.24" stop-color="#2a8cf0"/><stop offset="0.32" stop-color="#00e0f0"/><stop offset="0.39" stop-color="#20f0c0"/><stop offset="0.44" stop-color="#40e880"/><stop offset="0.48" stop-color="#40e040"/><stop offset="0.56" stop-color="#00f000"/><stop offset="0.63" stop-color="#10e000"/><stop offset="0.68" stop-color="#40c820"/><stop offset="0.73" stop-color="#c0e020"/><stop offset="0.79" stop-color="#f8e820"/><stop offset="0.85" stop-color="#f0a030"/><stop offset="0.91" stop-color="#f06030"/><stop offset="1" stop-color="#e02020"/></linearGradient></defs>
<rect x="126.8" y="848.1" width="437.5" height="12.5" fill="url(#gcb)" stroke="#111" stroke-width="0.8"/>
<path d="M162.16,860.6V857.4M197.53,860.6V857.4M232.89,860.6V857.4M268.26,860.6V857.4M303.62,860.6V857.4M338.99,860.6V857.4M374.36,860.6V857.4M409.72,860.6V857.4M445.09,860.6V857.4M480.45,860.6V857.4M515.82,860.6V857.4" stroke="#111" stroke-width="1"/>
<text x="126.6" y="872.5" font-size="13" text-anchor="middle" fill="#000" >0</text>
<text x="196.9" y="872.5" font-size="13" text-anchor="middle" fill="#000" >100</text>
<text x="267.5" y="872.5" font-size="13" text-anchor="middle" fill="#000" >200</text>
<text x="338.2" y="872.5" font-size="13" text-anchor="middle" fill="#000" >300</text>
<text x="408.8" y="872.5" font-size="13" text-anchor="middle" fill="#000" >400</text>
<text x="480" y="872.5" font-size="13" text-anchor="middle" fill="#000" >500</text>
<text x="563.8" y="872.5" font-size="13" text-anchor="middle" fill="#000" >600</text>
<text x="339.1" y="883.5" font-size="12" text-anchor="middle" fill="#111" textLength="105" lengthAdjust="spacingAndGlyphs" >Temperature (°C)</text>
<text x="715.1" y="339.8" font-size="18" textLength="22.7" lengthAdjust="spacingAndGlyphs">(e)</text>
<rect x="1041.8" y="427.2" width="8.3" height="42.4" fill="#f8ca80"/>
<rect x="1041.8" y="487.3" width="8.3" height="38.3" fill="#e8767f"/>
<path d="M745.8,581.8 L746.42,567.2 L747.04,559.23 L747.65,552.84 L748.27,547.35 L748.89,542.48 L749.51,538.07 L750.13,534.02 L750.74,530.27 L751.36,526.77 L751.98,523.48 L752.6,520.38 L755.14,509.19 L757.68,499.85 L760.22,491.85 L762.76,484.86 L765.3,478.68 L767.84,473.16 L770.37,468.19 L772.91,463.68 L775.45,459.57 L777.99,455.81 L780.53,452.36 L783.07,449.17 L785.61,446.22 L788.15,443.49 L790.69,440.94 L793.23,438.57 L795.77,436.36 L798.31,434.29 L800.85,432.36 L803.39,430.54 L805.93,428.83 L808.47,427.22 L811.01,425.71 L813.55,424.28 L816.09,422.93 L818.63,421.66 L821.16,420.45 L823.7,419.31 L826.24,418.23 L828.78,417.2 L831.32,416.23 L833.86,415.3 L836.4,414.43 L838.94,413.59 L841.48,412.79 L844.02,412.04 L846.56,411.31 L849.1,410.63 L851.64,409.97 L854.18,409.34 L856.72,408.75 L859.26,408.17 L861.8,407.63 L864.34,407.11 L866.88,406.61 L869.42,406.13 L871.96,405.67 L874.49,405.23 L877.03,404.81 L879.57,404.41 L882.11,404.02 L884.65,403.65 L887.19,403.3 L889.73,402.96 L892.27,402.63 L894.81,402.31 L897.35,402.01 L899.89,401.72 L902.43,401.44 L904.97,401.17 L907.51,400.92 L910.05,400.67 L912.59,400.43 L915.13,400.2 L917.67,399.98 L920.21,399.76 L922.75,399.56 L925.28,399.36 L927.82,399.17 L930.36,398.99 L932.9,398.81 L935.44,398.64 L937.98,398.47 L940.52,398.32 L943.06,398.16 L945.6,398.01 L948.14,397.87 L950.68,397.73 L953.22,397.6 L955.76,397.47 L958.3,397.35 L960.84,397.23 L963.38,397.11 L965.92,397 L968.46,396.89 L971,396.79 L973.54,396.69 L976.08,396.59 L978.61,396.49 L981.15,396.4 L983.69,396.31 L986.23,396.23 L988.77,396.14 L991.31,396.06 L993.85,395.99 L996.39,395.91 L998.93,395.84 L1001.47,395.77 L1004.01,395.7 L1006.55,395.63 L1009.09,395.57 L1011.63,395.51 L1014.17,395.45 L1016.71,395.39 L1019.25,395.33 L1021.79,395.28 L1024.33,395.22 L1026.87,395.17 L1029.4,395.12 L1031.94,395.07 L1034.48,395.03 L1037.02,394.98 L1039.56,394.94 L1042.1,394.89 L1044.64,394.85 L1047.18,394.81 L1049.72,394.77 L1052.26,394.74 L1054.8,394.7" stroke="#0f1f45" stroke-width="2.0" fill="none"/>
<path d="M745.8,390.16 L745.8,371.67 L746.42,372.07 L747.04,372.48 L747.65,372.89 L748.27,373.31 L748.89,373.73 L749.51,374.16 L750.13,374.59 L750.74,375.03 L751.36,375.47 L751.98,375.91 L752.6,376.36 L755.14,378.25 L757.68,380.19 L760.22,382.18 L762.76,384.22 L765.3,386.28 L767.84,388.36 L770.37,390.46 L772.91,392.56 L775.45,394.65 L777.99,396.72 L780.53,398.77 L783.07,400.79 L785.61,402.77 L788.15,404.73 L790.69,406.64 L793.23,408.52 L795.77,410.37 L798.31,412.17 L800.85,413.94 L803.39,415.66 L805.93,417.34 L808.47,418.98 L811.01,420.57 L813.55,422.11 L816.09,423.61 L818.63,425.06 L821.16,426.46 L823.7,427.82 L826.24,429.14 L828.78,430.41 L831.32,431.64 L833.86,432.83 L836.4,433.99 L838.94,435.11 L841.48,436.19 L844.02,437.24 L846.56,438.26 L849.1,439.26 L851.64,440.22 L854.18,441.15 L856.72,442.07 L859.26,442.95 L861.8,443.82 L864.34,444.66 L866.88,445.49 L869.42,446.3 L871.96,447.09 L874.49,447.87 L877.03,448.63 L879.57,449.38 L882.11,450.12 L884.65,450.84 L887.19,451.54 L889.73,452.24 L892.27,452.92 L894.81,453.58 L897.35,454.23 L899.89,454.87 L902.43,455.5 L904.97,456.11 L907.51,456.71 L910.05,457.3 L912.59,457.87 L915.13,458.43 L917.67,458.98 L920.21,459.51 L922.75,460.04 L925.28,460.55 L927.82,461.05 L930.36,461.54 L932.9,462.01 L935.44,462.48 L937.98,462.93 L940.52,463.37 L943.06,463.8 L945.6,464.22 L948.14,464.62 L950.68,465.02 L953.22,465.4 L955.76,465.78 L958.3,466.14 L960.84,466.49 L963.38,466.83 L965.92,467.16 L968.46,467.49 L971,467.8 L973.54,468.1 L976.08,468.39 L978.61,468.67 L981.15,468.94 L983.69,469.21 L986.23,469.46 L988.77,469.7 L991.31,469.94 L993.85,470.16 L996.39,470.38 L998.93,470.59 L1001.47,470.78 L1004.01,470.97 L1006.55,471.16 L1009.09,471.33 L1011.63,471.49 L1014.17,471.65 L1016.71,471.8 L1019.25,471.94 L1021.79,472.07 L1024.33,472.2 L1026.87,472.32 L1029.4,472.43 L1031.94,472.53 L1034.48,472.62 L1037.02,472.71 L1039.56,472.79 L1042.1,472.87 L1044.64,472.94 L1047.18,473 L1049.72,473.05 L1052.26,473.1 L1054.8,473.14" stroke="#2bb0dc" stroke-width="2.0" fill="none"/>
<path d="M745.8,432.17 L745.8,423.71 L746.42,424 L747.04,424.29 L747.65,424.57 L748.27,424.86 L748.89,425.14 L749.51,425.42 L750.13,425.7 L750.74,425.98 L751.36,426.26 L751.98,426.54 L752.6,426.82 L755.14,427.94 L757.68,429.05 L760.22,430.13 L762.76,431.2 L765.3,432.25 L767.84,433.29 L770.37,434.3 L772.91,435.3 L775.45,436.28 L777.99,437.24 L780.53,438.19 L783.07,439.12 L785.61,440.03 L788.15,440.92 L790.69,441.8 L793.23,442.67 L795.77,443.51 L798.31,444.34 L800.85,445.16 L803.39,445.96 L805.93,446.74 L808.47,447.51 L811.01,448.26 L813.55,449 L816.09,449.72 L818.63,450.43 L821.16,451.13 L823.7,451.81 L826.24,452.47 L828.78,453.12 L831.32,453.76 L833.86,454.39 L836.4,455 L838.94,455.59 L841.48,456.18 L844.02,456.75 L846.56,457.31 L849.1,457.85 L851.64,458.38 L854.18,458.9 L856.72,459.41 L859.26,459.91 L861.8,460.39 L864.34,460.87 L866.88,461.33 L869.42,461.78 L871.96,462.21 L874.49,462.64 L877.03,463.06 L879.57,463.46 L882.11,463.86 L884.65,464.24 L887.19,464.62 L889.73,464.98 L892.27,465.33 L894.81,465.68 L897.35,466.01 L899.89,466.34 L902.43,466.65 L904.97,466.96 L907.51,467.26 L910.05,467.55 L912.59,467.83 L915.13,468.1 L917.67,468.36 L920.21,468.62 L922.75,468.87 L925.28,469.11 L927.82,469.34 L930.36,469.56 L932.9,469.78 L935.44,469.99 L937.98,470.19 L940.52,470.39 L943.06,470.58 L945.6,470.76 L948.14,470.93 L950.68,471.1 L953.22,471.27 L955.76,471.43 L958.3,471.58 L960.84,471.73 L963.38,471.87 L965.92,472 L968.46,472.13 L971,472.26 L973.54,472.38 L976.08,472.5 L978.61,472.61 L981.15,472.72 L983.69,472.82 L986.23,472.92 L988.77,473.02 L991.31,473.11 L993.85,473.2 L996.39,473.29 L998.93,473.37 L1001.47,473.45 L1004.01,473.53 L1006.55,473.6 L1009.09,473.67 L1011.63,473.74 L1014.17,473.81 L1016.71,473.88 L1019.25,473.94 L1021.79,474 L1024.33,474.06 L1026.87,474.12 L1029.4,474.18 L1031.94,474.24 L1034.48,474.29 L1037.02,474.35 L1039.56,474.4 L1042.1,474.46 L1044.64,474.51 L1047.18,474.57 L1049.72,474.62 L1052.26,474.68 L1054.8,474.73" stroke="#c21ec8" stroke-width="2.0" fill="none"/>
<rect x="745.8" y="357" width="309" height="224.8" fill="none" stroke="#1a1a1a" stroke-width="1.3"/>
<path d="M743.3,581.8H748.3M743.3,544.33H748.3M743.3,506.87H748.3M743.3,469.4H748.3M743.3,431.93H748.3M743.3,394.47H748.3M743.3,357H748.3M745.8,574.31H748M745.8,566.81H748M745.8,559.32H748M745.8,551.83H748M745.8,536.84H748M745.8,529.35H748M745.8,521.85H748M745.8,514.36H748M745.8,499.37H748M745.8,491.88H748M745.8,484.39H748M745.8,476.89H748M745.8,461.91H748M745.8,454.41H748M745.8,446.92H748M745.8,439.43H748M745.8,424.44H748M745.8,416.95H748M745.8,409.45H748M745.8,401.96H748M745.8,386.97H748M745.8,379.48H748M745.8,371.99H748M745.8,364.49H748" stroke="#1a1a1a" stroke-width="1.1" fill="none"/>
<path d="M1057.3,357H1052.3M1057.3,413.2H1052.3M1057.3,469.4H1052.3M1057.3,525.6H1052.3M1057.3,581.8H1052.3M1054.8,570.56H1052.6M1054.8,559.32H1052.6M1054.8,548.08H1052.6M1054.8,536.84H1052.6M1054.8,514.36H1052.6M1054.8,503.12H1052.6M1054.8,491.88H1052.6M1054.8,480.64H1052.6M1054.8,458.16H1052.6M1054.8,446.92H1052.6M1054.8,435.68H1052.6M1054.8,424.44H1052.6M1054.8,401.96H1052.6M1054.8,390.72H1052.6M1054.8,379.48H1052.6M1054.8,368.24H1052.6" stroke="#1a1a1a" stroke-width="1.1" fill="none"/>
<path d="M745.8,583.8V579M807.6,583.8V579M869.4,583.8V579M931.2,583.8V579M993,583.8V579M1054.8,583.8V579M758.16,581.8V579.4M770.52,581.8V579.4M782.88,581.8V579.4M795.24,581.8V579.4M819.96,581.8V579.4M832.32,581.8V579.4M844.68,581.8V579.4M857.04,581.8V579.4M881.76,581.8V579.4M894.12,581.8V579.4M906.48,581.8V579.4M918.84,581.8V579.4M943.56,581.8V579.4M955.92,581.8V579.4M968.28,581.8V579.4M980.64,581.8V579.4M1005.36,581.8V579.4M1017.72,581.8V579.4M1030.08,581.8V579.4M1042.44,581.8V579.4" stroke="#1a1a1a" stroke-width="1.1"/>
<text x="742.5" y="587.8" font-size="14" text-anchor="end" fill="#000" >0</text>
<text x="742.5" y="550.33" font-size="14" text-anchor="end" fill="#000" >1000</text>
<text x="742.5" y="512.87" font-size="14" text-anchor="end" fill="#000" >2000</text>
<text x="742.5" y="475.4" font-size="14" text-anchor="end" fill="#000" >3000</text>
<text x="742.5" y="437.93" font-size="14" text-anchor="end" fill="#000" >4000</text>
<text x="742.5" y="400.47" font-size="14" text-anchor="end" fill="#000" >5000</text>
<text x="742.5" y="363" font-size="14" text-anchor="end" fill="#000" >6000</text>
<text x="1060.6" y="363" font-size="14" text-anchor="start" fill="#000" >10</text>
<text x="1060.6" y="419.2" font-size="14" text-anchor="start" fill="#000" >6</text>
<text x="1060.6" y="475.4" font-size="14" text-anchor="start" fill="#000" >2</text>
<text x="1060.6" y="531.6" font-size="14" text-anchor="start" fill="#000" >-2</text>
<text x="1060.6" y="587.8" font-size="14" text-anchor="start" fill="#000" >-6</text>
<text x="745.8" y="597.3" font-size="14" text-anchor="middle" fill="#000" >0</text>
<text x="807.6" y="597.3" font-size="14" text-anchor="middle" fill="#000" >200</text>
<text x="869.4" y="597.3" font-size="14" text-anchor="middle" fill="#000" >400</text>
<text x="931.2" y="597.3" font-size="14" text-anchor="middle" fill="#000" >600</text>
<text x="993" y="597.3" font-size="14" text-anchor="middle" fill="#000" >800</text>
<text x="1050.3" y="597.3" font-size="14" text-anchor="middle" fill="#000" >1000</text>
<text x="899.8" y="610" font-size="13" text-anchor="middle" fill="#111" textLength="139.6" lengthAdjust="spacingAndGlyphs" >Cooling  rate(°C/year)</text>
<text x="0" y="0" font-size="14" text-anchor="middle" textLength="51.3" lengthAdjust="spacingAndGlyphs" transform="translate(703.7,470.4) rotate(-90)">Li (ppm)</text>
<text x="0" y="0" font-size="13.5" text-anchor="middle" textLength="47.4" lengthAdjust="spacingAndGlyphs" transform="translate(1084.7,469.4) rotate(-90)"><tspan font-family="&apos;Liberation Serif&apos;, serif">δ</tspan><tspan font-size="8" dy="-5">7</tspan><tspan dy="5">Li (‰)</tspan></text>
<path d="M772.1,531.3H796.4" stroke="#2bb0dc" stroke-width="1.6"/>
<text x="799.1" y="534.3" font-size="8.5" fill="#444"><tspan font-style="italic">β</tspan> = 0.1</text>
<path d="M772.1,542.3H796.4" stroke="#c21ec8" stroke-width="1.6"/>
<text x="799.1" y="545.3" font-size="8.5" fill="#444"><tspan font-style="italic">β</tspan> = 0.05</text>
<text x="971.3" y="389.5" font-size="10.5" text-anchor="start" fill="#111" textLength="75.8" lengthAdjust="spacingAndGlyphs" >Li concentration</text>
<text x="946.9" y="439.5" font-size="11" text-anchor="start" fill="#333" textLength="93.9" lengthAdjust="spacingAndGlyphs" >Spodumene-absent</text>
<text x="946.9" y="450" font-size="11" text-anchor="start" fill="#333" textLength="46.5" lengthAdjust="spacingAndGlyphs" >pegmatite</text>
<text x="943.3" y="506.6" font-size="11" text-anchor="start" fill="#333" textLength="97.8" lengthAdjust="spacingAndGlyphs" >Spodumene-bearing</text>
<text x="943.3" y="516.6" font-size="11" text-anchor="start" fill="#333" textLength="46.5" lengthAdjust="spacingAndGlyphs" >pegmatite</text>
<rect x="1042.7" y="675.2" width="8.3" height="36.1" fill="#f8ca80"/>
<rect x="1042.7" y="723.9" width="8.3" height="31.2" fill="#e8767f"/>
<path d="M746.9,845.9 L747.52,828.18 L748.14,819.49 L748.75,812.74 L749.37,807.05 L749.99,802.08 L750.61,797.62 L751.22,793.57 L751.84,789.84 L752.46,786.39 L753.08,783.16 L753.69,780.14 L756.23,769.32 L758.77,760.41 L761.31,752.83 L763.85,746.26 L766.38,740.46 L768.92,735.3 L771.46,730.66 L774,726.46 L776.53,722.63 L779.07,719.12 L781.61,715.9 L784.15,712.92 L786.69,710.17 L789.22,707.61 L791.76,705.22 L794.3,703 L796.84,700.91 L799.38,698.96 L801.91,697.13 L804.45,695.4 L806.99,693.77 L809.53,692.24 L812.06,690.79 L814.6,689.42 L817.14,688.12 L819.68,686.89 L822.22,685.72 L824.75,684.61 L827.29,683.56 L829.83,682.55 L832.37,681.59 L834.91,680.68 L837.44,679.81 L839.98,678.98 L842.52,678.19 L845.06,677.43 L847.59,676.7 L850.13,676.01 L852.67,675.34 L855.21,674.71 L857.75,674.1 L860.28,673.51 L862.82,672.95 L865.36,672.41 L867.9,671.89 L870.44,671.39 L872.97,670.91 L875.51,670.45 L878.05,670.01 L880.59,669.59 L883.12,669.18 L885.66,668.78 L888.2,668.4 L890.74,668.03 L893.28,667.68 L895.81,667.34 L898.35,667.01 L900.89,666.69 L903.43,666.38 L905.97,666.09 L908.5,665.8 L911.04,665.53 L913.58,665.26 L916.12,665 L918.66,664.75 L921.19,664.51 L923.73,664.28 L926.27,664.05 L928.81,663.83 L931.34,663.62 L933.88,663.42 L936.42,663.22 L938.96,663.03 L941.5,662.84 L944.03,662.66 L946.57,662.48 L949.11,662.32 L951.65,662.15 L954.19,661.99 L956.72,661.84 L959.26,661.69 L961.8,661.54 L964.34,661.4 L966.87,661.26 L969.41,661.13 L971.95,661 L974.49,660.88 L977.03,660.75 L979.56,660.64 L982.1,660.52 L984.64,660.41 L987.18,660.3 L989.72,660.2 L992.25,660.09 L994.79,659.99 L997.33,659.9 L999.87,659.8 L1002.4,659.71 L1004.94,659.62 L1007.48,659.53 L1010.02,659.45 L1012.56,659.37 L1015.09,659.29 L1017.63,659.21 L1020.17,659.13 L1022.71,659.06 L1025.25,658.99 L1027.78,658.92 L1030.32,658.85 L1032.86,658.78 L1035.4,658.72 L1037.93,658.66 L1040.47,658.6 L1043.01,658.54 L1045.55,658.48 L1048.09,658.42 L1050.62,658.37 L1053.16,658.31 L1055.7,658.26" stroke="#0f1f45" stroke-width="2.0" fill="none"/>
<path d="M746.9,711.5 L747.52,711.96 L748.14,712.41 L748.75,712.86 L749.37,713.31 L749.99,713.76 L750.61,714.21 L751.22,714.65 L751.84,715.09 L752.46,715.53 L753.08,715.97 L753.69,716.41 L756.23,718.19 L758.77,719.94 L761.31,721.67 L763.85,723.36 L766.38,725.03 L768.92,726.67 L771.46,728.29 L774,729.87 L776.53,731.43 L779.07,732.97 L781.61,734.47 L784.15,735.95 L786.69,737.41 L789.22,738.84 L791.76,740.25 L794.3,741.63 L796.84,742.98 L799.38,744.31 L801.91,745.62 L804.45,746.9 L806.99,748.16 L809.53,749.39 L812.06,750.61 L814.6,751.79 L817.14,752.96 L819.68,754.1 L822.22,755.22 L824.75,756.32 L827.29,757.4 L829.83,758.46 L832.37,759.49 L834.91,760.5 L837.44,761.49 L839.98,762.47 L842.52,763.42 L845.06,764.35 L847.59,765.26 L850.13,766.15 L852.67,767.02 L855.21,767.87 L857.75,768.7 L860.28,769.52 L862.82,770.31 L865.36,771.09 L867.9,771.85 L870.44,772.59 L872.97,773.32 L875.51,774.02 L878.05,774.71 L880.59,775.39 L883.12,776.04 L885.66,776.68 L888.2,777.31 L890.74,777.92 L893.28,778.51 L895.81,779.09 L898.35,779.65 L900.89,780.19 L903.43,780.73 L905.97,781.24 L908.5,781.75 L911.04,782.24 L913.58,782.71 L916.12,783.18 L918.66,783.63 L921.19,784.06 L923.73,784.49 L926.27,784.9 L928.81,785.3 L931.34,785.68 L933.88,786.06 L936.42,786.42 L938.96,786.77 L941.5,787.11 L944.03,787.44 L946.57,787.76 L949.11,788.07 L951.65,788.37 L954.19,788.66 L956.72,788.94 L959.26,789.21 L961.8,789.47 L964.34,789.72 L966.87,789.97 L969.41,790.2 L971.95,790.43 L974.49,790.65 L977.03,790.86 L979.56,791.06 L982.1,791.26 L984.64,791.45 L987.18,791.63 L989.72,791.81 L992.25,791.98 L994.79,792.14 L997.33,792.3 L999.87,792.45 L1002.4,792.6 L1004.94,792.74 L1007.48,792.88 L1010.02,793.01 L1012.56,793.14 L1015.09,793.27 L1017.63,793.39 L1020.17,793.5 L1022.71,793.62 L1025.25,793.73 L1027.78,793.84 L1030.32,793.94 L1032.86,794.04 L1035.4,794.14 L1037.93,794.24 L1040.47,794.34 L1043.01,794.43 L1045.55,794.53 L1048.09,794.62 L1050.62,794.71 L1053.16,794.81 L1055.7,794.9" stroke="#d42a22" stroke-width="2.2" fill="none" stroke-dasharray="5.5 3.5"/>
<path d="M746.9,670.81 L747.52,671.5 L748.14,672.19 L748.75,672.87 L749.37,673.56 L749.99,674.23 L750.61,674.91 L751.22,675.58 L751.84,676.25 L752.46,676.92 L753.08,677.58 L753.69,678.25 L756.23,680.94 L758.77,683.58 L761.31,686.19 L763.85,688.74 L766.38,691.25 L768.92,693.72 L771.46,696.15 L774,698.53 L776.53,700.87 L779.07,703.17 L781.61,705.42 L784.15,707.64 L786.69,709.81 L789.22,711.94 L791.76,714.04 L794.3,716.09 L796.84,718.1 L799.38,720.08 L801.91,722.02 L804.45,723.92 L806.99,725.78 L809.53,727.6 L812.06,729.39 L814.6,731.14 L817.14,732.86 L819.68,734.54 L822.22,736.18 L824.75,737.79 L827.29,739.37 L829.83,740.91 L832.37,742.42 L834.91,743.9 L837.44,745.34 L839.98,746.75 L842.52,748.13 L845.06,749.48 L847.59,750.8 L850.13,752.09 L852.67,753.34 L855.21,754.57 L857.75,755.77 L860.28,756.94 L862.82,758.08 L865.36,759.2 L867.9,760.28 L870.44,761.34 L872.97,762.37 L875.51,763.38 L878.05,764.36 L880.59,765.31 L883.12,766.24 L885.66,767.15 L888.2,768.03 L890.74,768.89 L893.28,769.72 L895.81,770.53 L898.35,771.32 L900.89,772.09 L903.43,772.83 L905.97,773.55 L908.5,774.26 L911.04,774.94 L913.58,775.6 L916.12,776.24 L918.66,776.87 L921.19,777.47 L923.73,778.06 L926.27,778.62 L928.81,779.18 L931.34,779.71 L933.88,780.23 L936.42,780.73 L938.96,781.21 L941.5,781.68 L944.03,782.14 L946.57,782.58 L949.11,783 L951.65,783.41 L954.19,783.81 L956.72,784.2 L959.26,784.57 L961.8,784.93 L964.34,785.28 L966.87,785.62 L969.41,785.95 L971.95,786.26 L974.49,786.57 L977.03,786.87 L979.56,787.16 L982.1,787.44 L984.64,787.71 L987.18,787.97 L989.72,788.23 L992.25,788.47 L994.79,788.72 L997.33,788.95 L999.87,789.18 L1002.4,789.41 L1004.94,789.63 L1007.48,789.84 L1010.02,790.05 L1012.56,790.26 L1015.09,790.46 L1017.63,790.66 L1020.17,790.86 L1022.71,791.06 L1025.25,791.25 L1027.78,791.45 L1030.32,791.64 L1032.86,791.83 L1035.4,792.02 L1037.93,792.22 L1040.47,792.41 L1043.01,792.61 L1045.55,792.8 L1048.09,793 L1050.62,793.2 L1053.16,793.41 L1055.7,793.61" stroke="#1f4f8f" stroke-width="1.7" fill="none" stroke-dasharray="10 3 1.5 3"/>
<rect x="746.9" y="621.5" width="308.8" height="224.4" fill="none" stroke="#1a1a1a" stroke-width="1.3"/>
<path d="M744.4,845.9H749.4M744.4,808.5H749.4M744.4,771.1H749.4M744.4,733.7H749.4M744.4,696.3H749.4M744.4,658.9H749.4M744.4,621.5H749.4M746.9,838.42H749.1M746.9,830.94H749.1M746.9,823.46H749.1M746.9,815.98H749.1M746.9,801.02H749.1M746.9,793.54H749.1M746.9,786.06H749.1M746.9,778.58H749.1M746.9,763.62H749.1M746.9,756.14H749.1M746.9,748.66H749.1M746.9,741.18H749.1M746.9,726.22H749.1M746.9,718.74H749.1M746.9,711.26H749.1M746.9,703.78H749.1M746.9,688.82H749.1M746.9,681.34H749.1M746.9,673.86H749.1M746.9,666.38H749.1M746.9,651.42H749.1M746.9,643.94H749.1M746.9,636.46H749.1M746.9,628.98H749.1" stroke="#1a1a1a" stroke-width="1.1" fill="none"/>
<path d="M1058.2,621.5H1053.2M1058.2,666.38H1053.2M1058.2,711.26H1053.2M1058.2,756.14H1053.2M1058.2,801.02H1053.2M1058.2,845.9H1053.2M1055.7,836.92H1053.5M1055.7,827.95H1053.5M1055.7,818.97H1053.5M1055.7,810H1053.5M1055.7,792.04H1053.5M1055.7,783.07H1053.5M1055.7,774.09H1053.5M1055.7,765.12H1053.5M1055.7,747.16H1053.5M1055.7,738.19H1053.5M1055.7,729.21H1053.5M1055.7,720.24H1053.5M1055.7,702.28H1053.5M1055.7,693.31H1053.5M1055.7,684.33H1053.5M1055.7,675.36H1053.5M1055.7,657.4H1053.5M1055.7,648.43H1053.5M1055.7,639.45H1053.5M1055.7,630.48H1053.5" stroke="#1a1a1a" stroke-width="1.1" fill="none"/>
<path d="M746.9,847.9V843.1M808.66,847.9V843.1M870.42,847.9V843.1M932.18,847.9V843.1M993.94,847.9V843.1M1055.7,847.9V843.1M759.25,845.9V843.5M771.6,845.9V843.5M783.96,845.9V843.5M796.31,845.9V843.5M821.01,845.9V843.5M833.36,845.9V843.5M845.72,845.9V843.5M858.07,845.9V843.5M882.77,845.9V843.5M895.12,845.9V843.5M907.48,845.9V843.5M919.83,845.9V843.5M944.53,845.9V843.5M956.88,845.9V843.5M969.24,845.9V843.5M981.59,845.9V843.5M1006.29,845.9V843.5M1018.64,845.9V843.5M1031,845.9V843.5M1043.35,845.9V843.5" stroke="#1a1a1a" stroke-width="1.1"/>
<text x="743.6" y="851.9" font-size="14" text-anchor="end" fill="#000" >0</text>
<text x="743.6" y="814.5" font-size="14" text-anchor="end" fill="#000" >1000</text>
<text x="743.6" y="777.1" font-size="14" text-anchor="end" fill="#000" >2000</text>
<text x="743.6" y="739.7" font-size="14" text-anchor="end" fill="#000" >3000</text>
<text x="743.6" y="702.3" font-size="14" text-anchor="end" fill="#000" >4000</text>
<text x="743.6" y="664.9" font-size="14" text-anchor="end" fill="#000" >5000</text>
<text x="743.6" y="627.5" font-size="14" text-anchor="end" fill="#000" >6000</text>
<text x="1061.5" y="627.5" font-size="14" text-anchor="start" fill="#000" >10</text>
<text x="1061.5" y="672.38" font-size="14" text-anchor="start" fill="#000" >6</text>
<text x="1061.5" y="717.26" font-size="14" text-anchor="start" fill="#000" >2</text>
<text x="1061.5" y="762.14" font-size="14" text-anchor="start" fill="#000" >-2</text>
<text x="1061.5" y="807.02" font-size="14" text-anchor="start" fill="#000" >-6</text>
<text x="1061.5" y="851.9" font-size="14" text-anchor="start" fill="#000" >-10</text>
<text x="746.9" y="861.4" font-size="14" text-anchor="middle" fill="#000" >0</text>
<text x="808.66" y="861.4" font-size="14" text-anchor="middle" fill="#000" >200</text>
<text x="870.42" y="861.4" font-size="14" text-anchor="middle" fill="#000" >400</text>
<text x="932.18" y="861.4" font-size="14" text-anchor="middle" fill="#000" >600</text>
<text x="993.94" y="861.4" font-size="14" text-anchor="middle" fill="#000" >800</text>
<text x="1051.2" y="861.4" font-size="14" text-anchor="middle" fill="#000" >1000</text>
<text x="900.8" y="874.1" font-size="13" text-anchor="middle" fill="#111" textLength="139.6" lengthAdjust="spacingAndGlyphs" >Cooling  rate(°C/year)</text>
<text x="0" y="0" font-size="14" text-anchor="middle" textLength="51.3" lengthAdjust="spacingAndGlyphs" transform="translate(703.7,734.7) rotate(-90)">Li (ppm)</text>
<text x="0" y="0" font-size="13.5" text-anchor="middle" textLength="48.8" lengthAdjust="spacingAndGlyphs" transform="translate(1088.4,733.7) rotate(-90)"><tspan font-family="&apos;Liberation Serif&apos;, serif">δ</tspan><tspan font-size="8" dy="-5">7</tspan><tspan dy="5">Li (‰)</tspan></text>
<path d="M774.2,794.8H798.5" stroke="#d42a22" stroke-width="1.6" stroke-dasharray="3 1.5"/>
<text x="801.2" y="797.8" font-size="8.5" fill="#444"><tspan font-style="italic">β</tspan> = 0.1</text>
<path d="M774.2,805.3H798.5" stroke="#1f4f8f" stroke-width="1.6" stroke-dasharray="10 2.5 1.5 2.5"/>
<text x="801.2" y="808.3" font-size="8.5" fill="#444"><tspan font-style="italic">β</tspan> = 0.15</text>
<text x="972.1" y="653" font-size="10.5" text-anchor="start" fill="#111" textLength="76.4" lengthAdjust="spacingAndGlyphs" >Li concentration</text>
<text x="945.9" y="690.9" font-size="11" text-anchor="start" fill="#333" textLength="93.9" lengthAdjust="spacingAndGlyphs" >Spodumene-absent</text>
<text x="945.9" y="701.4" font-size="11" text-anchor="start" fill="#333" textLength="46.5" lengthAdjust="spacingAndGlyphs" >pegmatite</text>
<text x="941.8" y="736" font-size="11" text-anchor="start" fill="#333" textLength="97.6" lengthAdjust="spacingAndGlyphs" >Spodumene-bearing</text>
<text x="941.8" y="746.1" font-size="11" text-anchor="start" fill="#333" textLength="46.5" lengthAdjust="spacingAndGlyphs" >pegmatite</text>
<text x="1005.2" y="488.2" font-size="14" fill="#222"><tspan font-family="&apos;Liberation Serif&apos;, serif">δ</tspan><tspan font-size="7.7" dy="-5.32">7</tspan><tspan dy="5.32">Li</tspan></text>
<text x="1020.8" y="813" font-size="14" fill="#222"><tspan font-family="&apos;Liberation Serif&apos;, serif">δ</tspan><tspan font-size="7.7" dy="-5.32">7</tspan><tspan dy="5.32">Li</tspan></text>
</svg>
</body></html>
